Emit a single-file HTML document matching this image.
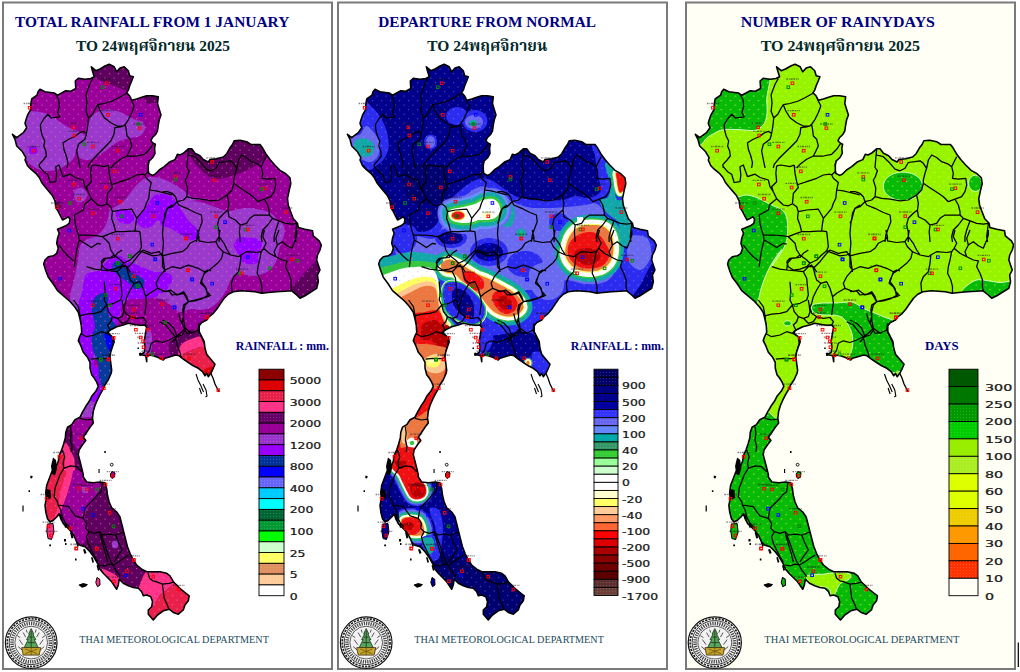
<!DOCTYPE html>
<html lang="th"><head><meta charset="utf-8"><title>Thai Meteorological Department - Rainfall maps</title>
<style>
html,body{margin:0;padding:0;background:#fff;}
svg{display:block;}
.t1{font-family:"Liberation Serif","Times New Roman",serif;font-weight:bold;font-size:15.4px;fill:#000080;}
.t2{font-family:"Liberation Serif","Noto Serif Thai","FreeSerif","Trirong","Taviraj","Noto Sans Thai",serif;font-weight:bold;font-size:15.4px;fill:#002828;}
.ft{font-family:"Liberation Serif","Times New Roman",serif;font-size:10.3px;fill:#1c4a5c;}
.lt{font-family:"Liberation Serif","Times New Roman",serif;font-weight:bold;font-size:11.9px;fill:#000080;}
.lb{font-family:"DejaVu Sans","Liberation Sans",sans-serif;font-size:8.1px;fill:#111;stroke:#222;stroke-width:0.22px;}
</style></head><body>
<svg width="1020" height="672" viewBox="0 0 1020 672">
<rect x="0" y="0" width="1020" height="672" fill="#fff"/>
<rect x="3" y="2.5" width="329" height="666.5" fill="#ffffff" stroke="#7a7a7a" stroke-width="2"/>
<rect x="338" y="2.5" width="329" height="666.5" fill="#ffffff" stroke="#7a7a7a" stroke-width="2"/>
<rect x="686" y="2.5" width="329" height="666.5" fill="#fffff6" stroke="#7a7a7a" stroke-width="2"/>
<defs>
<pattern id="dots" width="3" height="3" patternUnits="userSpaceOnUse"><rect x="0" y="0" width="1" height="1" fill="#fff"/></pattern><clipPath id="thai"><polygon points="91.3,66.8 95.8,70.7 100.0,69.0 105.0,66.0 109.2,64.3 114.2,66.8 116.7,71.8 120.0,68.0 124.2,66.8 128.3,70.7 129.7,75.7 133.3,76.8 131.7,81.0 129.7,85.7 128.3,90.2 126.7,92.7 129.7,96.0 131.7,100.2 136.7,99.0 141.7,97.3 146.7,95.7 152.5,95.7 158.3,96.8 157.5,103.5 159.2,109.3 161.0,115.0 159.2,120.0 158.3,125.0 157.5,130.8 155.8,134.2 152.5,137.5 150.8,140.8 153.3,143.3 155.4,144.2 154.6,148.3 155.0,153.3 152.9,157.5 149.2,160.8 148.3,165.0 148.3,170.0 148.8,173.3 152.5,175.4 155.0,174.2 159.2,170.0 164.2,166.7 170.0,161.7 175.0,159.6 177.5,154.2 180.0,155.0 183.3,153.3 188.3,148.8 191.7,148.8 195.0,153.3 200.0,155.8 203.3,159.5 208.3,162.0 210.0,159.5 216.7,158.7 223.3,157.0 226.7,153.7 230.0,147.8 232.5,144.5 234.2,140.7 240.0,140.3 246.7,141.7 250.8,144.5 260.0,144.5 262.5,147.8 265.8,153.7 270.0,159.5 275.0,165.3 280.0,170.3 285.8,173.7 290.0,177.8 290.8,183.7 289.2,190.3 287.5,198.7 288.3,205.3 290.8,212.0 293.3,218.7 297.5,223.3 298.3,227.5 305.0,229.2 312.5,230.8 313.3,235.8 319.2,240.8 321.3,245.0 320.0,250.0 317.5,255.0 316.7,260.0 318.3,265.0 320.0,270.0 317.5,275.0 318.3,281.7 316.7,288.3 310.0,292.5 305.0,295.8 300.0,298.3 296.7,295.0 291.7,290.8 285.0,291.3 276.7,291.7 268.3,292.5 261.7,293.3 255.0,291.7 248.3,291.3 241.7,290.8 233.3,291.7 228.3,294.2 224.2,298.3 220.0,304.2 216.7,309.2 213.3,313.3 208.3,317.5 206.7,320.0 201.7,322.5 199.2,325.8 199.2,331.7 201.7,336.7 204.2,341.7 205.0,348.3 206.7,354.2 210.8,359.2 215.0,364.2 213.3,368.3 210.8,373.3 208.3,376.7 206.7,373.3 205.0,375.8 202.5,371.7 198.3,368.3 193.3,365.8 188.3,362.5 183.3,359.2 179.2,355.8 175.8,355.0 170.0,356.7 165.0,358.3 163.3,360.0 158.3,357.5 153.3,355.8 148.3,355.0 146.7,356.7 146.7,361.7 145.8,355.8 142.5,355.0 140.0,354.7 144.2,352.5 145.0,346.7 144.2,341.7 145.0,336.7 145.8,331.7 146.7,327.5 145.0,325.0 140.0,325.3 133.3,324.2 128.3,323.3 123.3,325.0 116.7,326.7 111.7,329.2 108.3,331.7 109.2,334.2 113.3,337.5 114.2,341.7 112.5,346.7 110.8,351.7 110.0,356.7 110.8,363.3 111.7,370.0 111.3,373.0 108.3,379.7 105.0,384.7 103.3,388.8 100.0,394.7 97.5,399.7 95.0,405.5 93.3,411.3 92.5,418.0 93.3,423.0 90.0,427.2 86.7,432.2 83.3,437.2 85.8,440.5 82.5,444.7 79.2,449.7 78.3,454.7 80.0,461.3 81.7,468.0 83.3,474.7 83.3,477.0 86.7,482.0 93.3,482.8 100.0,482.0 105.0,482.8 106.7,488.7 107.5,495.3 109.2,502.0 111.7,507.8 116.7,512.0 120.0,517.0 121.7,523.7 123.3,530.3 125.0,537.0 126.7,543.7 127.5,546.7 130.0,553.3 133.3,560.0 136.7,565.0 141.7,569.2 146.7,571.7 153.3,571.7 160.0,571.7 166.7,573.3 170.0,575.8 173.3,581.7 176.7,585.0 180.8,589.2 185.0,592.5 189.2,595.8 188.3,600.8 185.0,605.0 183.3,610.0 178.3,614.2 173.3,612.5 169.2,609.2 163.3,610.8 157.5,615.0 153.3,620.0 148.3,614.2 148.3,610.0 151.7,606.7 152.5,601.7 150.8,596.7 146.7,595.0 143.3,595.8 141.7,591.7 138.3,588.3 133.3,587.5 128.3,585.8 123.3,583.3 119.2,579.2 118.3,585.0 116.7,589.2 115.0,586.7 111.7,581.7 107.5,577.5 103.3,573.3 100.0,569.2 97.5,563.3 94.2,557.5 90.0,551.7 85.0,546.7 80.0,545.3 76.7,542.0 74.2,536.2 70.8,531.2 67.5,527.8 63.3,523.7 60.8,518.7 59.2,513.7 56.7,517.0 53.3,520.3 50.0,522.0 47.5,518.7 45.8,512.0 45.0,505.3 46.3,498.7 45.8,492.0 46.7,485.3 49.2,478.7 51.7,472.0 55.8,467.2 58.3,461.3 59.2,455.5 61.7,449.7 63.7,443.8 65.3,438.0 65.8,432.2 67.5,427.2 71.7,424.7 75.0,419.7 80.0,417.2 82.5,412.2 85.8,406.3 89.2,401.3 91.7,396.3 95.8,391.3 98.3,386.3 96.7,382.2 94.2,378.0 91.7,374.7 90.0,368.0 90.0,362.3 87.5,357.3 83.3,352.3 80.8,345.7 78.3,340.7 79.7,336.5 81.7,332.3 81.3,325.7 80.0,319.0 78.3,312.3 75.0,307.3 70.0,301.5 63.3,295.7 57.5,290.7 53.3,284.0 48.3,277.3 45.8,270.7 43.7,264.0 45.0,260.0 48.3,256.7 53.3,255.8 56.7,253.3 58.3,248.3 56.7,243.3 57.5,238.3 59.2,233.3 57.5,229.2 61.7,227.5 65.8,225.8 69.2,223.3 70.0,219.2 68.3,216.7 65.8,218.3 62.5,220.0 60.8,216.7 58.3,211.7 55.8,207.5 55.0,200.8 52.5,195.8 49.2,191.7 45.0,186.7 41.7,182.5 39.2,177.5 35.8,173.3 30.8,169.2 27.5,165.8 25.0,160.0 25.8,157.7 22.5,151.8 16.7,146.0 15.0,139.3 12.5,134.3 16.7,137.7 23.3,132.7 26.7,127.7 25.0,123.5 25.8,120.2 27.5,115.2 30.8,109.3 30.8,104.3 31.7,99.0 37.0,95.2 38.0,91.8 40.0,89.3 45.0,91.8 54.2,93.0 57.5,95.2 65.8,90.7 70.8,91.3 75.8,88.5 75.3,81.0 78.3,78.2 85.0,79.3 90.8,78.5 94.2,76.8 92.7,71.8"/></clipPath><pattern id="tx0" width="9" height="9" patternUnits="userSpaceOnUse"><rect x="1" y="1" width="1.2" height="1.2" fill="#ff70c8"/><rect x="5.5" y="5.5" width="1.2" height="1.2" fill="#ff70c8"/></pattern><pattern id="tx1" width="9" height="9" patternUnits="userSpaceOnUse"><rect x="1" y="1" width="1.2" height="1.2" fill="#9ab0ff"/><rect x="5.5" y="5.5" width="1.2" height="1.2" fill="#9ab0ff"/></pattern><pattern id="tx2" width="9" height="9" patternUnits="userSpaceOnUse"><rect x="1" y="1" width="1.2" height="1.2" fill="#f0ff30"/><rect x="5.5" y="5.5" width="1.2" height="1.2" fill="#f0ff30"/></pattern><clipPath id="frame0"><rect x="4" y="4" width="327" height="664"/></clipPath><clipPath id="frame1"><rect x="339" y="4" width="327" height="664"/></clipPath><clipPath id="frame2"><rect x="687" y="4" width="327" height="664"/></clipPath>
</defs>
<g clip-path="url(#frame0)"><g transform="translate(0,0) scale(1,1)"><polygon points="91.3,66.8 95.8,70.7 100.0,69.0 105.0,66.0 109.2,64.3 114.2,66.8 116.7,71.8 120.0,68.0 124.2,66.8 128.3,70.7 129.7,75.7 133.3,76.8 131.7,81.0 129.7,85.7 128.3,90.2 126.7,92.7 129.7,96.0 131.7,100.2 136.7,99.0 141.7,97.3 146.7,95.7 152.5,95.7 158.3,96.8 157.5,103.5 159.2,109.3 161.0,115.0 159.2,120.0 158.3,125.0 157.5,130.8 155.8,134.2 152.5,137.5 150.8,140.8 153.3,143.3 155.4,144.2 154.6,148.3 155.0,153.3 152.9,157.5 149.2,160.8 148.3,165.0 148.3,170.0 148.8,173.3 152.5,175.4 155.0,174.2 159.2,170.0 164.2,166.7 170.0,161.7 175.0,159.6 177.5,154.2 180.0,155.0 183.3,153.3 188.3,148.8 191.7,148.8 195.0,153.3 200.0,155.8 203.3,159.5 208.3,162.0 210.0,159.5 216.7,158.7 223.3,157.0 226.7,153.7 230.0,147.8 232.5,144.5 234.2,140.7 240.0,140.3 246.7,141.7 250.8,144.5 260.0,144.5 262.5,147.8 265.8,153.7 270.0,159.5 275.0,165.3 280.0,170.3 285.8,173.7 290.0,177.8 290.8,183.7 289.2,190.3 287.5,198.7 288.3,205.3 290.8,212.0 293.3,218.7 297.5,223.3 298.3,227.5 305.0,229.2 312.5,230.8 313.3,235.8 319.2,240.8 321.3,245.0 320.0,250.0 317.5,255.0 316.7,260.0 318.3,265.0 320.0,270.0 317.5,275.0 318.3,281.7 316.7,288.3 310.0,292.5 305.0,295.8 300.0,298.3 296.7,295.0 291.7,290.8 285.0,291.3 276.7,291.7 268.3,292.5 261.7,293.3 255.0,291.7 248.3,291.3 241.7,290.8 233.3,291.7 228.3,294.2 224.2,298.3 220.0,304.2 216.7,309.2 213.3,313.3 208.3,317.5 206.7,320.0 201.7,322.5 199.2,325.8 199.2,331.7 201.7,336.7 204.2,341.7 205.0,348.3 206.7,354.2 210.8,359.2 215.0,364.2 213.3,368.3 210.8,373.3 208.3,376.7 206.7,373.3 205.0,375.8 202.5,371.7 198.3,368.3 193.3,365.8 188.3,362.5 183.3,359.2 179.2,355.8 175.8,355.0 170.0,356.7 165.0,358.3 163.3,360.0 158.3,357.5 153.3,355.8 148.3,355.0 146.7,356.7 146.7,361.7 145.8,355.8 142.5,355.0 140.0,354.7 144.2,352.5 145.0,346.7 144.2,341.7 145.0,336.7 145.8,331.7 146.7,327.5 145.0,325.0 140.0,325.3 133.3,324.2 128.3,323.3 123.3,325.0 116.7,326.7 111.7,329.2 108.3,331.7 109.2,334.2 113.3,337.5 114.2,341.7 112.5,346.7 110.8,351.7 110.0,356.7 110.8,363.3 111.7,370.0 111.3,373.0 108.3,379.7 105.0,384.7 103.3,388.8 100.0,394.7 97.5,399.7 95.0,405.5 93.3,411.3 92.5,418.0 93.3,423.0 90.0,427.2 86.7,432.2 83.3,437.2 85.8,440.5 82.5,444.7 79.2,449.7 78.3,454.7 80.0,461.3 81.7,468.0 83.3,474.7 83.3,477.0 86.7,482.0 93.3,482.8 100.0,482.0 105.0,482.8 106.7,488.7 107.5,495.3 109.2,502.0 111.7,507.8 116.7,512.0 120.0,517.0 121.7,523.7 123.3,530.3 125.0,537.0 126.7,543.7 127.5,546.7 130.0,553.3 133.3,560.0 136.7,565.0 141.7,569.2 146.7,571.7 153.3,571.7 160.0,571.7 166.7,573.3 170.0,575.8 173.3,581.7 176.7,585.0 180.8,589.2 185.0,592.5 189.2,595.8 188.3,600.8 185.0,605.0 183.3,610.0 178.3,614.2 173.3,612.5 169.2,609.2 163.3,610.8 157.5,615.0 153.3,620.0 148.3,614.2 148.3,610.0 151.7,606.7 152.5,601.7 150.8,596.7 146.7,595.0 143.3,595.8 141.7,591.7 138.3,588.3 133.3,587.5 128.3,585.8 123.3,583.3 119.2,579.2 118.3,585.0 116.7,589.2 115.0,586.7 111.7,581.7 107.5,577.5 103.3,573.3 100.0,569.2 97.5,563.3 94.2,557.5 90.0,551.7 85.0,546.7 80.0,545.3 76.7,542.0 74.2,536.2 70.8,531.2 67.5,527.8 63.3,523.7 60.8,518.7 59.2,513.7 56.7,517.0 53.3,520.3 50.0,522.0 47.5,518.7 45.8,512.0 45.0,505.3 46.3,498.7 45.8,492.0 46.7,485.3 49.2,478.7 51.7,472.0 55.8,467.2 58.3,461.3 59.2,455.5 61.7,449.7 63.7,443.8 65.3,438.0 65.8,432.2 67.5,427.2 71.7,424.7 75.0,419.7 80.0,417.2 82.5,412.2 85.8,406.3 89.2,401.3 91.7,396.3 95.8,391.3 98.3,386.3 96.7,382.2 94.2,378.0 91.7,374.7 90.0,368.0 90.0,362.3 87.5,357.3 83.3,352.3 80.8,345.7 78.3,340.7 79.7,336.5 81.7,332.3 81.3,325.7 80.0,319.0 78.3,312.3 75.0,307.3 70.0,301.5 63.3,295.7 57.5,290.7 53.3,284.0 48.3,277.3 45.8,270.7 43.7,264.0 45.0,260.0 48.3,256.7 53.3,255.8 56.7,253.3 58.3,248.3 56.7,243.3 57.5,238.3 59.2,233.3 57.5,229.2 61.7,227.5 65.8,225.8 69.2,223.3 70.0,219.2 68.3,216.7 65.8,218.3 62.5,220.0 60.8,216.7 58.3,211.7 55.8,207.5 55.0,200.8 52.5,195.8 49.2,191.7 45.0,186.7 41.7,182.5 39.2,177.5 35.8,173.3 30.8,169.2 27.5,165.8 25.0,160.0 25.8,157.7 22.5,151.8 16.7,146.0 15.0,139.3 12.5,134.3 16.7,137.7 23.3,132.7 26.7,127.7 25.0,123.5 25.8,120.2 27.5,115.2 30.8,109.3 30.8,104.3 31.7,99.0 37.0,95.2 38.0,91.8 40.0,89.3 45.0,91.8 54.2,93.0 57.5,95.2 65.8,90.7 70.8,91.3 75.8,88.5 75.3,81.0 78.3,78.2 85.0,79.3 90.8,78.5 94.2,76.8 92.7,71.8" fill="#990099"/><g clip-path="url(#thai)"><path d="M20.0,109.0C21.3,107.2 26.7,110.5 30.0,111.0C33.3,111.5 36.7,111.3 40.0,112.0C43.3,112.7 46.7,113.3 50.0,115.0C53.3,116.7 56.7,119.8 60.0,122.0C63.3,124.2 66.7,126.3 70.0,128.0C73.3,129.7 77.7,130.7 80.0,132.0C82.3,133.3 84.0,134.3 84.0,136.0C84.0,137.7 81.3,139.7 80.0,142.0C78.7,144.3 77.0,147.3 76.0,150.0C75.0,152.7 75.7,155.5 74.0,158.0C72.3,160.5 69.0,163.0 66.0,165.0C63.0,167.0 59.3,169.0 56.0,170.0C52.7,171.0 49.0,171.2 46.0,171.0C43.0,170.8 40.7,170.2 38.0,169.0C35.3,167.8 32.3,166.2 30.0,164.0C27.7,161.8 26.0,158.7 24.0,156.0C22.0,153.3 20.7,150.7 18.0,148.0C15.3,145.3 9.7,142.5 8.0,140.0C6.3,137.5 6.0,133.8 8.0,133.0C10.0,132.2 17.7,136.8 20.0,135.0C22.3,133.2 22.0,126.3 22.0,122.0C22.0,117.7 18.7,110.8 20.0,109.0Z" fill="#9a3acd"/><path d="M80.0,142.0C81.2,139.3 82.7,139.0 84.0,136.0C85.3,133.0 86.3,127.7 88.0,124.0C89.7,120.3 91.3,116.3 94.0,114.0C96.7,111.7 101.0,110.7 104.0,110.0C107.0,109.3 109.3,109.7 112.0,110.0C114.7,110.3 117.3,111.0 120.0,112.0C122.7,113.0 125.3,114.7 128.0,116.0C130.7,117.3 133.5,119.0 136.0,120.0C138.5,121.0 141.5,120.5 143.0,122.0C144.5,123.5 145.5,126.7 145.0,129.0C144.5,131.3 142.3,134.5 140.0,136.0C137.7,137.5 134.3,137.2 131.0,138.0C127.7,138.8 123.2,139.7 120.0,141.0C116.8,142.3 114.7,144.2 112.0,146.0C109.3,147.8 106.7,150.2 104.0,152.0C101.3,153.8 98.7,155.7 96.0,157.0C93.3,158.3 90.7,159.8 88.0,160.0C85.3,160.2 81.8,159.3 80.0,158.0C78.2,156.7 77.0,154.7 77.0,152.0C77.0,149.3 78.8,144.7 80.0,142.0Z" fill="#9a3acd"/><path d="M29.6,147.0C30.6,145.9 34.8,146.0 36.0,147.0C37.2,148.0 38.0,151.9 37.0,153.0C36.0,154.1 31.2,154.6 30.0,153.6C28.8,152.6 28.6,148.1 29.6,147.0Z" fill="#9500ff"/><path d="M75.0,190.0C76.3,188.7 80.0,187.3 82.0,188.0C84.0,188.7 86.7,191.8 87.0,194.0C87.3,196.2 85.7,199.7 84.0,201.0C82.3,202.3 78.7,202.8 77.0,202.0C75.3,201.2 74.3,198.0 74.0,196.0C73.7,194.0 73.7,191.3 75.0,190.0Z" fill="#9a3acd"/><path d="M70.0,298.0C70.0,291.3 72.7,286.3 74.0,280.0C75.3,273.7 77.0,265.7 78.0,260.0C79.0,254.3 78.7,249.3 80.0,246.0C81.3,242.7 83.3,241.7 86.0,240.0C88.7,238.3 93.0,238.0 96.0,236.0C99.0,234.0 102.0,231.0 104.0,228.0C106.0,225.0 107.0,221.0 108.0,218.0C109.0,215.0 108.0,212.3 110.0,210.0C112.0,207.7 117.0,206.3 120.0,204.0C123.0,201.7 125.7,198.7 128.0,196.0C130.3,193.3 131.7,190.7 134.0,188.0C136.3,185.3 139.3,181.8 142.0,180.0C144.7,178.2 147.0,177.3 150.0,177.0C153.0,176.7 156.7,177.2 160.0,178.0C163.3,178.8 166.7,180.3 170.0,182.0C173.3,183.7 177.0,186.0 180.0,188.0C183.0,190.0 186.0,192.5 188.0,194.0C190.0,195.5 190.0,196.3 192.0,197.0C194.0,197.7 197.0,197.7 200.0,198.0C203.0,198.3 206.7,199.0 210.0,199.0C213.3,199.0 225.0,197.5 220.0,198.0C215.0,198.5 185.0,201.5 180.0,202.0C175.0,202.5 186.7,201.0 190.0,201.0C193.3,201.0 196.7,201.3 200.0,202.0C203.3,202.7 206.7,203.8 210.0,205.0C213.3,206.2 216.7,208.0 220.0,209.0C223.3,210.0 227.0,211.0 230.0,211.0C233.0,211.0 234.7,209.5 238.0,209.0C241.3,208.5 246.0,207.8 250.0,208.0C254.0,208.2 258.3,209.0 262.0,210.0C265.7,211.0 269.3,212.3 272.0,214.0C274.7,215.7 276.0,218.0 278.0,220.0C280.0,222.0 283.0,223.3 284.0,226.0C285.0,228.7 284.7,232.7 284.0,236.0C283.3,239.3 281.0,243.0 280.0,246.0C279.0,249.0 278.7,251.3 278.0,254.0C277.3,256.7 277.3,259.3 276.0,262.0C274.7,264.7 272.3,268.0 270.0,270.0C267.7,272.0 264.7,273.0 262.0,274.0C259.3,275.0 256.7,275.8 254.0,276.0C251.3,276.2 248.7,275.3 246.0,275.0C243.3,274.7 240.3,273.5 238.0,274.0C235.7,274.5 233.7,276.0 232.0,278.0C230.3,280.0 229.3,283.3 228.0,286.0C226.7,288.7 225.7,291.3 224.0,294.0C222.3,296.7 220.3,299.7 218.0,302.0C215.7,304.3 213.0,306.7 210.0,308.0C207.0,309.3 203.3,309.7 200.0,310.0C196.7,310.3 192.7,309.7 190.0,310.0C187.3,310.3 186.0,310.7 184.0,312.0C182.0,313.3 180.3,316.7 178.0,318.0C175.7,319.3 172.0,320.0 170.0,320.0C168.0,320.0 167.7,319.3 166.0,318.0C164.3,316.7 162.7,313.7 160.0,312.0C157.3,310.3 153.3,309.2 150.0,308.0C146.7,306.8 143.7,305.3 140.0,305.0C136.3,304.7 131.0,304.8 128.0,306.0C125.0,307.2 123.7,309.3 122.0,312.0C120.3,314.7 119.7,319.0 118.0,322.0C116.3,325.0 115.0,326.2 112.0,330.0C109.0,333.8 103.3,338.0 100.0,345.0C96.7,352.0 92.7,364.2 92.0,372.0C91.3,379.8 96.3,384.0 96.0,392.0C95.7,400.0 92.7,414.5 90.0,420.0C87.3,425.5 80.7,428.3 80.0,425.0C79.3,421.7 84.3,407.5 86.0,400.0C87.7,392.5 90.3,386.7 90.0,380.0C89.7,373.3 86.3,366.7 84.0,360.0C81.7,353.3 77.7,346.7 76.0,340.0C74.3,333.3 75.0,327.0 74.0,320.0C73.0,313.0 70.0,304.7 70.0,298.0Z" fill="#9a3acd"/><path d="M124.0,303.0C126.3,300.7 130.7,298.0 135.0,297.0C139.3,296.0 145.3,296.5 150.0,297.0C154.7,297.5 159.3,298.5 163.0,300.0C166.7,301.5 169.2,304.0 172.0,306.0C174.8,308.0 176.7,311.5 180.0,312.0C183.3,312.5 188.2,309.0 192.0,309.0C195.8,309.0 200.0,310.5 203.0,312.0C206.0,313.5 210.0,315.7 210.0,318.0C210.0,320.3 205.0,323.0 203.0,326.0C201.0,329.0 200.8,333.7 198.0,336.0C195.2,338.3 189.7,338.3 186.0,340.0C182.3,341.7 179.3,343.0 176.0,346.0C172.7,349.0 170.0,356.2 166.0,358.0C162.0,359.8 154.7,360.0 152.0,357.0C149.3,354.0 150.8,345.0 150.0,340.0C149.2,335.0 149.3,329.8 147.0,327.0C144.7,324.2 139.5,324.2 136.0,323.0C132.5,321.8 128.5,322.0 126.0,320.0C123.5,318.0 121.3,313.8 121.0,311.0C120.7,308.2 121.7,305.3 124.0,303.0Z" fill="#990099"/><path d="M145.0,330.0C146.2,328.0 149.8,329.5 151.0,332.0C152.2,334.5 152.3,341.0 152.0,345.0C151.7,349.0 150.5,354.2 149.0,356.0C147.5,357.8 143.8,358.0 143.0,356.0C142.2,354.0 143.7,348.3 144.0,344.0C144.3,339.7 143.8,332.0 145.0,330.0Z" fill="#9a3acd"/><path d="M116.0,212.0C117.2,210.5 121.3,209.0 124.0,209.0C126.7,209.0 130.3,210.2 132.0,212.0C133.7,213.8 134.7,218.0 134.0,220.0C133.3,222.0 130.3,223.7 128.0,224.0C125.7,224.3 121.8,223.0 120.0,222.0C118.2,221.0 117.7,219.7 117.0,218.0C116.3,216.3 114.8,213.5 116.0,212.0Z" fill="#9500ff"/><path d="M137.0,222.0C136.3,219.7 138.2,217.0 140.0,214.0C141.8,211.0 145.7,207.0 148.0,204.0C150.3,201.0 151.7,197.7 154.0,196.0C156.3,194.3 159.0,193.8 162.0,194.0C165.0,194.2 169.0,194.7 172.0,197.0C175.0,199.3 177.3,204.2 180.0,208.0C182.7,211.8 185.0,216.3 188.0,220.0C191.0,223.7 196.0,227.3 198.0,230.0C200.0,232.7 201.0,234.3 200.0,236.0C199.0,237.7 195.3,240.3 192.0,240.0C188.7,239.7 183.7,236.0 180.0,234.0C176.3,232.0 173.0,229.3 170.0,228.0C167.0,226.7 164.0,227.3 162.0,226.0C160.0,224.7 159.7,220.0 158.0,220.0C156.3,220.0 154.3,224.7 152.0,226.0C149.7,227.3 146.5,228.7 144.0,228.0C141.5,227.3 137.7,224.3 137.0,222.0Z" fill="#9500ff"/><path d="M86.0,298.0C76.0,295.7 89.7,288.7 92.0,284.0C94.3,279.3 97.0,274.3 100.0,270.0C103.0,265.7 106.7,260.3 110.0,258.0C113.3,255.7 117.3,255.7 120.0,256.0C122.7,256.3 123.7,258.7 126.0,260.0C128.3,261.3 131.0,262.7 134.0,264.0C137.0,265.3 140.7,266.7 144.0,268.0C147.3,269.3 150.7,271.3 154.0,272.0C157.3,272.7 161.0,271.3 164.0,272.0C167.0,272.7 171.3,274.0 172.0,276.0C172.7,278.0 170.3,282.0 168.0,284.0C165.7,286.0 160.7,285.7 158.0,288.0C155.3,290.3 164.0,296.3 152.0,298.0C140.0,299.7 96.0,300.3 86.0,298.0Z" fill="#9500ff"/><path d="M234.0,244.0C235.0,242.2 238.7,240.0 242.0,239.0C245.3,238.0 250.7,237.3 254.0,238.0C257.3,238.7 261.0,241.0 262.0,243.0C263.0,245.0 260.7,247.7 260.0,250.0C259.3,252.3 258.0,255.2 258.0,257.0C258.0,258.8 260.7,259.8 260.0,261.0C259.3,262.2 256.3,263.6 254.0,264.0C251.7,264.4 248.3,264.3 246.0,263.6C243.7,262.9 240.8,261.6 240.0,260.0C239.2,258.4 241.7,255.7 241.0,254.0C240.3,252.3 237.2,251.7 236.0,250.0C234.8,248.3 233.0,245.8 234.0,244.0Z" fill="#9500ff"/><path d="M130.0,267.0C132.0,262.7 138.0,269.2 142.0,270.0C146.0,270.8 150.3,271.3 154.0,272.0C157.7,272.7 161.0,273.0 164.0,274.0C167.0,275.0 171.0,276.3 172.0,278.0C173.0,279.7 172.0,282.7 170.0,284.0C168.0,285.3 163.3,285.0 160.0,286.0C156.7,287.0 153.3,288.7 150.0,290.0C146.7,291.3 143.3,293.0 140.0,294.0C136.7,295.0 131.7,300.5 130.0,296.0C128.3,291.5 128.0,271.3 130.0,267.0Z" fill="#9500ff"/><path d="M236.0,240.0C237.3,237.3 244.0,236.0 246.0,238.0C248.0,240.0 249.3,249.3 248.0,252.0C246.7,254.7 240.0,256.0 238.0,254.0C236.0,252.0 234.7,242.7 236.0,240.0Z" fill="#9500ff"/><path d="M86.7,274.0C89.4,271.8 95.0,271.8 100.0,270.7C105.0,269.6 111.1,268.4 116.7,267.3C122.2,266.2 127.8,263.4 133.3,264.0C138.9,264.6 144.4,269.0 150.0,270.7C155.6,272.3 163.3,271.8 166.7,274.0C170.0,276.2 170.6,280.9 170.0,284.0C169.4,287.1 166.7,290.4 163.3,292.3C160.0,294.3 155.0,294.8 150.0,295.7C145.0,296.5 137.8,296.2 133.3,297.3C128.9,298.4 125.6,299.6 123.3,302.3C121.1,305.1 121.1,310.4 120.0,314.0C118.9,317.6 118.3,321.2 116.7,324.0C115.0,326.8 111.7,329.0 110.0,330.7C108.3,332.3 108.3,332.6 106.7,334.0C105.0,335.4 102.2,335.1 100.0,339.0C97.8,342.9 93.9,351.2 93.3,357.3C92.8,363.5 97.2,372.9 96.7,376.0C96.1,379.1 91.7,378.0 90.0,376.0C88.3,374.0 88.3,368.2 86.7,364.0C85.0,359.8 81.4,355.1 80.0,350.7C78.6,346.2 78.2,341.2 78.3,337.3C78.5,333.4 80.6,331.2 80.8,327.3C81.1,323.4 80.4,317.9 80.0,314.0C79.6,310.1 78.1,307.3 78.3,304.0C78.6,300.7 80.8,297.3 81.7,294.0C82.5,290.7 82.5,287.3 83.3,284.0C84.2,280.7 83.9,276.2 86.7,274.0Z" fill="#9500ff"/><path d="M91.0,372.0C91.8,368.7 98.0,365.3 100.0,368.0C102.0,370.7 103.2,383.2 103.0,388.0C102.8,392.8 100.5,394.7 99.0,397.0C97.5,399.3 95.5,401.8 94.0,402.0C92.5,402.2 89.8,400.3 90.0,398.0C90.2,395.7 94.8,392.3 95.0,388.0C95.2,383.7 90.2,375.3 91.0,372.0Z" fill="#9500ff"/><path d="M113.0,264.0C113.8,262.5 116.5,261.0 118.0,261.0C119.5,261.0 121.0,262.7 122.0,264.0C123.0,265.3 122.7,267.7 124.0,269.0C125.3,270.3 128.0,270.8 130.0,272.0C132.0,273.2 133.8,274.8 136.0,276.0C138.2,277.2 141.7,277.7 143.0,279.0C144.3,280.3 144.5,282.5 144.0,284.0C143.5,285.5 141.7,287.5 140.0,288.0C138.3,288.5 135.7,288.0 134.0,287.0C132.3,286.0 131.7,283.5 130.0,282.0C128.3,280.5 126.0,279.3 124.0,278.0C122.0,276.7 119.8,275.3 118.0,274.0C116.2,272.7 113.8,271.7 113.0,270.0C112.2,268.3 112.2,265.5 113.0,264.0Z" fill="#043a9c"/><path d="M115.0,264.0C116.7,263.4 120.8,264.3 123.3,265.7C125.8,267.1 127.5,270.7 130.0,272.3C132.5,274.0 136.1,274.3 138.3,275.7C140.6,277.1 142.8,278.7 143.3,280.7C143.9,282.6 143.1,285.9 141.7,287.3C140.3,288.7 136.9,289.6 135.0,289.0C133.1,288.4 131.9,285.7 130.0,284.0C128.1,282.3 125.6,280.7 123.3,279.0C121.1,277.3 118.3,275.7 116.7,274.0C115.0,272.3 113.6,270.7 113.3,269.0C113.1,267.3 113.3,264.6 115.0,264.0Z" fill="#043a9c"/><path d="M98.3,294.8C100.1,293.9 103.3,292.5 105.0,293.2C106.7,293.9 108.1,296.6 108.3,299.0C108.6,301.4 106.7,304.8 106.7,307.3C106.7,309.8 106.9,311.2 108.3,314.0C109.7,316.8 113.6,321.8 115.0,324.0C116.4,326.2 117.5,326.2 116.7,327.3C115.8,328.4 111.7,329.6 110.0,330.7C108.3,331.8 106.4,333.2 106.7,334.0C106.9,334.8 110.4,334.6 111.7,335.7C112.9,336.8 114.0,338.7 114.2,340.7C114.3,342.6 113.2,345.1 112.5,347.3C111.8,349.6 110.4,351.8 110.0,354.0C109.6,356.2 109.9,358.4 110.0,360.7C110.1,362.9 110.7,364.8 110.8,367.3C111.0,369.9 112.6,374.6 110.8,376.0C109.0,377.4 102.1,378.0 100.0,376.0C97.9,374.0 99.4,368.2 98.3,364.0C97.2,359.8 94.4,355.1 93.3,350.7C92.2,346.2 91.4,341.2 91.7,337.3C91.9,333.4 94.7,330.7 95.0,327.3C95.3,324.0 93.9,320.7 93.3,317.3C92.8,314.0 91.5,310.4 91.7,307.3C91.8,304.3 93.1,301.1 94.2,299.0C95.3,296.9 96.5,295.8 98.3,294.8Z" fill="#043a9c"/><polygon points="100.0,368.0 112.0,368.0 111.5,373.0 108.5,380.0 105.0,385.0 103.5,389.0 100.5,382.0 98.5,376.0" fill="#043a9c"/><path d="M105.0,334.0C106.1,333.2 110.1,334.8 111.7,336.0C113.2,337.2 114.2,339.1 114.3,341.0C114.5,342.9 113.3,345.6 112.7,347.3C112.0,349.1 111.2,351.5 110.3,351.5C109.5,351.5 108.3,349.1 107.5,347.3C106.7,345.5 105.8,342.9 105.3,340.7C104.9,338.4 103.9,334.8 105.0,334.0Z" fill="#0000ff"/><polygon points="88.0,60.0 136.0,60.0 136.0,80.0 128.0,91.5 93.0,77.5" fill="#5e005e"/><polygon points="142.0,94.0 160.0,94.0 158.0,102.0 147.0,104.0" fill="#5e005e"/><path d="M185.0,140.0C171.6,141.8 185.3,146.5 187.5,151.0C189.7,155.5 193.4,162.4 198.0,167.0C202.6,171.6 208.3,177.6 215.0,178.7C221.7,179.8 231.7,175.6 238.0,173.7C244.3,171.8 248.2,169.8 253.0,167.0C257.8,164.2 264.2,161.5 266.7,157.0C269.2,152.5 281.6,142.8 268.0,140.0C254.4,137.2 198.4,138.2 185.0,140.0Z" fill="#5e005e"/><polygon points="322.0,254.0 286.0,293.0 300.0,302.0 325.0,295.0" fill="#5e005e"/><polygon points="54.0,203.0 60.0,201.0 62.0,207.0 57.0,210.0" fill="#5e005e"/><path d="M175.0,338.3C177.2,336.9 180.2,334.8 183.3,333.3C186.4,331.8 190.8,329.5 193.3,329.2C195.8,328.9 197.2,330.4 198.3,331.7C199.4,332.9 200.8,335.6 200.0,336.7C199.2,337.8 195.8,337.5 193.3,338.3C190.8,339.1 187.2,340.3 185.0,341.7C182.8,343.1 181.1,344.8 180.0,346.7C178.9,348.6 179.7,351.8 178.3,353.3C176.9,354.9 173.4,356.8 171.7,356.0C170.0,355.2 168.6,350.7 168.3,348.3C168.0,345.9 168.9,343.4 170.0,341.7C171.1,340.0 172.8,339.7 175.0,338.3Z" fill="#5e005e"/><polygon points="60.0,445.0 66.0,428.0 72.0,425.0 95.0,425.0 100.0,445.0 135.0,480.0 200.0,570.0 200.0,630.0 40.0,630.0 40.0,480.0" fill="#5e005e"/><path d="M72.0,425.5C73.2,422.7 75.9,419.2 80.0,418.0C84.1,416.8 94.0,417.0 96.7,418.0C99.3,419.0 97.2,421.5 95.8,423.8C94.4,426.2 90.1,429.9 88.3,432.2C86.5,434.4 85.3,435.8 85.0,437.2C84.7,438.6 86.9,439.2 86.7,440.5C86.4,441.8 84.4,443.1 83.3,444.7C82.2,446.2 81.2,449.4 80.0,450.0C78.8,450.6 76.9,449.4 75.8,448.0C74.7,446.6 73.8,443.6 73.3,441.3C72.9,439.1 73.2,437.3 73.0,434.7C72.8,432.0 70.8,428.3 72.0,425.5Z" fill="#990099"/><polygon points="63.7,443.8 66.7,443.0 70.0,449.7 74.2,458.0 75.0,468.0 75.8,481.3 50.0,481.3 53.3,468.0 60.0,451.3" fill="#ff3388"/><polygon points="59.2,455.5 63.3,454.7 65.0,461.3 64.2,468.0 62.5,481.3 50.0,481.3 54.2,473.0 55.8,467.2 57.5,461.3" fill="#e8204a"/><polygon points="65.0,470.3 73.3,470.3 70.8,482.0 67.5,493.7 63.3,505.3 60.0,513.7 58.3,520.3 53.3,521.2 51.7,522.8 43.3,522.0 43.3,470.3" fill="#ff3388"/><path d="M43.3,470.3C46.9,463.4 61.7,468.4 65.0,470.3C68.3,472.3 64.2,478.1 63.3,482.0C62.5,485.9 60.8,489.8 60.0,493.7C59.2,497.6 59.2,501.7 58.3,505.3C57.5,508.9 56.1,512.6 55.0,515.3C53.9,518.1 52.9,521.3 51.7,522.0C50.4,522.7 48.9,521.2 47.5,519.5C46.1,517.8 44.0,520.2 43.3,512.0C42.6,503.8 39.7,477.3 43.3,470.3Z" fill="#e8204a"/><polygon points="73.3,470.3 81.7,470.3 83.3,477.0 86.7,482.0 93.3,482.3 100.3,481.7 100.8,488.7 96.7,495.3 91.7,503.7 86.7,510.3 85.0,515.3 86.7,525.3 88.3,535.3 85.0,542.0 80.0,546.2 76.7,542.8 74.2,536.2 70.8,531.2 67.5,527.8 63.3,523.7 60.8,518.7 60.0,513.7 63.3,505.3 67.5,493.7 70.8,482.0" fill="#990099"/><path d="M82.0,488.0C82.7,487.0 86.0,486.3 87.0,487.0C88.0,487.7 88.7,491.0 88.0,492.0C87.3,493.0 84.0,493.7 83.0,493.0C82.0,492.3 81.3,489.0 82.0,488.0Z" fill="#9a3acd"/><path d="M112.0,542.0C112.7,540.8 116.0,540.2 117.0,541.0C118.0,541.8 118.7,545.8 118.0,547.0C117.3,548.2 114.0,548.8 113.0,548.0C112.0,547.2 111.3,543.2 112.0,542.0Z" fill="#9a3acd"/><polygon points="101.7,568.3 110.0,571.7 116.7,575.8 119.2,579.2 118.3,585.0 116.7,590.0 111.7,582.5 107.5,578.3 102.5,574.2" fill="#ff3388"/><polygon points="143.3,575.8 146.7,570.8 160.0,570.0 170.0,574.2 175.0,583.3 160.0,595.0 153.3,606.7 151.7,610.0 147.5,612.5 151.7,606.7 153.3,601.7 150.8,596.7 146.7,594.2 143.3,596.7 141.7,591.7 138.3,588.7" fill="#ff3388"/><polygon points="175.0,583.3 180.8,588.3 190.0,595.8 189.2,600.8 185.8,605.0 184.2,610.0 178.3,615.0 173.3,613.3 169.2,610.0 163.3,611.7 157.5,615.8 153.3,620.8 147.5,615.0 147.5,611.7 153.3,606.7 160.0,595.0" fill="#e8204a"/><path d="M180.0,346.7C181.1,344.6 182.8,343.1 185.0,341.7C187.2,340.3 190.8,339.1 193.3,338.3C195.8,337.5 198.2,336.1 200.0,336.7C201.8,337.3 203.2,340.0 204.0,341.7C204.8,343.4 205.9,346.0 205.0,347.0C204.1,348.0 200.5,347.0 198.3,347.5C196.1,348.0 193.9,349.0 191.7,350.0C189.5,351.0 186.7,352.2 185.0,353.3C183.3,354.4 182.8,356.6 181.7,356.7C180.6,356.8 178.6,355.9 178.3,354.2C178.0,352.5 178.9,348.8 180.0,346.7Z" fill="#ff3388"/><polygon points="178.3,354.2 181.7,356.7 185.0,353.3 191.7,350.0 198.3,347.5 205.0,346.3 206.0,348.3 207.5,354.2 211.3,359.2 215.8,364.2 214.2,368.3 211.3,373.7 208.3,377.5 206.7,373.8 205.0,376.3 202.0,372.0 198.3,368.7 193.3,366.2 188.3,362.8 183.3,359.7 179.2,356.2" fill="#e8204a"/><polygon points="204.7,369.2 210.0,367.0 215.5,364.5 213.8,368.7 211.2,373.7 208.3,377.3 206.7,373.8 205.0,376.2 203.0,372.0" fill="#dd0000"/><rect x="0" y="50" width="340" height="600" fill="url(#tx0)" opacity="0.6"/><path d="M55.8,94.3 L58.7,99.7 L59.4,106.0 L57.7,112.7 L59.8,116.8 L51.3,118.0 L47.7,114.3 L43.7,119.0 L40.4,124.7 L40.8,129.7 L42.4,136.0 L44.8,141.0 L43.8,146.0 L45.8,151.3 L46.4,156.0 L42.4,161.0 L39.1,164.7 L39.6,168.0M93.0,78.5 L89.8,84.3 L86.0,94.7 L86.9,103.0 L86.0,111.3 L88.5,118.0 L92.5,114.3 L95.7,108.0 L97.8,104.7M97.8,104.7 L104.3,103.5 L112.4,101.0 L118.9,97.7 L125.3,94.0 L128.9,93.0M97.8,104.7 L100.3,111.0 L104.3,117.7 L110.8,122.7 L117.3,126.0 L123.7,126.0M128.9,93.0 L131.8,101.0 L134.2,106.0 L131.8,112.7 L128.6,119.3 L125.3,124.3 L123.7,126.0M123.7,126.0 L120.5,126.8 L114.8,127.7 L114.0,134.3 L110.8,141.0 L104.3,147.7 L97.8,154.3 L93.0,159.3 L89.0,164.3 L88.1,168.0M125.3,124.3 L126.2,129.3 L127.0,136.0 L130.2,139.3 L131.8,146.0 L128.6,152.7 L127.0,156.0 L136.7,156.0 L144.8,154.3 L149.6,149.3 L152.8,144.3 L155.3,142.7M88.5,118.0 L87.7,126.0 L86.5,133.5 L83.3,131.3 L79.2,133.0 L74.4,136.8 L68.7,139.3 L63.1,142.7 L63.9,149.3 L66.3,156.0 L67.9,162.7 L67.1,168.0M86.5,133.5 L84.9,139.3 L78.4,144.3 L76.8,151.0 L78.4,159.3 L80.1,168.0M127.0,156.0 L120.5,159.3 L114.0,164.3 L110.8,168.0M63.1,176.7 L70.4,174.2 L75.2,177.5 L83.3,180.0 L84.9,186.7 L88.1,191.7 L91.4,198.7 L97.8,205.0 L102.7,205.8 L106.7,203.7M91.4,198.7 L84.9,204.2 L83.3,210.0 L76.8,213.7 L74.4,215.0 L75.2,223.3 L76.8,230.0 L78.4,235.0 L88.1,235.0 L97.8,235.8 L102.7,236.7M78.4,235.0 L79.2,240.0 L76.8,250.0 L75.2,260.0 L74.4,266.7M79.2,240.0 L84.9,243.3 L91.4,247.5 L97.8,243.3 L101.1,244.2M59.0,245.0 L63.9,251.7 L68.7,256.7 L73.6,260.8M39.6,166.7 L43.7,171.7 L47.7,174.2 L50.1,182.5 L55.8,181.7 L56.6,175.0 L55.8,166.7 L59.0,165.0 L60.7,170.0 L63.1,176.7M91.4,165.8 L95.4,165.0 L104.3,166.7 L108.4,165.0M91.4,165.8 L90.6,173.3 L91.4,181.7 L86.5,186.7 L88.1,191.7M108.4,165.0 L109.2,173.3 L110.8,181.7 L112.4,187.5 L107.6,193.3 L106.7,203.7M110.8,185.0 L120.5,181.7 L130.2,178.3 L136.7,175.0 L143.1,174.2 L144.8,175.0 L149.6,170.0 L148.0,165.0 L149.6,160.0M144.8,175.0 L146.4,178.3 L151.2,182.5 L149.6,190.0 L148.8,198.3 L146.4,203.3 L144.8,208.3 L136.7,218.3 L135.9,223.3 L135.0,230.8M106.7,203.7 L110.8,206.7 L112.4,211.7 L120.5,210.0 L131.8,209.2 L135.0,215.0 L136.7,218.3M112.4,211.7 L111.6,218.3 L114.0,225.0 L115.6,231.7 L110.8,233.3 L102.7,236.7M115.6,231.7 L123.7,231.7 L135.0,230.8 L139.9,231.7 L140.7,238.3 L141.5,246.7 L139.9,250.8 L135.0,255.0 L130.2,260.0 L123.7,263.3 L120.5,266.7M149.6,190.0 L156.1,190.8 L162.5,192.5 L169.0,194.2 L172.2,195.0M139.9,250.8 L146.4,253.3 L152.8,255.8 L159.3,255.0 L162.5,253.3 L163.4,243.3 L162.5,233.3 L163.4,223.3 L165.0,213.3 L167.4,208.3 L172.2,205.0M102.7,236.7 L109.2,243.3 L110.8,250.0 L114.0,255.0 L120.5,260.0 L123.7,263.3M101.1,261.7 L104.3,258.3 L110.8,257.5 L114.0,255.0M101.1,261.7 L102.7,266.7 L107.6,270.0 L114.0,269.2 L120.5,266.7 L127.0,266.7 L130.2,272.0M162.5,253.3 L163.4,260.0 L164.2,266.7 L165.0,272.0M188.4,149.2 L187.6,158.3 L186.8,167.5 L189.2,170.8 L186.8,177.5 L185.2,180.0 L187.6,188.3 L186.8,196.7 L183.6,200.0 L177.1,201.7 L175.5,196.7 L172.2,193.3 L167.4,191.7 L162.5,191.7M188.4,155.0 L194.9,156.7 L201.4,163.3 L206.2,169.2 L211.1,170.8 L215.9,168.3 L219.1,162.5 L225.6,161.7 L230.5,160.8 L233.7,163.3 L236.9,168.3 L235.3,173.3 L233.7,180.0 L233.7,183.3M236.9,168.3 L238.6,160.0 L241.8,155.0 L246.6,157.5 L251.5,161.7 L258.0,164.2 L261.2,166.7 L264.4,160.0 L266.1,156.7M261.2,166.7 L262.8,173.3 L262.0,178.3 L267.7,179.2 L274.9,178.3 L275.8,185.0 L274.1,191.7 L270.9,196.7 L264.4,199.2 L258.0,201.7 L253.1,196.7 L248.3,193.3 L243.4,190.0 L238.6,186.7 L233.7,183.3M233.7,183.3 L232.1,190.0 L227.2,195.0 L228.9,203.3 L228.0,210.0 L228.9,216.7 L235.3,220.0 L240.2,225.0 L246.6,223.3 L249.9,218.3 L254.7,215.0 L262.8,215.0 L269.3,215.0 L272.5,218.3M264.4,199.2 L267.7,205.0 L269.3,211.7 L269.3,215.0M272.5,218.3 L279.0,220.8 L285.5,223.3 L291.9,224.2 L296.8,223.3M227.2,195.0 L219.1,200.0 L211.1,200.8 L201.4,199.2 L193.3,198.3 L186.8,196.7M177.1,201.7 L178.7,205.0 L186.8,208.3 L194.9,212.5 L201.4,215.0 L202.2,221.7 L199.7,228.3 L197.3,235.0 L196.5,242.0M228.0,210.0 L224.0,213.3 L219.1,218.3 L217.5,225.0 L219.1,231.7 L219.1,242.0M240.2,225.0 L239.4,231.7 L240.2,242.0M272.5,218.3 L267.7,225.0 L262.8,230.0 L261.2,236.7 L262.0,242.0M279.0,220.8 L275.8,230.0 L274.1,236.7 L274.1,242.0M296.8,223.3 L296.0,230.0 L295.2,236.7 L296.0,242.0M177.1,201.7 L172.2,206.7 L167.4,208.3 L165.8,213.3 L164.2,220.0 L162.5,223.3M162.5,255.8 L172.2,253.3 L182.0,251.7 L186.8,248.3 L190.0,243.3 L196.5,240.0 L198.9,236.7 L197.3,230.0M198.9,236.7 L198.9,240.8 L207.8,242.5 L215.9,241.7 L219.1,236.7 L220.0,230.0M215.9,241.7 L218.3,246.7 L223.2,251.7 L221.6,258.3 L217.5,263.3 L209.4,270.0 L204.6,273.3 L201.4,280.0 L200.5,283.3 L204.6,286.7 L207.0,291.7 L209.4,294.2 L203.0,298.3 L194.9,300.8 L188.4,301.7M223.2,251.7 L230.5,255.0 L238.6,256.7 L241.0,255.0M219.1,236.7 L224.0,243.3 L227.2,250.0 L230.5,255.0M241.0,255.0 L240.2,263.3 L238.6,271.7 L233.7,276.7 L231.3,283.3 L232.1,291.7 L231.3,294.2M241.0,255.0 L246.6,251.7 L256.3,252.5 L261.2,251.7 L263.6,248.3 L266.1,243.3 L262.8,236.7 L264.4,230.0M261.2,251.7 L259.6,260.0 L258.0,266.7 L257.2,273.3 L260.4,280.0 L262.0,286.7 L262.0,293.3M263.6,248.3 L269.3,253.3 L275.8,256.7 L282.2,260.0 L287.1,260.8 L285.5,266.7 L288.7,273.3 L291.1,280.0 L291.1,286.7 L291.9,291.7M275.8,256.7 L274.1,251.7 L277.4,245.0 L282.2,241.7 L287.1,245.8 L291.9,248.3 L295.2,240.0 L296.8,235.0 L296.8,230.0M277.4,245.0 L275.8,238.3 L279.0,230.0M188.4,301.7 L183.6,305.0 L182.8,310.0 L183.6,316.7 L182.0,323.3 L185.2,330.0 L186.8,333.3 L193.3,332.5 L198.1,330.0 L198.9,323.3M162.5,291.7 L169.0,290.8 L172.2,295.0 L178.7,294.2 L183.6,291.7 L186.8,296.7 L188.4,301.7M178.7,313.3 L180.3,320.0 L182.0,323.3M185.2,330.0 L182.0,335.0 L177.1,336.7 L172.2,342.0M162.5,320.0 L169.0,323.3 L173.9,328.3 L177.1,336.7M86.5,266.7 L94.6,269.2 L101.1,270.0 L110.8,270.8 L117.3,271.7 L122.1,266.7 L125.3,265.0 L127.0,268.3 L128.6,275.0 L130.2,280.0 L134.2,283.3M101.1,270.0 L101.9,263.3 L105.9,258.3 L114.0,257.5 L117.3,253.3 L122.1,250.0M104.3,281.7 L105.1,291.7 L104.3,300.0 L106.7,305.0 L114.0,303.3 L120.5,300.0 L122.1,295.0 L121.3,286.7 L120.5,278.3 L117.3,271.7M73.6,300.0 L78.4,306.7 L80.1,315.8 L86.5,314.2 L94.6,313.3 L101.1,311.7 L106.7,305.0M106.7,305.0 L108.4,311.7 L112.4,316.7 L117.3,318.3 L122.1,316.7 L123.7,311.7 L122.9,305.0 L122.1,300.0M80.1,315.8 L80.9,325.0 L80.1,333.3 L86.5,336.7 L94.6,335.0 L101.1,331.7 L106.7,333.3 L110.0,330.0 L107.6,325.0 L110.8,321.7 L112.4,316.7M80.1,333.3 L78.4,340.0 L80.9,348.3 L84.9,355.0 L88.1,360.0 L89.8,362.0M106.7,333.3 L112.4,336.7 L113.2,343.3 L110.8,351.7 L109.2,358.3M134.2,283.3 L139.9,281.7 L143.1,288.3 L145.6,296.7 L146.4,303.0M134.2,283.3 L130.2,290.0 L127.0,296.7 L125.3,303.3M127.0,268.3 L133.4,261.7 L139.9,253.3 L143.1,250.0M143.1,250.0 L151.2,253.3 L159.3,251.7 L162.5,256.7 L162.5,266.7 L165.0,270.0 L159.3,276.7 L156.1,283.3 L157.7,288.3 L149.6,293.3 L145.6,296.7M157.7,288.3 L165.8,291.7 L170.6,290.0 L177.1,295.0 L183.6,293.3 L188.4,301.7 L185.2,305.0 L183.6,311.7M165.0,270.0 L172.2,266.7 L180.3,268.3 L188.4,265.0 L198.1,268.3 L204.6,271.7 L207.8,270.0 L211.1,270.8M188.4,301.7 L194.9,300.0 L201.4,298.3 L207.8,296.7 L211.1,295.0M204.6,271.7 L201.4,281.7 L206.2,288.3 L207.8,296.7M183.6,311.7 L183.6,320.0 L185.2,328.3 L180.3,333.3 L175.5,336.7 L172.2,333.3 L165.8,325.0 L159.3,321.7M185.2,328.3 L191.7,333.3 L198.1,330.0 L201.4,336.7 L206.2,348.3 L207.8,356.7M175.5,336.7 L177.1,345.0 L180.3,353.3 L182.0,362.0M175.5,336.7 L169.0,340.0 L162.5,342.5 L156.1,340.8 L151.2,343.3 L149.6,350.0 L146.4,355.0M146.4,303.0 L145.6,308.3 L144.8,315.0M125.3,303.3 L123.7,307.5 L125.3,313.3 L130.2,316.7 L136.7,318.3 L143.1,317.5 L146.4,321.7 L144.8,325.0M117.3,318.3 L122.1,323.3 L127.0,321.7 L130.2,316.7M90.6,359.2 L97.8,358.3 L104.3,358.7 L109.2,358.3M80.1,418.3 L86.5,420.0 L92.2,419.2M70.4,426.7 L71.2,433.3 L70.4,440.0 L72.0,446.7 L71.2,452.0M62.3,450.0 L64.7,456.7 L63.1,463.3 L63.9,468.3 L59.8,475.0 L57.4,481.7 L55.0,488.3 L54.2,496.7 L57.4,501.7 L58.2,505.0M63.9,468.3 L70.4,465.8 L76.8,466.7 L81.7,471.7M58.2,505.0 L63.9,505.8 L68.7,506.7 L72.0,511.7 L75.2,515.8 L83.3,518.3 L84.1,513.3 L84.9,508.3M84.9,508.3 L89.8,503.3 L94.6,498.3 L97.0,495.0 L101.1,491.7 L101.9,485.0 L102.7,481.7M83.3,518.3 L86.5,523.3 L85.7,528.3 L89.0,531.7 L94.6,533.3 L99.5,531.7 L102.7,535.0 L109.2,534.2 L115.6,535.0 L120.5,533.3 L123.7,531.7M89.0,531.7 L86.5,536.7 L88.1,543.3 L91.4,550.0 L94.6,556.7 L97.8,562.0M99.5,531.7 L101.1,538.3 L103.5,546.7 L105.9,555.0 L107.6,562.0M115.6,535.0 L118.9,543.3 L122.1,550.0 L117.3,556.7 L114.0,562.0M58.2,505.0 L60.7,510.0 L62.3,516.7 L65.5,523.3 L70.4,528.3M101.1,535.0 L104.3,543.3 L107.6,553.3 L110.8,561.7 L113.2,565.0 L118.9,561.7 L123.7,558.3 L128.6,555.0M113.2,565.0 L115.6,570.0 L118.9,574.2 L120.5,576.7M148.0,573.3 L149.6,578.3 L152.8,580.8 L156.1,581.7 L162.5,584.2 L169.0,583.3 L175.5,581.7M162.5,584.2 L163.4,591.7 L164.2,598.3 L167.4,605.0 L169.0,610.0M99.5,565.0 L104.3,565.8 L109.2,564.2 L113.2,565.0" fill="none" stroke="#000" stroke-width="1.25" stroke-linejoin="round"/></g><polygon points="91.3,66.8 95.8,70.7 100.0,69.0 105.0,66.0 109.2,64.3 114.2,66.8 116.7,71.8 120.0,68.0 124.2,66.8 128.3,70.7 129.7,75.7 133.3,76.8 131.7,81.0 129.7,85.7 128.3,90.2 126.7,92.7 129.7,96.0 131.7,100.2 136.7,99.0 141.7,97.3 146.7,95.7 152.5,95.7 158.3,96.8 157.5,103.5 159.2,109.3 161.0,115.0 159.2,120.0 158.3,125.0 157.5,130.8 155.8,134.2 152.5,137.5 150.8,140.8 153.3,143.3 155.4,144.2 154.6,148.3 155.0,153.3 152.9,157.5 149.2,160.8 148.3,165.0 148.3,170.0 148.8,173.3 152.5,175.4 155.0,174.2 159.2,170.0 164.2,166.7 170.0,161.7 175.0,159.6 177.5,154.2 180.0,155.0 183.3,153.3 188.3,148.8 191.7,148.8 195.0,153.3 200.0,155.8 203.3,159.5 208.3,162.0 210.0,159.5 216.7,158.7 223.3,157.0 226.7,153.7 230.0,147.8 232.5,144.5 234.2,140.7 240.0,140.3 246.7,141.7 250.8,144.5 260.0,144.5 262.5,147.8 265.8,153.7 270.0,159.5 275.0,165.3 280.0,170.3 285.8,173.7 290.0,177.8 290.8,183.7 289.2,190.3 287.5,198.7 288.3,205.3 290.8,212.0 293.3,218.7 297.5,223.3 298.3,227.5 305.0,229.2 312.5,230.8 313.3,235.8 319.2,240.8 321.3,245.0 320.0,250.0 317.5,255.0 316.7,260.0 318.3,265.0 320.0,270.0 317.5,275.0 318.3,281.7 316.7,288.3 310.0,292.5 305.0,295.8 300.0,298.3 296.7,295.0 291.7,290.8 285.0,291.3 276.7,291.7 268.3,292.5 261.7,293.3 255.0,291.7 248.3,291.3 241.7,290.8 233.3,291.7 228.3,294.2 224.2,298.3 220.0,304.2 216.7,309.2 213.3,313.3 208.3,317.5 206.7,320.0 201.7,322.5 199.2,325.8 199.2,331.7 201.7,336.7 204.2,341.7 205.0,348.3 206.7,354.2 210.8,359.2 215.0,364.2 213.3,368.3 210.8,373.3 208.3,376.7 206.7,373.3 205.0,375.8 202.5,371.7 198.3,368.3 193.3,365.8 188.3,362.5 183.3,359.2 179.2,355.8 175.8,355.0 170.0,356.7 165.0,358.3 163.3,360.0 158.3,357.5 153.3,355.8 148.3,355.0 146.7,356.7 146.7,361.7 145.8,355.8 142.5,355.0 140.0,354.7 144.2,352.5 145.0,346.7 144.2,341.7 145.0,336.7 145.8,331.7 146.7,327.5 145.0,325.0 140.0,325.3 133.3,324.2 128.3,323.3 123.3,325.0 116.7,326.7 111.7,329.2 108.3,331.7 109.2,334.2 113.3,337.5 114.2,341.7 112.5,346.7 110.8,351.7 110.0,356.7 110.8,363.3 111.7,370.0 111.3,373.0 108.3,379.7 105.0,384.7 103.3,388.8 100.0,394.7 97.5,399.7 95.0,405.5 93.3,411.3 92.5,418.0 93.3,423.0 90.0,427.2 86.7,432.2 83.3,437.2 85.8,440.5 82.5,444.7 79.2,449.7 78.3,454.7 80.0,461.3 81.7,468.0 83.3,474.7 83.3,477.0 86.7,482.0 93.3,482.8 100.0,482.0 105.0,482.8 106.7,488.7 107.5,495.3 109.2,502.0 111.7,507.8 116.7,512.0 120.0,517.0 121.7,523.7 123.3,530.3 125.0,537.0 126.7,543.7 127.5,546.7 130.0,553.3 133.3,560.0 136.7,565.0 141.7,569.2 146.7,571.7 153.3,571.7 160.0,571.7 166.7,573.3 170.0,575.8 173.3,581.7 176.7,585.0 180.8,589.2 185.0,592.5 189.2,595.8 188.3,600.8 185.0,605.0 183.3,610.0 178.3,614.2 173.3,612.5 169.2,609.2 163.3,610.8 157.5,615.0 153.3,620.0 148.3,614.2 148.3,610.0 151.7,606.7 152.5,601.7 150.8,596.7 146.7,595.0 143.3,595.8 141.7,591.7 138.3,588.3 133.3,587.5 128.3,585.8 123.3,583.3 119.2,579.2 118.3,585.0 116.7,589.2 115.0,586.7 111.7,581.7 107.5,577.5 103.3,573.3 100.0,569.2 97.5,563.3 94.2,557.5 90.0,551.7 85.0,546.7 80.0,545.3 76.7,542.0 74.2,536.2 70.8,531.2 67.5,527.8 63.3,523.7 60.8,518.7 59.2,513.7 56.7,517.0 53.3,520.3 50.0,522.0 47.5,518.7 45.8,512.0 45.0,505.3 46.3,498.7 45.8,492.0 46.7,485.3 49.2,478.7 51.7,472.0 55.8,467.2 58.3,461.3 59.2,455.5 61.7,449.7 63.7,443.8 65.3,438.0 65.8,432.2 67.5,427.2 71.7,424.7 75.0,419.7 80.0,417.2 82.5,412.2 85.8,406.3 89.2,401.3 91.7,396.3 95.8,391.3 98.3,386.3 96.7,382.2 94.2,378.0 91.7,374.7 90.0,368.0 90.0,362.3 87.5,357.3 83.3,352.3 80.8,345.7 78.3,340.7 79.7,336.5 81.7,332.3 81.3,325.7 80.0,319.0 78.3,312.3 75.0,307.3 70.0,301.5 63.3,295.7 57.5,290.7 53.3,284.0 48.3,277.3 45.8,270.7 43.7,264.0 45.0,260.0 48.3,256.7 53.3,255.8 56.7,253.3 58.3,248.3 56.7,243.3 57.5,238.3 59.2,233.3 57.5,229.2 61.7,227.5 65.8,225.8 69.2,223.3 70.0,219.2 68.3,216.7 65.8,218.3 62.5,220.0 60.8,216.7 58.3,211.7 55.8,207.5 55.0,200.8 52.5,195.8 49.2,191.7 45.0,186.7 41.7,182.5 39.2,177.5 35.8,173.3 30.8,169.2 27.5,165.8 25.0,160.0 25.8,157.7 22.5,151.8 16.7,146.0 15.0,139.3 12.5,134.3 16.7,137.7 23.3,132.7 26.7,127.7 25.0,123.5 25.8,120.2 27.5,115.2 30.8,109.3 30.8,104.3 31.7,99.0 37.0,95.2 38.0,91.8 40.0,89.3 45.0,91.8 54.2,93.0 57.5,95.2 65.8,90.7 70.8,91.3 75.8,88.5 75.3,81.0 78.3,78.2 85.0,79.3 90.8,78.5 94.2,76.8 92.7,71.8" fill="none" stroke="#000" stroke-width="1.55" stroke-linejoin="round"/><polygon points="47.5,524 53,523.5 54,532 51.5,539.5 48,538.5 46.8,531" fill="#ff3388" stroke="#000" stroke-width="1" stroke-linejoin="round"/><polygon points="110.5,473.5 112.5,471.5 115,473 114.5,477 112,478.5 110.5,476.5" fill="#990099" stroke="#000" stroke-width="1" stroke-linejoin="round"/><polygon points="97,577.5 99.7,579.2 100,585 97.5,586.7 95.8,582.5" fill="#ff3388" stroke="#000" stroke-width="1" stroke-linejoin="round"/><polygon points="53,457.5 56,460 57.2,468 55,475.5 52,474 51,466" fill="#000"/><polygon points="46.5,489 50.5,490 51,498 48,499.5 46,495" fill="#000"/><polygon points="78.5,585 83,583 88,584.2 86,586.5 82,587.8" fill="#000"/><polygon points="30.5,475.5 32.8,476.2 32,478.5 30.2,478" fill="#000"/><polygon points="28.5,490.3 30,490.3 30,492 28.5,492" fill="#000"/><polygon points="22.4,505.5 23.6,505.5 23.6,511.5 22.4,511.5" fill="#000"/><polygon points="49.2,544.5 51,544.5 51,546.2 49.2,546.2" fill="#000"/><polygon points="64,539 66,539 66,541.5 64,541.5" fill="#000"/><polygon points="75,558.5 76.6,558.5 76.6,560.5 75,560.5" fill="#000"/><polygon points="104.3,451 105.8,451 105.8,453 104.3,453" fill="#000"/><polygon points="98.5,469 99.6,469 99.6,473 98.5,473" fill="#000"/><polygon points="59.5,515 61,514 62.5,519 61,521" fill="#000"/><polygon points="64,523.5 66,523 67,527 65,528" fill="#000"/><polygon points="70,532.5 72,532 73.5,538 71.5,538.5" fill="#000"/><polygon points="76,542.5 77.5,542 79,546 77.5,547" fill="#000"/><polygon points="83,549.5 85,549 86.5,553 84.5,554" fill="#000"/><polygon points="91,557.5 92.5,557 94,562 92.5,563" fill="#000"/><polygon points="96.5,565.5 98,565 99.5,570 98,571" fill="#000"/><polygon points="65,543 66.5,543 66.5,545 65,545" fill="#000"/><polygon points="79.5,584 81,584 81,585.5 79.5,585.5" fill="#000"/><polygon points="139,353 141,352.5 141.5,355.5 139.5,356" fill="#000"/><polygon points="137.5,347.5 139,347.5 139,349 137.5,349" fill="#000"/><circle cx="111.7" cy="464.7" r="1.4" fill="none" stroke="#000" stroke-width="0.9"/><path d="M196,374 L198,380 L201,386 L203.5,392 M203,384 L206,390 L207,396 L205.5,397 M199.5,388 L201.5,394" fill="none" stroke="#000" stroke-width="1.1"/><path d="M210.8,373.3 L213,378 L215,384 L217,388 L219,392" fill="none" stroke="#000" stroke-width="1.3"/><rect x="217" y="388.8" width="2.6" height="2.6" fill="none" stroke="#f00" stroke-width="0.9"/><path d="M100.7,79.0h12M23.6,103.5h12M67.3,123.1h12M68.4,131.3h12M101.9,110.6h12M133.6,124.0h12M87.0,142.3h12M111.6,146.5h12M27.6,146.5h12M68.1,180.3h12M73.2,194.5h12M51.1,203.0h12M87.0,209.1h12M108.8,167.1h12M99.9,183.3h12M114.5,197.5h12M111.7,234.5h12M147.3,212.1h12M206.2,157.8h12M208.8,176.1h12M169.5,172.8h12M258.8,184.1h12M280.3,208.0h12M210.2,212.0h12M241.9,225.3h12M180.3,234.5h12M180.3,234.1h12M182.1,266.1h12M236.1,269.1h12M286.3,255.3h12M201.3,313.0h12M127.9,272.1h12M109.6,284.6h12M87.0,301.1h12M127.9,305.3h12M126.6,313.0h12M156.5,300.0h12M182.1,266.1h12M201.0,313.3h12M129.9,325.5h12M141.5,325.5h12M107.7,333.6h12M134.7,333.3h12M137.1,337.1h12M137.6,343.0h12M141.5,351.1h12M155.4,354.1h12M183.2,354.1h12M102.4,355.3h12M102.7,355.0h12M97.8,384.1h12M75.2,434.1h12M53.4,452.5h12M40.6,494.5h12M73.2,484.5h12M81.0,485.3h12M99.6,480.3h12M106.7,471.6h12M103.7,508.6h12M64.4,524.1h12M42.5,522.1h12M45.3,531.3h12M70.3,544.5h12M90.7,544.5h12M127.8,555.8h12M70.3,544.1h12M91.0,544.5h12M127.8,555.8h12M121.0,567.0h12M147.3,572.5h12M108.0,577.1h12M172.4,585.3h12" stroke="#201020" stroke-width="1.3" stroke-dasharray="1.6 0.9 0.8 0.7 2.2 0.8" fill="none" opacity="0.55"/><rect x="105.4" y="81.9" width="2.6" height="2.6" fill="none" stroke="#ff0000" stroke-width="0.95"/><rect x="101.4" y="85.9" width="2.6" height="2.6" fill="none" stroke="#008800" stroke-width="0.95"/><rect x="28.3" y="106.4" width="2.6" height="2.6" fill="none" stroke="#ff0000" stroke-width="0.95"/><rect x="72.0" y="126.0" width="2.6" height="2.6" fill="none" stroke="#ff0000" stroke-width="0.95"/><rect x="73.1" y="134.2" width="2.6" height="2.6" fill="none" stroke="#ff0000" stroke-width="0.95"/><rect x="106.6" y="113.5" width="2.6" height="2.6" fill="none" stroke="#ff0000" stroke-width="0.95"/><rect x="139.4" y="113.5" width="2.6" height="2.6" fill="none" stroke="#0000ff" stroke-width="0.95"/><rect x="137.3" y="122.7" width="2.6" height="2.6" fill="none" stroke="#008800" stroke-width="0.95"/><rect x="138.3" y="126.9" width="2.6" height="2.6" fill="none" stroke="#ff0000" stroke-width="0.95"/><rect x="83.0" y="143.0" width="2.6" height="2.6" fill="none" stroke="#008800" stroke-width="0.95"/><rect x="91.7" y="145.2" width="2.6" height="2.6" fill="none" stroke="#ff0000" stroke-width="0.95"/><rect x="116.3" y="149.4" width="2.6" height="2.6" fill="none" stroke="#ff0000" stroke-width="0.95"/><rect x="32.3" y="149.4" width="2.6" height="2.6" fill="none" stroke="#ff0000" stroke-width="0.95"/><rect x="72.8" y="183.2" width="2.6" height="2.6" fill="none" stroke="#ff0000" stroke-width="0.95"/><rect x="77.9" y="197.4" width="2.6" height="2.6" fill="none" stroke="#ff0000" stroke-width="0.95"/><rect x="68.7" y="201.7" width="2.6" height="2.6" fill="none" stroke="#008800" stroke-width="0.95"/><rect x="55.8" y="205.9" width="2.6" height="2.6" fill="none" stroke="#ff0000" stroke-width="0.95"/><rect x="91.7" y="212.0" width="2.6" height="2.6" fill="none" stroke="#ff0000" stroke-width="0.95"/><rect x="67.8" y="229.2" width="2.6" height="2.6" fill="none" stroke="#0000ff" stroke-width="0.95"/><rect x="113.5" y="170.0" width="2.6" height="2.6" fill="none" stroke="#ff0000" stroke-width="0.95"/><rect x="104.6" y="186.2" width="2.6" height="2.6" fill="none" stroke="#ff0000" stroke-width="0.95"/><rect x="119.2" y="200.4" width="2.6" height="2.6" fill="none" stroke="#ff0000" stroke-width="0.95"/><rect x="120.3" y="215.0" width="2.6" height="2.6" fill="none" stroke="#008800" stroke-width="0.95"/><rect x="116.4" y="237.4" width="2.6" height="2.6" fill="none" stroke="#ff0000" stroke-width="0.95"/><rect x="152.0" y="215.0" width="2.6" height="2.6" fill="none" stroke="#ff0000" stroke-width="0.95"/><rect x="156.1" y="201.7" width="2.6" height="2.6" fill="none" stroke="#0000ff" stroke-width="0.95"/><rect x="151.1" y="243.4" width="2.6" height="2.6" fill="none" stroke="#0000ff" stroke-width="0.95"/><rect x="154.0" y="258.2" width="2.6" height="2.6" fill="none" stroke="#0000ff" stroke-width="0.95"/><rect x="128.4" y="254.9" width="2.6" height="2.6" fill="none" stroke="#008800" stroke-width="0.95"/><rect x="116.4" y="262.0" width="2.6" height="2.6" fill="none" stroke="#008800" stroke-width="0.95"/><rect x="210.9" y="160.7" width="2.6" height="2.6" fill="none" stroke="#ff0000" stroke-width="0.95"/><rect x="213.5" y="179.0" width="2.6" height="2.6" fill="none" stroke="#ff0000" stroke-width="0.95"/><rect x="174.2" y="175.7" width="2.6" height="2.6" fill="none" stroke="#ff0000" stroke-width="0.95"/><rect x="174.2" y="178.2" width="2.6" height="2.6" fill="none" stroke="#008800" stroke-width="0.95"/><rect x="263.5" y="187.0" width="2.6" height="2.6" fill="none" stroke="#ff0000" stroke-width="0.95"/><rect x="260.2" y="187.9" width="2.6" height="2.6" fill="none" stroke="#008800" stroke-width="0.95"/><rect x="285.0" y="210.9" width="2.6" height="2.6" fill="none" stroke="#ff0000" stroke-width="0.95"/><rect x="214.9" y="214.9" width="2.6" height="2.6" fill="none" stroke="#ff0000" stroke-width="0.95"/><rect x="223.8" y="220.9" width="2.6" height="2.6" fill="none" stroke="#0000ff" stroke-width="0.95"/><rect x="214.9" y="225.9" width="2.6" height="2.6" fill="none" stroke="#008800" stroke-width="0.95"/><rect x="244.2" y="228.2" width="2.6" height="2.6" fill="none" stroke="#008800" stroke-width="0.95"/><rect x="246.6" y="228.2" width="2.6" height="2.6" fill="none" stroke="#ff0000" stroke-width="0.95"/><rect x="185.0" y="237.4" width="2.6" height="2.6" fill="none" stroke="#ff0000" stroke-width="0.95"/><rect x="185.0" y="237.0" width="2.6" height="2.6" fill="none" stroke="#ff0000" stroke-width="0.95"/><rect x="186.8" y="269.0" width="2.6" height="2.6" fill="none" stroke="#ff0000" stroke-width="0.95"/><rect x="190.7" y="278.2" width="2.6" height="2.6" fill="none" stroke="#0000ff" stroke-width="0.95"/><rect x="210.9" y="282.4" width="2.6" height="2.6" fill="none" stroke="#0000ff" stroke-width="0.95"/><rect x="246.5" y="255.9" width="2.6" height="2.6" fill="none" stroke="#0000ff" stroke-width="0.95"/><rect x="238.6" y="272.0" width="2.6" height="2.6" fill="none" stroke="#008800" stroke-width="0.95"/><rect x="240.8" y="272.0" width="2.6" height="2.6" fill="none" stroke="#ff0000" stroke-width="0.95"/><rect x="268.3" y="267.0" width="2.6" height="2.6" fill="none" stroke="#008800" stroke-width="0.95"/><rect x="291.0" y="258.2" width="2.6" height="2.6" fill="none" stroke="#ff0000" stroke-width="0.95"/><rect x="296.0" y="259.5" width="2.6" height="2.6" fill="none" stroke="#008800" stroke-width="0.95"/><rect x="173.0" y="305.9" width="2.6" height="2.6" fill="none" stroke="#0000ff" stroke-width="0.95"/><rect x="206.0" y="315.9" width="2.6" height="2.6" fill="none" stroke="#ff0000" stroke-width="0.95"/><rect x="58.9" y="277.4" width="2.6" height="2.6" fill="none" stroke="#0000ff" stroke-width="0.95"/><rect x="128.6" y="255.0" width="2.6" height="2.6" fill="none" stroke="#008800" stroke-width="0.95"/><rect x="154.0" y="257.9" width="2.6" height="2.6" fill="none" stroke="#0000ff" stroke-width="0.95"/><rect x="116.4" y="261.7" width="2.6" height="2.6" fill="none" stroke="#008800" stroke-width="0.95"/><rect x="132.6" y="275.0" width="2.6" height="2.6" fill="none" stroke="#ff0000" stroke-width="0.95"/><rect x="136.5" y="285.0" width="2.6" height="2.6" fill="none" stroke="#008800" stroke-width="0.95"/><rect x="114.3" y="287.5" width="2.6" height="2.6" fill="none" stroke="#ff0000" stroke-width="0.95"/><rect x="104.6" y="293.7" width="2.6" height="2.6" fill="none" stroke="#008800" stroke-width="0.95"/><rect x="91.7" y="304.0" width="2.6" height="2.6" fill="none" stroke="#ff0000" stroke-width="0.95"/><rect x="108.7" y="304.0" width="2.6" height="2.6" fill="none" stroke="#008800" stroke-width="0.95"/><rect x="132.6" y="308.2" width="2.6" height="2.6" fill="none" stroke="#ff0000" stroke-width="0.95"/><rect x="131.3" y="315.9" width="2.6" height="2.6" fill="none" stroke="#ff0000" stroke-width="0.95"/><rect x="161.2" y="302.9" width="2.6" height="2.6" fill="none" stroke="#ff0000" stroke-width="0.95"/><rect x="173.4" y="306.2" width="2.6" height="2.6" fill="none" stroke="#0000ff" stroke-width="0.95"/><rect x="186.8" y="269.0" width="2.6" height="2.6" fill="none" stroke="#ff0000" stroke-width="0.95"/><rect x="190.8" y="278.2" width="2.6" height="2.6" fill="none" stroke="#0000ff" stroke-width="0.95"/><rect x="205.7" y="316.2" width="2.6" height="2.6" fill="none" stroke="#ff0000" stroke-width="0.95"/><rect x="164.0" y="321.2" width="2.6" height="2.6" fill="none" stroke="#008800" stroke-width="0.95"/><rect x="134.6" y="328.4" width="2.6" height="2.6" fill="none" stroke="#ff0000" stroke-width="0.95"/><rect x="146.2" y="328.4" width="2.6" height="2.6" fill="none" stroke="#ff0000" stroke-width="0.95"/><rect x="112.4" y="336.5" width="2.6" height="2.6" fill="none" stroke="#ff0000" stroke-width="0.95"/><rect x="139.4" y="336.2" width="2.6" height="2.6" fill="none" stroke="#ff0000" stroke-width="0.95"/><rect x="141.8" y="340.0" width="2.6" height="2.6" fill="none" stroke="#ff0000" stroke-width="0.95"/><rect x="142.3" y="345.9" width="2.6" height="2.6" fill="none" stroke="#ff0000" stroke-width="0.95"/><rect x="146.2" y="354.0" width="2.6" height="2.6" fill="none" stroke="#ff0000" stroke-width="0.95"/><rect x="151.1" y="352.9" width="2.6" height="2.6" fill="none" stroke="#008800" stroke-width="0.95"/><rect x="160.1" y="357.0" width="2.6" height="2.6" fill="none" stroke="#ff0000" stroke-width="0.95"/><rect x="187.9" y="357.0" width="2.6" height="2.6" fill="none" stroke="#ff0000" stroke-width="0.95"/><rect x="107.1" y="358.2" width="2.6" height="2.6" fill="none" stroke="#ff0000" stroke-width="0.95"/><rect x="99.8" y="358.2" width="2.6" height="2.6" fill="none" stroke="#008800" stroke-width="0.95"/><rect x="107.4" y="357.9" width="2.6" height="2.6" fill="none" stroke="#ff0000" stroke-width="0.95"/><rect x="99.5" y="358.4" width="2.6" height="2.6" fill="none" stroke="#008800" stroke-width="0.95"/><rect x="102.5" y="387.0" width="2.6" height="2.6" fill="none" stroke="#ff0000" stroke-width="0.95"/><rect x="79.9" y="437.0" width="2.6" height="2.6" fill="none" stroke="#ff0000" stroke-width="0.95"/><rect x="58.1" y="455.4" width="2.6" height="2.6" fill="none" stroke="#ff0000" stroke-width="0.95"/><rect x="45.3" y="497.4" width="2.6" height="2.6" fill="none" stroke="#ff0000" stroke-width="0.95"/><rect x="77.9" y="487.4" width="2.6" height="2.6" fill="none" stroke="#ff0000" stroke-width="0.95"/><rect x="85.7" y="488.2" width="2.6" height="2.6" fill="none" stroke="#ff0000" stroke-width="0.95"/><rect x="95.7" y="488.2" width="2.6" height="2.6" fill="none" stroke="#008800" stroke-width="0.95"/><rect x="104.3" y="483.2" width="2.6" height="2.6" fill="none" stroke="#ff0000" stroke-width="0.95"/><rect x="111.4" y="474.5" width="2.6" height="2.6" fill="none" stroke="#ff0000" stroke-width="0.95"/><rect x="81.7" y="507.4" width="2.6" height="2.6" fill="none" stroke="#0000ff" stroke-width="0.95"/><rect x="91.7" y="513.7" width="2.6" height="2.6" fill="none" stroke="#0000ff" stroke-width="0.95"/><rect x="108.4" y="511.5" width="2.6" height="2.6" fill="none" stroke="#ff0000" stroke-width="0.95"/><rect x="112.2" y="525.0" width="2.6" height="2.6" fill="none" stroke="#008800" stroke-width="0.95"/><rect x="69.1" y="527.0" width="2.6" height="2.6" fill="none" stroke="#ff0000" stroke-width="0.95"/><rect x="47.2" y="525.0" width="2.6" height="2.6" fill="none" stroke="#ff0000" stroke-width="0.95"/><rect x="50.0" y="534.2" width="2.6" height="2.6" fill="none" stroke="#ff0000" stroke-width="0.95"/><rect x="75.0" y="547.4" width="2.6" height="2.6" fill="none" stroke="#ff0000" stroke-width="0.95"/><rect x="95.4" y="547.4" width="2.6" height="2.6" fill="none" stroke="#ff0000" stroke-width="0.95"/><rect x="132.5" y="558.7" width="2.6" height="2.6" fill="none" stroke="#ff0000" stroke-width="0.95"/><rect x="75.0" y="547.0" width="2.6" height="2.6" fill="none" stroke="#ff0000" stroke-width="0.95"/><rect x="95.7" y="547.4" width="2.6" height="2.6" fill="none" stroke="#ff0000" stroke-width="0.95"/><rect x="132.5" y="558.7" width="2.6" height="2.6" fill="none" stroke="#ff0000" stroke-width="0.95"/><rect x="125.7" y="569.9" width="2.6" height="2.6" fill="none" stroke="#ff0000" stroke-width="0.95"/><rect x="124.5" y="574.0" width="2.6" height="2.6" fill="none" stroke="#0000ff" stroke-width="0.95"/><rect x="152.0" y="575.4" width="2.6" height="2.6" fill="none" stroke="#ff0000" stroke-width="0.95"/><rect x="112.7" y="580.0" width="2.6" height="2.6" fill="none" stroke="#ff0000" stroke-width="0.95"/><rect x="177.1" y="588.2" width="2.6" height="2.6" fill="none" stroke="#ff0000" stroke-width="0.95"/></g></g>
<g clip-path="url(#frame1)"><g transform="translate(335,0) scale(1,1)"><polygon points="91.3,66.8 95.8,70.7 100.0,69.0 105.0,66.0 109.2,64.3 114.2,66.8 116.7,71.8 120.0,68.0 124.2,66.8 128.3,70.7 129.7,75.7 133.3,76.8 131.7,81.0 129.7,85.7 128.3,90.2 126.7,92.7 129.7,96.0 131.7,100.2 136.7,99.0 141.7,97.3 146.7,95.7 152.5,95.7 158.3,96.8 157.5,103.5 159.2,109.3 161.0,115.0 159.2,120.0 158.3,125.0 157.5,130.8 155.8,134.2 152.5,137.5 150.8,140.8 153.3,143.3 155.4,144.2 154.6,148.3 155.0,153.3 152.9,157.5 149.2,160.8 148.3,165.0 148.3,170.0 148.8,173.3 152.5,175.4 155.0,174.2 159.2,170.0 164.2,166.7 170.0,161.7 175.0,159.6 177.5,154.2 180.0,155.0 183.3,153.3 188.3,148.8 191.7,148.8 195.0,153.3 200.0,155.8 203.3,159.5 208.3,162.0 210.0,159.5 216.7,158.7 223.3,157.0 226.7,153.7 230.0,147.8 232.5,144.5 234.2,140.7 240.0,140.3 246.7,141.7 250.8,144.5 260.0,144.5 262.5,147.8 265.8,153.7 270.0,159.5 275.0,165.3 280.0,170.3 285.8,173.7 290.0,177.8 290.8,183.7 289.2,190.3 287.5,198.7 288.3,205.3 290.8,212.0 293.3,218.7 297.5,223.3 298.3,227.5 305.0,229.2 312.5,230.8 313.3,235.8 319.2,240.8 321.3,245.0 320.0,250.0 317.5,255.0 316.7,260.0 318.3,265.0 320.0,270.0 317.5,275.0 318.3,281.7 316.7,288.3 310.0,292.5 305.0,295.8 300.0,298.3 296.7,295.0 291.7,290.8 285.0,291.3 276.7,291.7 268.3,292.5 261.7,293.3 255.0,291.7 248.3,291.3 241.7,290.8 233.3,291.7 228.3,294.2 224.2,298.3 220.0,304.2 216.7,309.2 213.3,313.3 208.3,317.5 206.7,320.0 201.7,322.5 199.2,325.8 199.2,331.7 201.7,336.7 204.2,341.7 205.0,348.3 206.7,354.2 210.8,359.2 215.0,364.2 213.3,368.3 210.8,373.3 208.3,376.7 206.7,373.3 205.0,375.8 202.5,371.7 198.3,368.3 193.3,365.8 188.3,362.5 183.3,359.2 179.2,355.8 175.8,355.0 170.0,356.7 165.0,358.3 163.3,360.0 158.3,357.5 153.3,355.8 148.3,355.0 146.7,356.7 146.7,361.7 145.8,355.8 142.5,355.0 140.0,354.7 144.2,352.5 145.0,346.7 144.2,341.7 145.0,336.7 145.8,331.7 146.7,327.5 145.0,325.0 140.0,325.3 133.3,324.2 128.3,323.3 123.3,325.0 116.7,326.7 111.7,329.2 108.3,331.7 109.2,334.2 113.3,337.5 114.2,341.7 112.5,346.7 110.8,351.7 110.0,356.7 110.8,363.3 111.7,370.0 111.3,373.0 108.3,379.7 105.0,384.7 103.3,388.8 100.0,394.7 97.5,399.7 95.0,405.5 93.3,411.3 92.5,418.0 93.3,423.0 90.0,427.2 86.7,432.2 83.3,437.2 85.8,440.5 82.5,444.7 79.2,449.7 78.3,454.7 80.0,461.3 81.7,468.0 83.3,474.7 83.3,477.0 86.7,482.0 93.3,482.8 100.0,482.0 105.0,482.8 106.7,488.7 107.5,495.3 109.2,502.0 111.7,507.8 116.7,512.0 120.0,517.0 121.7,523.7 123.3,530.3 125.0,537.0 126.7,543.7 127.5,546.7 130.0,553.3 133.3,560.0 136.7,565.0 141.7,569.2 146.7,571.7 153.3,571.7 160.0,571.7 166.7,573.3 170.0,575.8 173.3,581.7 176.7,585.0 180.8,589.2 185.0,592.5 189.2,595.8 188.3,600.8 185.0,605.0 183.3,610.0 178.3,614.2 173.3,612.5 169.2,609.2 163.3,610.8 157.5,615.0 153.3,620.0 148.3,614.2 148.3,610.0 151.7,606.7 152.5,601.7 150.8,596.7 146.7,595.0 143.3,595.8 141.7,591.7 138.3,588.3 133.3,587.5 128.3,585.8 123.3,583.3 119.2,579.2 118.3,585.0 116.7,589.2 115.0,586.7 111.7,581.7 107.5,577.5 103.3,573.3 100.0,569.2 97.5,563.3 94.2,557.5 90.0,551.7 85.0,546.7 80.0,545.3 76.7,542.0 74.2,536.2 70.8,531.2 67.5,527.8 63.3,523.7 60.8,518.7 59.2,513.7 56.7,517.0 53.3,520.3 50.0,522.0 47.5,518.7 45.8,512.0 45.0,505.3 46.3,498.7 45.8,492.0 46.7,485.3 49.2,478.7 51.7,472.0 55.8,467.2 58.3,461.3 59.2,455.5 61.7,449.7 63.7,443.8 65.3,438.0 65.8,432.2 67.5,427.2 71.7,424.7 75.0,419.7 80.0,417.2 82.5,412.2 85.8,406.3 89.2,401.3 91.7,396.3 95.8,391.3 98.3,386.3 96.7,382.2 94.2,378.0 91.7,374.7 90.0,368.0 90.0,362.3 87.5,357.3 83.3,352.3 80.8,345.7 78.3,340.7 79.7,336.5 81.7,332.3 81.3,325.7 80.0,319.0 78.3,312.3 75.0,307.3 70.0,301.5 63.3,295.7 57.5,290.7 53.3,284.0 48.3,277.3 45.8,270.7 43.7,264.0 45.0,260.0 48.3,256.7 53.3,255.8 56.7,253.3 58.3,248.3 56.7,243.3 57.5,238.3 59.2,233.3 57.5,229.2 61.7,227.5 65.8,225.8 69.2,223.3 70.0,219.2 68.3,216.7 65.8,218.3 62.5,220.0 60.8,216.7 58.3,211.7 55.8,207.5 55.0,200.8 52.5,195.8 49.2,191.7 45.0,186.7 41.7,182.5 39.2,177.5 35.8,173.3 30.8,169.2 27.5,165.8 25.0,160.0 25.8,157.7 22.5,151.8 16.7,146.0 15.0,139.3 12.5,134.3 16.7,137.7 23.3,132.7 26.7,127.7 25.0,123.5 25.8,120.2 27.5,115.2 30.8,109.3 30.8,104.3 31.7,99.0 37.0,95.2 38.0,91.8 40.0,89.3 45.0,91.8 54.2,93.0 57.5,95.2 65.8,90.7 70.8,91.3 75.8,88.5 75.3,81.0 78.3,78.2 85.0,79.3 90.8,78.5 94.2,76.8 92.7,71.8" fill="#00008c"/><g clip-path="url(#thai)"><path d="M56.0,225.0C61.0,212.3 65.2,222.8 70.0,224.0C74.8,225.2 80.0,231.7 85.0,232.0C90.0,232.3 95.8,230.3 100.0,226.0C104.2,221.7 105.5,212.2 110.0,206.0C114.5,199.8 121.2,193.5 126.7,189.0C132.2,184.5 138.4,180.5 143.3,179.0C148.2,177.5 151.9,178.5 156.0,180.0C160.1,181.5 164.0,185.3 168.0,188.0C172.0,190.7 175.3,194.0 180.0,196.0C184.7,198.0 190.7,199.3 196.0,200.0C201.3,200.7 206.7,200.0 212.0,200.0C217.3,200.0 223.3,200.7 228.0,200.0C232.7,199.3 236.0,196.3 240.0,196.0C244.0,195.7 248.7,198.0 252.0,198.0C255.3,198.0 257.7,197.3 260.0,196.0C262.3,194.7 265.3,192.7 266.0,190.0C266.7,187.3 264.7,183.7 264.0,180.0C263.3,176.3 262.7,172.0 262.0,168.0C261.3,164.0 260.5,161.0 260.0,156.0C259.5,151.0 252.3,141.0 259.0,138.0C265.7,135.0 288.2,127.7 300.0,138.0C311.8,148.3 325.0,173.0 330.0,200.0C335.0,227.0 346.7,283.3 330.0,300.0C313.3,316.7 247.5,296.7 230.0,300.0C212.5,303.3 227.5,314.2 225.0,320.0C222.5,325.8 216.7,325.0 215.0,335.0C213.3,345.0 230.8,372.5 215.0,380.0C199.2,387.5 149.2,393.3 120.0,380.0C90.8,366.7 50.7,325.8 40.0,300.0C29.3,274.2 51.0,237.7 56.0,225.0Z" fill="#2c2cf0"/><path d="M60.0,242.0C62.0,236.7 73.3,236.7 80.0,236.0C86.7,235.3 94.5,241.3 100.0,238.0C105.5,234.7 108.3,222.7 113.0,216.0C117.7,209.3 122.8,202.8 128.0,198.0C133.2,193.2 139.0,188.3 144.0,187.0C149.0,185.7 153.3,188.0 158.0,190.0C162.7,192.0 166.3,196.2 172.0,199.0C177.7,201.8 185.3,205.5 192.0,207.0C198.7,208.5 205.3,208.0 212.0,208.0C218.7,208.0 225.7,207.5 232.0,207.0C238.3,206.5 245.0,205.5 250.0,205.0C255.0,204.5 258.7,202.3 262.0,204.0C265.3,205.7 269.0,210.3 270.0,215.0C271.0,219.7 267.0,226.2 268.0,232.0C269.0,237.8 274.0,243.7 276.0,250.0C278.0,256.3 281.0,264.7 280.0,270.0C279.0,275.3 275.0,279.7 270.0,282.0C265.0,284.3 256.3,284.3 250.0,284.0C243.7,283.7 236.3,279.7 232.0,280.0C227.7,280.3 226.8,282.7 224.0,286.0C221.2,289.3 219.0,296.7 215.0,300.0C211.0,303.3 205.8,306.0 200.0,306.0C194.2,306.0 186.7,302.3 180.0,300.0C173.3,297.7 165.0,296.2 160.0,292.0C155.0,287.8 155.0,280.0 150.0,275.0C145.0,270.0 136.7,264.2 130.0,262.0C123.3,259.8 116.7,261.0 110.0,262.0C103.3,263.0 97.0,267.0 90.0,268.0C83.0,269.0 73.0,272.3 68.0,268.0C63.0,263.7 58.0,247.3 60.0,242.0Z" fill="#6a6af0"/><path d="M284.0,226.0C286.0,221.7 293.0,222.7 300.0,224.0C307.0,225.3 321.7,221.3 326.0,234.0C330.3,246.7 332.7,289.5 326.0,300.0C319.3,310.5 293.7,301.7 286.0,297.0C278.3,292.3 279.7,279.8 280.0,272.0C280.3,264.2 287.3,257.7 288.0,250.0C288.7,242.3 282.0,230.3 284.0,226.0Z" fill="#2c2cf0"/><path d="M296.0,236.0C299.3,234.7 308.7,234.7 312.0,238.0C315.3,241.3 317.0,250.7 316.0,256.0C315.0,261.3 309.7,269.0 306.0,270.0C302.3,271.0 296.3,266.0 294.0,262.0C291.7,258.0 291.7,250.3 292.0,246.0C292.3,241.7 292.7,237.3 296.0,236.0Z" fill="#6a6af0"/><path d="M306.0,284.0C309.3,277.7 314.7,265.7 318.0,262.0C321.3,258.3 324.7,255.7 326.0,262.0C327.3,268.3 330.7,293.7 326.0,300.0C321.3,306.3 301.3,302.7 298.0,300.0C294.7,297.3 302.7,290.3 306.0,284.0Z" fill="#00008c"/><path d="M234.0,222.0C234.0,223.3 233.6,224.7 233.0,225.9C232.4,227.1 231.4,228.2 230.2,229.0C229.1,229.8 227.6,230.5 226.2,230.8C224.8,231.1 223.2,231.1 221.8,230.8C220.4,230.5 218.9,229.8 217.8,229.0C216.6,228.2 215.6,227.1 215.0,225.9C214.4,224.7 214.0,223.3 214.0,222.0C214.0,220.7 214.4,219.3 215.0,218.1C215.6,216.9 216.6,215.8 217.8,215.0C218.9,214.2 220.4,213.5 221.8,213.2C223.2,212.9 224.8,212.9 226.2,213.2C227.6,213.5 229.1,214.2 230.2,215.0C231.4,215.8 232.4,216.9 233.0,218.1C233.6,219.3 234.0,220.7 234.0,222.0Z" fill="#2c2cf0"/><path d="M208.0,264.0C208.0,265.9 207.3,267.9 206.2,269.6C205.1,271.3 203.3,273.0 201.2,274.2C199.2,275.3 196.5,276.3 194.0,276.7C191.5,277.1 188.5,277.1 186.0,276.7C183.5,276.3 180.8,275.3 178.8,274.2C176.7,273.0 174.9,271.3 173.8,269.6C172.7,267.9 172.0,265.9 172.0,264.0C172.0,262.1 172.7,260.1 173.8,258.4C174.9,256.7 176.7,255.0 178.8,253.8C180.8,252.7 183.5,251.7 186.0,251.3C188.5,250.9 191.5,250.9 194.0,251.3C196.5,251.7 199.2,252.7 201.2,253.8C203.3,255.0 205.1,256.7 206.2,258.4C207.3,260.1 208.0,262.1 208.0,264.0Z" fill="#2c2cf0"/><path d="M173.0,252.0C173.0,254.0 172.3,256.3 171.1,258.1C169.9,259.9 168.0,261.7 165.8,262.9C163.7,264.2 160.9,265.2 158.2,265.6C155.5,266.1 152.5,266.1 149.8,265.6C147.1,265.2 144.3,264.2 142.2,262.9C140.0,261.7 138.1,259.9 136.9,258.1C135.7,256.3 135.0,254.0 135.0,252.0C135.0,250.0 135.7,247.7 136.9,245.9C138.1,244.1 140.0,242.3 142.2,241.1C144.3,239.8 147.1,238.8 149.8,238.4C152.5,237.9 155.5,237.9 158.2,238.4C160.9,238.8 163.7,239.8 165.8,241.1C168.0,242.3 169.9,244.1 171.1,245.9C172.3,247.7 173.0,250.0 173.0,252.0Z" fill="#2c2cf0"/><path d="M168.0,252.0C168.0,253.3 167.5,254.7 166.6,255.9C165.7,257.1 164.3,258.2 162.7,259.0C161.1,259.8 159.1,260.5 157.1,260.8C155.1,261.1 152.9,261.1 150.9,260.8C148.9,260.5 146.9,259.8 145.3,259.0C143.7,258.2 142.3,257.1 141.4,255.9C140.5,254.7 140.0,253.3 140.0,252.0C140.0,250.7 140.5,249.3 141.4,248.1C142.3,246.9 143.7,245.8 145.3,245.0C146.9,244.2 148.9,243.5 150.9,243.2C152.9,242.9 155.1,242.9 157.1,243.2C159.1,243.5 161.1,244.2 162.7,245.0C164.3,245.8 165.7,246.9 166.6,248.1C167.5,249.3 168.0,250.7 168.0,252.0Z" fill="#00008c"/><path d="M132.0,238.0C132.0,239.4 131.4,241.0 130.4,242.3C129.4,243.6 127.8,244.9 126.0,245.8C124.2,246.7 121.8,247.4 119.6,247.7C117.3,248.1 114.7,248.1 112.4,247.7C110.2,247.4 107.8,246.7 106.0,245.8C104.2,244.9 102.6,243.6 101.6,242.3C100.6,241.0 100.0,239.4 100.0,238.0C100.0,236.6 100.6,235.0 101.6,233.7C102.6,232.4 104.2,231.1 106.0,230.2C107.8,229.3 110.2,228.6 112.4,228.3C114.7,227.9 117.3,227.9 119.6,228.3C121.8,228.6 124.2,229.3 126.0,230.2C127.8,231.1 129.4,232.4 130.4,233.7C131.4,235.0 132.0,236.6 132.0,238.0Z" fill="#2c2cf0"/><path d="M128.0,238.0C128.0,238.9 127.6,240.0 126.8,240.8C126.1,241.7 124.8,242.5 123.5,243.1C122.1,243.7 120.4,244.1 118.7,244.3C117.0,244.5 115.0,244.5 113.3,244.3C111.6,244.1 109.9,243.7 108.5,243.1C107.2,242.5 105.9,241.7 105.2,240.8C104.4,240.0 104.0,238.9 104.0,238.0C104.0,237.1 104.4,236.0 105.2,235.2C105.9,234.3 107.2,233.5 108.5,232.9C109.9,232.3 111.6,231.9 113.3,231.7C115.0,231.5 117.0,231.5 118.7,231.7C120.4,231.9 122.1,232.3 123.5,232.9C124.8,233.5 126.1,234.3 126.8,235.2C127.6,236.0 128.0,237.1 128.0,238.0Z" fill="#00008c"/><path d="M58.0,228.0C61.0,224.0 74.0,224.0 78.0,226.0C82.0,228.0 82.7,235.7 82.0,240.0C81.3,244.3 77.7,250.3 74.0,252.0C70.3,253.7 62.7,254.0 60.0,250.0C57.3,246.0 55.0,232.0 58.0,228.0Z" fill="#2c2cf0"/><polygon points="150.0,290.0 240.0,290.0 240.0,330.0 210.0,340.0 150.0,340.0" fill="#2c2cf0"/><path d="M196.0,268.0C200.7,263.0 220.7,258.3 226.0,262.0C231.3,265.7 230.0,283.7 228.0,290.0C226.0,296.3 219.0,299.7 214.0,300.0C209.0,300.3 201.0,297.3 198.0,292.0C195.0,286.7 191.3,273.0 196.0,268.0Z" fill="#6a6af0"/><path d="M152.0,338.0C155.3,335.3 163.7,335.0 170.0,334.0C176.3,333.0 184.3,331.3 190.0,332.0C195.7,332.7 201.3,334.7 204.0,338.0C206.7,341.3 206.7,347.7 206.0,352.0C205.3,356.3 209.3,362.0 200.0,364.0C190.7,366.0 158.3,366.3 150.0,364.0C141.7,361.7 149.7,354.3 150.0,350.0C150.3,345.7 148.7,340.7 152.0,338.0Z" fill="#00008c"/><path d="M146.0,326.0C148.3,321.0 154.0,323.7 156.0,326.0C158.0,328.3 158.7,335.7 158.0,340.0C157.3,344.3 154.7,349.3 152.0,352.0C149.3,354.7 143.0,360.3 142.0,356.0C141.0,351.7 143.7,331.0 146.0,326.0Z" fill="#2c2cf0"/><path d="M198.0,352.0C200.7,350.3 210.7,352.7 214.0,356.0C217.3,359.3 219.3,368.0 218.0,372.0C216.7,376.0 209.3,381.0 206.0,380.0C202.7,379.0 199.3,370.7 198.0,366.0C196.7,361.3 195.3,353.7 198.0,352.0Z" fill="#2c2cf0"/><path d="M194.6,363.0C194.6,363.3 194.5,363.7 194.4,364.0C194.3,364.2 194.2,364.5 194.0,364.7C193.8,364.9 193.6,365.1 193.4,365.1C193.1,365.2 192.9,365.2 192.6,365.1C192.4,365.1 192.2,364.9 192.0,364.7C191.8,364.5 191.7,364.2 191.6,364.0C191.5,363.7 191.4,363.3 191.4,363.0C191.4,362.7 191.5,362.3 191.6,362.0C191.7,361.8 191.8,361.5 192.0,361.3C192.2,361.1 192.4,360.9 192.6,360.9C192.9,360.8 193.1,360.8 193.4,360.9C193.6,360.9 193.8,361.1 194.0,361.3C194.2,361.5 194.3,361.8 194.4,362.0C194.5,362.3 194.6,362.7 194.6,363.0Z" fill="#6a6af0" stroke="#6a6af0" stroke-width="6.4" stroke-linejoin="round"/><path d="M194.6,363.0C194.6,363.3 194.5,363.7 194.4,364.0C194.3,364.2 194.2,364.5 194.0,364.7C193.8,364.9 193.6,365.1 193.4,365.1C193.1,365.2 192.9,365.2 192.6,365.1C192.4,365.1 192.2,364.9 192.0,364.7C191.8,364.5 191.7,364.2 191.6,364.0C191.5,363.7 191.4,363.3 191.4,363.0C191.4,362.7 191.5,362.3 191.6,362.0C191.7,361.8 191.8,361.5 192.0,361.3C192.2,361.1 192.4,360.9 192.6,360.9C192.9,360.8 193.1,360.8 193.4,360.9C193.6,360.9 193.8,361.1 194.0,361.3C194.2,361.5 194.3,361.8 194.4,362.0C194.5,362.3 194.6,362.7 194.6,363.0Z" fill="#34c83c" stroke="#34c83c" stroke-width="4.8" stroke-linejoin="round"/><path d="M194.6,363.0C194.6,363.3 194.5,363.7 194.4,364.0C194.3,364.2 194.2,364.5 194.0,364.7C193.8,364.9 193.6,365.1 193.4,365.1C193.1,365.2 192.9,365.2 192.6,365.1C192.4,365.1 192.2,364.9 192.0,364.7C191.8,364.5 191.7,364.2 191.6,364.0C191.5,363.7 191.4,363.3 191.4,363.0C191.4,362.7 191.5,362.3 191.6,362.0C191.7,361.8 191.8,361.5 192.0,361.3C192.2,361.1 192.4,360.9 192.6,360.9C192.9,360.8 193.1,360.8 193.4,360.9C193.6,360.9 193.8,361.1 194.0,361.3C194.2,361.5 194.3,361.8 194.4,362.0C194.5,362.3 194.6,362.7 194.6,363.0Z" fill="#ffffff" stroke="#ffffff" stroke-width="3.6" stroke-linejoin="round"/><path d="M194.6,363.0C194.6,363.3 194.5,363.7 194.4,364.0C194.3,364.2 194.2,364.5 194.0,364.7C193.8,364.9 193.6,365.1 193.4,365.1C193.1,365.2 192.9,365.2 192.6,365.1C192.4,365.1 192.2,364.9 192.0,364.7C191.8,364.5 191.7,364.2 191.6,364.0C191.5,363.7 191.4,363.3 191.4,363.0C191.4,362.7 191.5,362.3 191.6,362.0C191.7,361.8 191.8,361.5 192.0,361.3C192.2,361.1 192.4,360.9 192.6,360.9C192.9,360.8 193.1,360.8 193.4,360.9C193.6,360.9 193.8,361.1 194.0,361.3C194.2,361.5 194.3,361.8 194.4,362.0C194.5,362.3 194.6,362.7 194.6,363.0Z" fill="#ffff60" stroke="#ffff60" stroke-width="1.6" stroke-linejoin="round"/><path d="M194.6,363.0C194.6,363.3 194.5,363.7 194.4,364.0C194.3,364.2 194.2,364.5 194.0,364.7C193.8,364.9 193.6,365.1 193.4,365.1C193.1,365.2 192.9,365.2 192.6,365.1C192.4,365.1 192.2,364.9 192.0,364.7C191.8,364.5 191.7,364.2 191.6,364.0C191.5,363.7 191.4,363.3 191.4,363.0C191.4,362.7 191.5,362.3 191.6,362.0C191.7,361.8 191.8,361.5 192.0,361.3C192.2,361.1 192.4,360.9 192.6,360.9C192.9,360.8 193.1,360.8 193.4,360.9C193.6,360.9 193.8,361.1 194.0,361.3C194.2,361.5 194.3,361.8 194.4,362.0C194.5,362.3 194.6,362.7 194.6,363.0Z" fill="#ec7840"/><path d="M28.0,101.0C30.7,99.3 34.8,104.8 38.0,108.0C41.2,111.2 44.6,115.7 47.0,120.0C49.4,124.3 51.3,129.3 52.4,134.0C53.5,138.7 54.2,143.8 53.6,148.0C53.0,152.2 51.1,156.0 49.0,159.0C46.9,162.0 43.5,164.2 41.0,166.0C38.5,167.8 36.5,170.7 34.0,170.0C31.5,169.3 30.3,165.7 26.0,162.0C21.7,158.3 11.0,153.3 8.0,148.0C5.0,142.7 5.7,135.0 8.0,130.0C10.3,125.0 18.7,122.8 22.0,118.0C25.3,113.2 25.3,102.7 28.0,101.0Z" fill="#2c2cf0"/><path d="M32.0,126.0C34.0,126.7 37.8,131.0 40.0,134.0C42.2,137.0 44.5,140.3 45.0,144.0C45.5,147.7 44.5,153.0 43.0,156.0C41.5,159.0 38.5,161.3 36.0,162.0C33.5,162.7 30.3,161.0 28.0,160.0C25.7,159.0 24.7,158.0 22.0,156.0C19.3,154.0 13.8,151.2 12.0,148.0C10.2,144.8 9.0,139.2 11.0,137.0C13.0,134.8 21.2,136.2 24.0,135.0C26.8,133.8 26.7,131.5 28.0,130.0C29.3,128.5 30.0,125.3 32.0,126.0Z" fill="#6a6af0"/><path d="M21.0,140.0C23.2,138.5 29.0,138.2 32.0,139.0C35.0,139.8 38.0,142.5 39.0,145.0C40.0,147.5 39.5,152.0 38.0,154.0C36.5,156.0 32.3,157.0 30.0,157.0C27.7,157.0 25.8,155.5 24.0,154.0C22.2,152.5 19.5,150.3 19.0,148.0C18.5,145.7 18.8,141.5 21.0,140.0Z" fill="#12a8a8"/><path d="M35.0,150.0C35.0,150.3 34.9,150.6 34.8,150.9C34.7,151.1 34.5,151.4 34.2,151.6C34.0,151.7 33.7,151.9 33.4,151.9C33.2,152.0 32.8,152.0 32.6,151.9C32.3,151.9 32.0,151.7 31.8,151.6C31.5,151.4 31.3,151.1 31.2,150.9C31.1,150.6 31.0,150.3 31.0,150.0C31.0,149.7 31.1,149.4 31.2,149.1C31.3,148.9 31.5,148.6 31.8,148.4C32.0,148.3 32.3,148.1 32.6,148.1C32.8,148.0 33.2,148.0 33.4,148.1C33.7,148.1 34.0,148.3 34.2,148.4C34.5,148.6 34.7,148.9 34.8,149.1C34.9,149.4 35.0,149.7 35.0,150.0Z" fill="#34c83c"/><path d="M133.0,116.0C133.0,117.3 132.6,118.7 131.9,119.9C131.2,121.1 130.1,122.2 128.9,123.0C127.6,123.8 126.0,124.5 124.4,124.8C122.9,125.1 121.1,125.1 119.6,124.8C118.0,124.5 116.4,123.8 115.1,123.0C113.9,122.2 112.8,121.1 112.1,119.9C111.4,118.7 111.0,117.3 111.0,116.0C111.0,114.7 111.4,113.3 112.1,112.1C112.8,110.9 113.9,109.8 115.1,109.0C116.4,108.2 118.0,107.5 119.6,107.2C121.1,106.9 122.9,106.9 124.4,107.2C126.0,107.5 127.6,108.2 128.9,109.0C130.1,109.8 131.2,110.9 131.9,112.1C132.6,113.3 133.0,114.7 133.0,116.0Z" fill="#2c2cf0"/><path d="M152.5,121.0C152.5,122.6 152.0,124.3 151.3,125.8C150.5,127.2 149.2,128.6 147.8,129.6C146.4,130.6 144.5,131.4 142.8,131.7C141.0,132.1 139.0,132.1 137.2,131.7C135.5,131.4 133.6,130.6 132.2,129.6C130.8,128.6 129.5,127.2 128.7,125.8C128.0,124.3 127.5,122.6 127.5,121.0C127.5,119.4 128.0,117.7 128.7,116.2C129.5,114.8 130.8,113.4 132.2,112.4C133.6,111.4 135.5,110.6 137.2,110.3C139.0,109.9 141.0,109.9 142.8,110.3C144.5,110.6 146.4,111.4 147.8,112.4C149.2,113.4 150.5,114.8 151.3,116.2C152.0,117.7 152.5,119.4 152.5,121.0Z" fill="#2c2cf0"/><path d="M148.0,122.0C148.0,123.0 147.7,124.1 147.1,125.0C146.5,125.9 145.6,126.8 144.6,127.5C143.6,128.1 142.3,128.6 141.0,128.8C139.7,129.0 138.3,129.0 137.0,128.8C135.7,128.6 134.4,128.1 133.4,127.5C132.4,126.8 131.5,125.9 130.9,125.0C130.3,124.1 130.0,123.0 130.0,122.0C130.0,121.0 130.3,119.9 130.9,119.0C131.5,118.1 132.4,117.2 133.4,116.5C134.4,115.9 135.7,115.4 137.0,115.2C138.3,115.0 139.7,115.0 141.0,115.2C142.3,115.4 143.6,115.9 144.6,116.5C145.6,117.2 146.5,118.1 147.1,119.0C147.7,119.9 148.0,121.0 148.0,122.0Z" fill="#6a6af0"/><path d="M142.0,123.0C142.0,123.4 141.9,123.9 141.6,124.3C141.4,124.7 140.9,125.1 140.5,125.3C140.0,125.6 139.5,125.8 138.9,125.9C138.3,126.0 137.7,126.0 137.1,125.9C136.5,125.8 136.0,125.6 135.5,125.3C135.1,125.1 134.6,124.7 134.4,124.3C134.1,123.9 134.0,123.4 134.0,123.0C134.0,122.6 134.1,122.1 134.4,121.7C134.6,121.3 135.1,120.9 135.5,120.7C136.0,120.4 136.5,120.2 137.1,120.1C137.7,120.0 138.3,120.0 138.9,120.1C139.5,120.2 140.0,120.4 140.5,120.7C140.9,120.9 141.4,121.3 141.6,121.7C141.9,122.1 142.0,122.6 142.0,123.0Z" fill="#12a8a8"/><path d="M102.1,142.0C102.1,143.1 101.9,144.3 101.5,145.3C101.0,146.2 100.4,147.2 99.7,147.9C98.9,148.5 98.0,149.1 97.0,149.3C96.1,149.6 95.1,149.6 94.2,149.3C93.2,149.1 92.3,148.5 91.5,147.9C90.8,147.2 90.2,146.2 89.7,145.3C89.3,144.3 89.1,143.1 89.1,142.0C89.1,140.9 89.3,139.7 89.7,138.7C90.2,137.8 90.8,136.8 91.5,136.1C92.3,135.5 93.2,134.9 94.2,134.7C95.1,134.4 96.1,134.4 97.0,134.7C98.0,134.9 98.9,135.5 99.7,136.1C100.4,136.8 101.0,137.8 101.5,138.7C101.9,139.7 102.1,140.9 102.1,142.0Z" fill="#2c2cf0"/><path d="M100.1,142.0C100.1,142.9 99.9,143.8 99.7,144.6C99.4,145.4 98.9,146.1 98.4,146.7C97.9,147.2 97.2,147.7 96.6,147.8C96.0,148.0 95.2,148.0 94.6,147.8C94.0,147.7 93.3,147.2 92.8,146.7C92.3,146.1 91.8,145.4 91.5,144.6C91.3,143.8 91.1,142.9 91.1,142.0C91.1,141.1 91.3,140.2 91.5,139.4C91.8,138.6 92.3,137.9 92.8,137.3C93.3,136.8 94.0,136.3 94.6,136.2C95.2,136.0 96.0,136.0 96.6,136.2C97.2,136.3 97.9,136.8 98.4,137.3C98.9,137.9 99.4,138.6 99.7,139.4C99.9,140.2 100.1,141.1 100.1,142.0Z" fill="#6a6af0"/><path d="M68.0,168.0C70.7,162.0 82.7,163.7 90.0,164.0C97.3,164.3 108.3,164.7 112.0,170.0C115.7,175.3 114.7,190.3 112.0,196.0C109.3,201.7 102.3,203.3 96.0,204.0C89.7,204.7 78.7,206.0 74.0,200.0C69.3,194.0 65.3,174.0 68.0,168.0Z" fill="#000070"/><path d="M270.0,164.0C270.5,161.3 276.2,162.3 278.0,168.0C279.8,173.7 279.2,192.7 281.0,198.0C282.8,203.3 287.3,197.7 289.0,200.0C290.7,202.3 289.8,208.7 291.0,212.0C292.2,215.3 295.0,216.3 296.0,220.0C297.0,223.7 297.3,229.8 297.0,234.0C296.7,238.2 295.7,243.3 294.0,245.0C292.3,246.7 288.5,246.5 287.0,244.0C285.5,241.5 285.8,233.8 285.0,230.0C284.2,226.2 283.8,223.5 282.0,221.0C280.2,218.5 276.5,217.3 274.0,215.0C271.5,212.7 268.5,209.5 267.0,207.0C265.5,204.5 264.0,201.7 265.0,200.0C266.0,198.3 271.3,199.7 273.0,197.0C274.7,194.3 275.5,189.5 275.0,184.0C274.5,178.5 269.5,166.7 270.0,164.0Z" fill="#12a8a8"/><path d="M281.4,173.0C282.4,172.5 286.4,174.3 288.0,176.0C289.6,177.7 291.0,180.8 291.2,183.0C291.4,185.2 290.2,187.4 289.2,189.0C288.2,190.6 286.0,192.8 285.0,192.4C284.0,192.0 283.5,188.6 283.0,186.4C282.5,184.2 282.3,181.2 282.0,179.0C281.7,176.8 280.4,173.5 281.4,173.0Z" fill="#34c83c" stroke="#34c83c" stroke-width="9.2" stroke-linejoin="round"/><path d="M281.4,173.0C282.4,172.5 286.4,174.3 288.0,176.0C289.6,177.7 291.0,180.8 291.2,183.0C291.4,185.2 290.2,187.4 289.2,189.0C288.2,190.6 286.0,192.8 285.0,192.4C284.0,192.0 283.5,188.6 283.0,186.4C282.5,184.2 282.3,181.2 282.0,179.0C281.7,176.8 280.4,173.5 281.4,173.0Z" fill="#ffffff" stroke="#ffffff" stroke-width="7.2" stroke-linejoin="round"/><path d="M281.4,173.0C282.4,172.5 286.4,174.3 288.0,176.0C289.6,177.7 291.0,180.8 291.2,183.0C291.4,185.2 290.2,187.4 289.2,189.0C288.2,190.6 286.0,192.8 285.0,192.4C284.0,192.0 283.5,188.6 283.0,186.4C282.5,184.2 282.3,181.2 282.0,179.0C281.7,176.8 280.4,173.5 281.4,173.0Z" fill="#ffff60" stroke="#ffff60" stroke-width="3.2" stroke-linejoin="round"/><path d="M281.4,173.0C282.4,172.5 286.4,174.3 288.0,176.0C289.6,177.7 291.0,180.8 291.2,183.0C291.4,185.2 290.2,187.4 289.2,189.0C288.2,190.6 286.0,192.8 285.0,192.4C284.0,192.0 283.5,188.6 283.0,186.4C282.5,184.2 282.3,181.2 282.0,179.0C281.7,176.8 280.4,173.5 281.4,173.0Z" fill="#ec7840" stroke="#ec7840" stroke-width="1.2" stroke-linejoin="round"/><path d="M281.4,173.0C282.4,172.5 286.4,174.3 288.0,176.0C289.6,177.7 291.0,180.8 291.2,183.0C291.4,185.2 290.2,187.4 289.2,189.0C288.2,190.6 286.0,192.8 285.0,192.4C284.0,192.0 283.5,188.6 283.0,186.4C282.5,184.2 282.3,181.2 282.0,179.0C281.7,176.8 280.4,173.5 281.4,173.0Z" fill="#f01010"/><path d="M164.0,204.0C165.7,200.7 173.3,202.3 176.0,204.0C178.7,205.7 180.0,210.3 180.0,214.0C180.0,217.7 178.3,224.3 176.0,226.0C173.7,227.7 168.0,227.7 166.0,224.0C164.0,220.3 162.3,207.3 164.0,204.0Z" fill="#12a8a8"/><path d="M191.0,233.0C191.0,233.7 190.8,234.4 190.5,235.0C190.2,235.5 189.7,236.1 189.1,236.5C188.6,236.9 187.8,237.2 187.1,237.4C186.4,237.5 185.6,237.5 184.9,237.4C184.2,237.2 183.4,236.9 182.9,236.5C182.3,236.1 181.8,235.5 181.5,235.0C181.2,234.4 181.0,233.7 181.0,233.0C181.0,232.3 181.2,231.6 181.5,231.0C181.8,230.5 182.3,229.9 182.9,229.5C183.4,229.1 184.2,228.8 184.9,228.6C185.6,228.5 186.4,228.5 187.1,228.6C187.8,228.8 188.6,229.1 189.1,229.5C189.7,229.9 190.2,230.5 190.5,231.0C190.8,231.6 191.0,232.3 191.0,233.0Z" fill="#12a8a8"/><path d="M187.5,234.0C187.5,234.2 187.4,234.5 187.4,234.7C187.3,234.8 187.1,235.0 186.9,235.2C186.8,235.3 186.5,235.4 186.3,235.5C186.1,235.5 185.9,235.5 185.7,235.5C185.5,235.4 185.2,235.3 185.1,235.2C184.9,235.0 184.7,234.8 184.6,234.7C184.6,234.5 184.5,234.2 184.5,234.0C184.5,233.8 184.6,233.5 184.6,233.3C184.7,233.2 184.9,233.0 185.1,232.8C185.2,232.7 185.5,232.6 185.7,232.5C185.9,232.5 186.1,232.5 186.3,232.5C186.5,232.6 186.8,232.7 186.9,232.8C187.1,233.0 187.3,233.2 187.4,233.3C187.4,233.5 187.5,233.8 187.5,234.0Z" fill="#34c83c"/><path d="M115.0,210.0C117.3,208.5 123.8,208.0 128.0,207.0C132.2,206.0 136.7,205.2 140.0,204.0C143.3,202.8 145.0,200.8 148.0,200.0C151.0,199.2 155.3,198.3 158.0,199.0C160.7,199.7 162.8,201.8 164.0,204.0C165.2,206.2 165.7,209.7 165.0,212.0C164.3,214.3 162.2,216.7 160.0,218.0C157.8,219.3 154.7,219.7 152.0,220.0C149.3,220.3 146.3,219.7 144.0,220.0C141.7,220.3 140.7,221.5 138.0,222.0C135.3,222.5 131.3,223.2 128.0,223.0C124.7,222.8 120.3,222.2 118.0,221.0C115.7,219.8 114.5,217.8 114.0,216.0C113.5,214.2 112.7,211.5 115.0,210.0Z" fill="#6a6af0" stroke="#6a6af0" stroke-width="22.0" stroke-linejoin="round"/><path d="M115.0,210.0C117.3,208.5 123.8,208.0 128.0,207.0C132.2,206.0 136.7,205.2 140.0,204.0C143.3,202.8 145.0,200.8 148.0,200.0C151.0,199.2 155.3,198.3 158.0,199.0C160.7,199.7 162.8,201.8 164.0,204.0C165.2,206.2 165.7,209.7 165.0,212.0C164.3,214.3 162.2,216.7 160.0,218.0C157.8,219.3 154.7,219.7 152.0,220.0C149.3,220.3 146.3,219.7 144.0,220.0C141.7,220.3 140.7,221.5 138.0,222.0C135.3,222.5 131.3,223.2 128.0,223.0C124.7,222.8 120.3,222.2 118.0,221.0C115.7,219.8 114.5,217.8 114.0,216.0C113.5,214.2 112.7,211.5 115.0,210.0Z" fill="#6a8cff" stroke="#6a8cff" stroke-width="18.0" stroke-linejoin="round"/><path d="M115.0,210.0C117.3,208.5 123.8,208.0 128.0,207.0C132.2,206.0 136.7,205.2 140.0,204.0C143.3,202.8 145.0,200.8 148.0,200.0C151.0,199.2 155.3,198.3 158.0,199.0C160.7,199.7 162.8,201.8 164.0,204.0C165.2,206.2 165.7,209.7 165.0,212.0C164.3,214.3 162.2,216.7 160.0,218.0C157.8,219.3 154.7,219.7 152.0,220.0C149.3,220.3 146.3,219.7 144.0,220.0C141.7,220.3 140.7,221.5 138.0,222.0C135.3,222.5 131.3,223.2 128.0,223.0C124.7,222.8 120.3,222.2 118.0,221.0C115.7,219.8 114.5,217.8 114.0,216.0C113.5,214.2 112.7,211.5 115.0,210.0Z" fill="#12a8a8" stroke="#12a8a8" stroke-width="13.0" stroke-linejoin="round"/><path d="M115.0,210.0C117.3,208.5 123.8,208.0 128.0,207.0C132.2,206.0 136.7,205.2 140.0,204.0C143.3,202.8 145.0,200.8 148.0,200.0C151.0,199.2 155.3,198.3 158.0,199.0C160.7,199.7 162.8,201.8 164.0,204.0C165.2,206.2 165.7,209.7 165.0,212.0C164.3,214.3 162.2,216.7 160.0,218.0C157.8,219.3 154.7,219.7 152.0,220.0C149.3,220.3 146.3,219.7 144.0,220.0C141.7,220.3 140.7,221.5 138.0,222.0C135.3,222.5 131.3,223.2 128.0,223.0C124.7,222.8 120.3,222.2 118.0,221.0C115.7,219.8 114.5,217.8 114.0,216.0C113.5,214.2 112.7,211.5 115.0,210.0Z" fill="#34c83c" stroke="#34c83c" stroke-width="5.0" stroke-linejoin="round"/><path d="M115.0,210.0C117.3,208.5 123.8,208.0 128.0,207.0C132.2,206.0 136.7,205.2 140.0,204.0C143.3,202.8 145.0,200.8 148.0,200.0C151.0,199.2 155.3,198.3 158.0,199.0C160.7,199.7 162.8,201.8 164.0,204.0C165.2,206.2 165.7,209.7 165.0,212.0C164.3,214.3 162.2,216.7 160.0,218.0C157.8,219.3 154.7,219.7 152.0,220.0C149.3,220.3 146.3,219.7 144.0,220.0C141.7,220.3 140.7,221.5 138.0,222.0C135.3,222.5 131.3,223.2 128.0,223.0C124.7,222.8 120.3,222.2 118.0,221.0C115.7,219.8 114.5,217.8 114.0,216.0C113.5,214.2 112.7,211.5 115.0,210.0Z" fill="#ffffff"/><path d="M157.0,215.0C157.0,215.5 156.8,216.1 156.5,216.5C156.2,217.0 155.7,217.4 155.1,217.7C154.6,218.1 153.8,218.3 153.1,218.4C152.4,218.5 151.6,218.5 150.9,218.4C150.2,218.3 149.4,218.1 148.9,217.7C148.3,217.4 147.8,217.0 147.5,216.5C147.2,216.1 147.0,215.5 147.0,215.0C147.0,214.5 147.2,213.9 147.5,213.5C147.8,213.0 148.3,212.6 148.9,212.3C149.4,211.9 150.2,211.7 150.9,211.6C151.6,211.5 152.4,211.5 153.1,211.6C153.8,211.7 154.6,211.9 155.1,212.3C155.7,212.6 156.2,213.0 156.5,213.5C156.8,213.9 157.0,214.5 157.0,215.0Z" fill="#ffffc0"/><path d="M129.0,215.5C129.0,216.0 128.8,216.6 128.4,217.1C128.0,217.5 127.4,218.0 126.7,218.3C126.1,218.6 125.2,218.9 124.3,219.0C123.5,219.1 122.5,219.1 121.7,219.0C120.8,218.9 119.9,218.6 119.3,218.3C118.6,218.0 118.0,217.5 117.6,217.1C117.2,216.6 117.0,216.0 117.0,215.5C117.0,215.0 117.2,214.4 117.6,213.9C118.0,213.5 118.6,213.0 119.3,212.7C119.9,212.4 120.8,212.1 121.7,212.0C122.5,211.9 123.5,211.9 124.3,212.0C125.2,212.1 126.1,212.4 126.7,212.7C127.4,213.0 128.0,213.5 128.4,213.9C128.8,214.4 129.0,215.0 129.0,215.5Z" fill="#ffff60" stroke="#ffff60" stroke-width="3.2" stroke-linejoin="round"/><path d="M129.0,215.5C129.0,216.0 128.8,216.6 128.4,217.1C128.0,217.5 127.4,218.0 126.7,218.3C126.1,218.6 125.2,218.9 124.3,219.0C123.5,219.1 122.5,219.1 121.7,219.0C120.8,218.9 119.9,218.6 119.3,218.3C118.6,218.0 118.0,217.5 117.6,217.1C117.2,216.6 117.0,216.0 117.0,215.5C117.0,215.0 117.2,214.4 117.6,213.9C118.0,213.5 118.6,213.0 119.3,212.7C119.9,212.4 120.8,212.1 121.7,212.0C122.5,211.9 123.5,211.9 124.3,212.0C125.2,212.1 126.1,212.4 126.7,212.7C127.4,213.0 128.0,213.5 128.4,213.9C128.8,214.4 129.0,215.0 129.0,215.5Z" fill="#ec7840" stroke="#ec7840" stroke-width="1.6" stroke-linejoin="round"/><path d="M129.0,215.5C129.0,216.0 128.8,216.6 128.4,217.1C128.0,217.5 127.4,218.0 126.7,218.3C126.1,218.6 125.2,218.9 124.3,219.0C123.5,219.1 122.5,219.1 121.7,219.0C120.8,218.9 119.9,218.6 119.3,218.3C118.6,218.0 118.0,217.5 117.6,217.1C117.2,216.6 117.0,216.0 117.0,215.5C117.0,215.0 117.2,214.4 117.6,213.9C118.0,213.5 118.6,213.0 119.3,212.7C119.9,212.4 120.8,212.1 121.7,212.0C122.5,211.9 123.5,211.9 124.3,212.0C125.2,212.1 126.1,212.4 126.7,212.7C127.4,213.0 128.0,213.5 128.4,213.9C128.8,214.4 129.0,215.0 129.0,215.5Z" fill="#f01010"/><path d="M124.5,216.0C124.5,216.3 124.4,216.5 124.3,216.8C124.1,217.0 123.8,217.2 123.6,217.4C123.3,217.6 122.9,217.7 122.6,217.8C122.2,217.8 121.8,217.8 121.4,217.8C121.1,217.7 120.7,217.6 120.4,217.4C120.2,217.2 119.9,217.0 119.7,216.8C119.6,216.5 119.5,216.3 119.5,216.0C119.5,215.7 119.6,215.5 119.7,215.2C119.9,215.0 120.2,214.8 120.4,214.6C120.7,214.4 121.1,214.3 121.4,214.2C121.8,214.2 122.2,214.2 122.6,214.2C122.9,214.3 123.3,214.4 123.6,214.6C123.8,214.8 124.1,215.0 124.3,215.2C124.4,215.5 124.5,215.7 124.5,216.0Z" fill="#b80000"/><path d="M231.6,244.0C232.5,240.5 233.9,236.8 236.0,234.0C238.1,231.2 240.7,228.5 244.0,227.0C247.3,225.5 252.0,225.1 256.0,225.0C260.0,224.9 264.7,224.9 268.0,226.4C271.3,227.9 274.3,230.7 276.0,234.0C277.7,237.3 278.2,242.0 278.4,246.0C278.6,250.0 278.2,254.6 277.0,258.0C275.8,261.4 273.8,264.2 271.0,266.4C268.2,268.6 264.2,270.3 260.0,271.0C255.8,271.7 250.0,271.4 246.0,270.4C242.0,269.4 238.6,267.6 236.0,265.0C233.4,262.4 231.1,258.5 230.4,255.0C229.7,251.5 230.7,247.5 231.6,244.0Z" fill="#12a8a8" stroke="#12a8a8" stroke-width="21.0" stroke-linejoin="round"/><path d="M231.6,244.0C232.5,240.5 233.9,236.8 236.0,234.0C238.1,231.2 240.7,228.5 244.0,227.0C247.3,225.5 252.0,225.1 256.0,225.0C260.0,224.9 264.7,224.9 268.0,226.4C271.3,227.9 274.3,230.7 276.0,234.0C277.7,237.3 278.2,242.0 278.4,246.0C278.6,250.0 278.2,254.6 277.0,258.0C275.8,261.4 273.8,264.2 271.0,266.4C268.2,268.6 264.2,270.3 260.0,271.0C255.8,271.7 250.0,271.4 246.0,270.4C242.0,269.4 238.6,267.6 236.0,265.0C233.4,262.4 231.1,258.5 230.4,255.0C229.7,251.5 230.7,247.5 231.6,244.0Z" fill="#34c83c" stroke="#34c83c" stroke-width="14.0" stroke-linejoin="round"/><path d="M231.6,244.0C232.5,240.5 233.9,236.8 236.0,234.0C238.1,231.2 240.7,228.5 244.0,227.0C247.3,225.5 252.0,225.1 256.0,225.0C260.0,224.9 264.7,224.9 268.0,226.4C271.3,227.9 274.3,230.7 276.0,234.0C277.7,237.3 278.2,242.0 278.4,246.0C278.6,250.0 278.2,254.6 277.0,258.0C275.8,261.4 273.8,264.2 271.0,266.4C268.2,268.6 264.2,270.3 260.0,271.0C255.8,271.7 250.0,271.4 246.0,270.4C242.0,269.4 238.6,267.6 236.0,265.0C233.4,262.4 231.1,258.5 230.4,255.0C229.7,251.5 230.7,247.5 231.6,244.0Z" fill="#ffffff" stroke="#ffffff" stroke-width="11.2" stroke-linejoin="round"/><path d="M231.6,244.0C232.5,240.5 233.9,236.8 236.0,234.0C238.1,231.2 240.7,228.5 244.0,227.0C247.3,225.5 252.0,225.1 256.0,225.0C260.0,224.9 264.7,224.9 268.0,226.4C271.3,227.9 274.3,230.7 276.0,234.0C277.7,237.3 278.2,242.0 278.4,246.0C278.6,250.0 278.2,254.6 277.0,258.0C275.8,261.4 273.8,264.2 271.0,266.4C268.2,268.6 264.2,270.3 260.0,271.0C255.8,271.7 250.0,271.4 246.0,270.4C242.0,269.4 238.6,267.6 236.0,265.0C233.4,262.4 231.1,258.5 230.4,255.0C229.7,251.5 230.7,247.5 231.6,244.0Z" fill="#ffff60" stroke="#ffff60" stroke-width="2.6" stroke-linejoin="round"/><path d="M231.6,244.0C232.5,240.5 233.9,236.8 236.0,234.0C238.1,231.2 240.7,228.5 244.0,227.0C247.3,225.5 252.0,225.1 256.0,225.0C260.0,224.9 264.7,224.9 268.0,226.4C271.3,227.9 274.3,230.7 276.0,234.0C277.7,237.3 278.2,242.0 278.4,246.0C278.6,250.0 278.2,254.6 277.0,258.0C275.8,261.4 273.8,264.2 271.0,266.4C268.2,268.6 264.2,270.3 260.0,271.0C255.8,271.7 250.0,271.4 246.0,270.4C242.0,269.4 238.6,267.6 236.0,265.0C233.4,262.4 231.1,258.5 230.4,255.0C229.7,251.5 230.7,247.5 231.6,244.0Z" fill="#ec7840"/><path d="M234.0,244.0C235.2,241.2 237.7,238.8 240.0,237.0C242.3,235.2 245.3,233.8 248.0,233.0C250.7,232.2 253.3,231.7 256.0,232.0C258.7,232.3 261.6,233.2 264.0,235.0C266.4,236.8 268.7,240.2 270.4,243.0C272.1,245.8 274.1,249.1 274.4,252.0C274.7,254.9 273.8,258.0 272.4,260.4C271.0,262.8 268.7,265.1 266.0,266.4C263.3,267.7 259.3,268.2 256.0,268.4C252.7,268.6 249.0,268.4 246.0,267.4C243.0,266.4 240.2,264.6 238.0,262.4C235.8,260.2 233.7,257.1 233.0,254.0C232.3,250.9 232.8,246.8 234.0,244.0Z" fill="#f01010"/><path d="M240.0,252.0C241.3,249.7 248.0,248.0 252.0,248.0C256.0,248.0 262.0,250.0 264.0,252.0C266.0,254.0 265.7,257.8 264.0,260.0C262.3,262.2 257.3,264.7 254.0,265.0C250.7,265.3 246.3,264.2 244.0,262.0C241.7,259.8 238.7,254.3 240.0,252.0Z" fill="#b80000"/><polygon points="242.0,217.0 248.0,217.0 248.4,222.4 242.4,222.4" fill="#ffffff"/><path d="M106.0,264.4C106.7,262.3 111.0,259.8 114.0,259.6C117.0,259.4 121.0,261.6 124.0,263.0C127.0,264.4 129.0,266.2 132.0,268.0C135.0,269.8 138.7,272.3 142.0,274.0C145.3,275.7 148.3,276.3 152.0,278.0C155.7,279.7 159.7,281.7 164.0,284.0C168.3,286.3 174.3,289.3 178.0,292.0C181.7,294.7 184.3,297.3 186.0,300.0C187.7,302.7 189.0,305.6 188.4,308.0C187.8,310.4 185.1,313.0 182.4,314.4C179.7,315.8 175.7,316.7 172.0,316.4C168.3,316.1 163.7,314.7 160.0,312.4C156.3,310.1 152.7,305.4 150.0,302.4C147.3,299.4 146.3,296.4 144.0,294.4C141.7,292.4 138.7,292.4 136.0,290.4C133.3,288.4 130.7,285.1 128.0,282.4C125.3,279.7 123.0,276.1 120.0,274.4C117.0,272.7 112.3,273.7 110.0,272.0C107.7,270.3 105.3,266.5 106.0,264.4Z" fill="#12a8a8" stroke="#12a8a8" stroke-width="18.0" stroke-linejoin="round"/><path d="M106.0,264.4C106.7,262.3 111.0,259.8 114.0,259.6C117.0,259.4 121.0,261.6 124.0,263.0C127.0,264.4 129.0,266.2 132.0,268.0C135.0,269.8 138.7,272.3 142.0,274.0C145.3,275.7 148.3,276.3 152.0,278.0C155.7,279.7 159.7,281.7 164.0,284.0C168.3,286.3 174.3,289.3 178.0,292.0C181.7,294.7 184.3,297.3 186.0,300.0C187.7,302.7 189.0,305.6 188.4,308.0C187.8,310.4 185.1,313.0 182.4,314.4C179.7,315.8 175.7,316.7 172.0,316.4C168.3,316.1 163.7,314.7 160.0,312.4C156.3,310.1 152.7,305.4 150.0,302.4C147.3,299.4 146.3,296.4 144.0,294.4C141.7,292.4 138.7,292.4 136.0,290.4C133.3,288.4 130.7,285.1 128.0,282.4C125.3,279.7 123.0,276.1 120.0,274.4C117.0,272.7 112.3,273.7 110.0,272.0C107.7,270.3 105.3,266.5 106.0,264.4Z" fill="#34c83c" stroke="#34c83c" stroke-width="10.4" stroke-linejoin="round"/><path d="M106.0,264.4C106.7,262.3 111.0,259.8 114.0,259.6C117.0,259.4 121.0,261.6 124.0,263.0C127.0,264.4 129.0,266.2 132.0,268.0C135.0,269.8 138.7,272.3 142.0,274.0C145.3,275.7 148.3,276.3 152.0,278.0C155.7,279.7 159.7,281.7 164.0,284.0C168.3,286.3 174.3,289.3 178.0,292.0C181.7,294.7 184.3,297.3 186.0,300.0C187.7,302.7 189.0,305.6 188.4,308.0C187.8,310.4 185.1,313.0 182.4,314.4C179.7,315.8 175.7,316.7 172.0,316.4C168.3,316.1 163.7,314.7 160.0,312.4C156.3,310.1 152.7,305.4 150.0,302.4C147.3,299.4 146.3,296.4 144.0,294.4C141.7,292.4 138.7,292.4 136.0,290.4C133.3,288.4 130.7,285.1 128.0,282.4C125.3,279.7 123.0,276.1 120.0,274.4C117.0,272.7 112.3,273.7 110.0,272.0C107.7,270.3 105.3,266.5 106.0,264.4Z" fill="#ffffff" stroke="#ffffff" stroke-width="8.0" stroke-linejoin="round"/><path d="M106.0,264.4C106.7,262.3 111.0,259.8 114.0,259.6C117.0,259.4 121.0,261.6 124.0,263.0C127.0,264.4 129.0,266.2 132.0,268.0C135.0,269.8 138.7,272.3 142.0,274.0C145.3,275.7 148.3,276.3 152.0,278.0C155.7,279.7 159.7,281.7 164.0,284.0C168.3,286.3 174.3,289.3 178.0,292.0C181.7,294.7 184.3,297.3 186.0,300.0C187.7,302.7 189.0,305.6 188.4,308.0C187.8,310.4 185.1,313.0 182.4,314.4C179.7,315.8 175.7,316.7 172.0,316.4C168.3,316.1 163.7,314.7 160.0,312.4C156.3,310.1 152.7,305.4 150.0,302.4C147.3,299.4 146.3,296.4 144.0,294.4C141.7,292.4 138.7,292.4 136.0,290.4C133.3,288.4 130.7,285.1 128.0,282.4C125.3,279.7 123.0,276.1 120.0,274.4C117.0,272.7 112.3,273.7 110.0,272.0C107.7,270.3 105.3,266.5 106.0,264.4Z" fill="#ffff60" stroke="#ffff60" stroke-width="2.2" stroke-linejoin="round"/><path d="M106.0,264.4C106.7,262.3 111.0,259.8 114.0,259.6C117.0,259.4 121.0,261.6 124.0,263.0C127.0,264.4 129.0,266.2 132.0,268.0C135.0,269.8 138.7,272.3 142.0,274.0C145.3,275.7 148.3,276.3 152.0,278.0C155.7,279.7 159.7,281.7 164.0,284.0C168.3,286.3 174.3,289.3 178.0,292.0C181.7,294.7 184.3,297.3 186.0,300.0C187.7,302.7 189.0,305.6 188.4,308.0C187.8,310.4 185.1,313.0 182.4,314.4C179.7,315.8 175.7,316.7 172.0,316.4C168.3,316.1 163.7,314.7 160.0,312.4C156.3,310.1 152.7,305.4 150.0,302.4C147.3,299.4 146.3,296.4 144.0,294.4C141.7,292.4 138.7,292.4 136.0,290.4C133.3,288.4 130.7,285.1 128.0,282.4C125.3,279.7 123.0,276.1 120.0,274.4C117.0,272.7 112.3,273.7 110.0,272.0C107.7,270.3 105.3,266.5 106.0,264.4Z" fill="#ec7840"/><path d="M129.0,272.0C130.7,271.0 134.8,270.7 138.0,272.0C141.2,273.3 146.3,277.3 148.0,280.0C149.7,282.7 149.7,286.3 148.4,288.0C147.1,289.7 142.7,291.0 140.0,290.4C137.3,289.8 134.0,286.5 132.0,284.4C130.0,282.3 128.5,280.1 128.0,278.0C127.5,275.9 127.3,273.0 129.0,272.0Z" fill="#f01010"/><path d="M158.0,294.0C159.3,292.0 163.0,290.0 166.0,290.0C169.0,290.0 173.3,292.0 176.0,294.0C178.7,296.0 181.7,299.3 182.4,302.0C183.1,304.7 182.1,308.0 180.4,310.0C178.7,312.0 174.7,313.9 172.0,314.0C169.3,314.1 166.3,312.4 164.0,310.4C161.7,308.4 159.0,304.7 158.0,302.0C157.0,299.3 156.7,296.0 158.0,294.0Z" fill="#f01010"/><path d="M163.0,298.0C164.1,296.5 167.7,295.3 170.0,296.0C172.3,296.7 176.2,300.0 177.0,302.0C177.8,304.0 176.3,306.7 175.0,308.0C173.7,309.3 170.9,310.1 169.0,309.6C167.1,309.1 164.6,306.9 163.6,305.0C162.6,303.1 161.9,299.5 163.0,298.0Z" fill="#b80000"/><path d="M110.4,284.4C111.9,282.7 114.4,282.1 117.0,282.0C119.6,281.9 122.8,282.2 126.0,283.6C129.2,285.0 133.0,287.9 136.0,290.4C139.0,292.9 141.7,295.5 144.0,298.4C146.3,301.3 148.9,304.7 149.6,308.0C150.3,311.3 149.6,315.4 148.0,318.0C146.4,320.6 143.0,322.9 140.0,323.6C137.0,324.3 133.3,322.9 130.0,322.0C126.7,321.1 122.9,319.7 120.0,318.0C117.1,316.3 114.2,314.7 112.4,312.0C110.6,309.3 109.7,305.3 109.0,302.0C108.3,298.7 107.8,294.9 108.0,292.0C108.2,289.1 108.9,286.1 110.4,284.4Z" fill="#ffffff" stroke="#ffffff" stroke-width="4.4" stroke-linejoin="round"/><path d="M110.4,284.4C111.9,282.7 114.4,282.1 117.0,282.0C119.6,281.9 122.8,282.2 126.0,283.6C129.2,285.0 133.0,287.9 136.0,290.4C139.0,292.9 141.7,295.5 144.0,298.4C146.3,301.3 148.9,304.7 149.6,308.0C150.3,311.3 149.6,315.4 148.0,318.0C146.4,320.6 143.0,322.9 140.0,323.6C137.0,324.3 133.3,322.9 130.0,322.0C126.7,321.1 122.9,319.7 120.0,318.0C117.1,316.3 114.2,314.7 112.4,312.0C110.6,309.3 109.7,305.3 109.0,302.0C108.3,298.7 107.8,294.9 108.0,292.0C108.2,289.1 108.9,286.1 110.4,284.4Z" fill="#34c83c" stroke="#34c83c" stroke-width="2.8" stroke-linejoin="round"/><path d="M110.4,284.4C111.9,282.7 114.4,282.1 117.0,282.0C119.6,281.9 122.8,282.2 126.0,283.6C129.2,285.0 133.0,287.9 136.0,290.4C139.0,292.9 141.7,295.5 144.0,298.4C146.3,301.3 148.9,304.7 149.6,308.0C150.3,311.3 149.6,315.4 148.0,318.0C146.4,320.6 143.0,322.9 140.0,323.6C137.0,324.3 133.3,322.9 130.0,322.0C126.7,321.1 122.9,319.7 120.0,318.0C117.1,316.3 114.2,314.7 112.4,312.0C110.6,309.3 109.7,305.3 109.0,302.0C108.3,298.7 107.8,294.9 108.0,292.0C108.2,289.1 108.9,286.1 110.4,284.4Z" fill="#12a8a8" stroke="#12a8a8" stroke-width="0.4" stroke-linejoin="round"/><path d="M110.4,284.4C111.9,282.7 114.4,282.1 117.0,282.0C119.6,281.9 122.8,282.2 126.0,283.6C129.2,285.0 133.0,287.9 136.0,290.4C139.0,292.9 141.7,295.5 144.0,298.4C146.3,301.3 148.9,304.7 149.6,308.0C150.3,311.3 149.6,315.4 148.0,318.0C146.4,320.6 143.0,322.9 140.0,323.6C137.0,324.3 133.3,322.9 130.0,322.0C126.7,321.1 122.9,319.7 120.0,318.0C117.1,316.3 114.2,314.7 112.4,312.0C110.6,309.3 109.7,305.3 109.0,302.0C108.3,298.7 107.8,294.9 108.0,292.0C108.2,289.1 108.9,286.1 110.4,284.4Z" fill="#2c2cf0"/><path d="M118.0,290.0C119.7,287.7 125.0,288.7 128.0,290.0C131.0,291.3 134.2,295.0 136.0,298.0C137.8,301.0 138.7,304.7 139.0,308.0C139.3,311.3 139.3,316.3 138.0,318.0C136.7,319.7 133.3,319.0 131.0,318.0C128.7,317.0 126.2,314.3 124.0,312.0C121.8,309.7 119.0,307.7 118.0,304.0C117.0,300.3 116.3,292.3 118.0,290.0Z" fill="#00008c"/><path d="M32.0,262.0C36.0,255.7 48.7,257.7 56.0,256.0C63.3,254.3 69.3,252.3 76.0,252.0C82.7,251.7 91.0,253.2 96.0,254.0C101.0,254.8 104.0,255.7 106.0,257.0C108.0,258.3 108.3,260.5 108.0,262.0C107.7,263.5 105.3,264.0 104.0,266.0C102.7,268.0 100.0,271.7 100.0,274.0C100.0,276.3 103.0,277.7 104.0,280.0C105.0,282.3 105.3,285.0 106.0,288.0C106.7,291.0 107.3,294.3 108.0,298.0C108.7,301.7 108.7,306.3 110.0,310.0C111.3,313.7 114.3,317.3 116.0,320.0C117.7,322.7 120.3,323.7 120.0,326.0C119.7,328.3 115.0,329.3 114.0,334.0C113.0,338.7 121.3,350.7 114.0,354.0C106.7,357.3 83.7,364.0 70.0,354.0C56.3,344.0 38.3,309.3 32.0,294.0C25.7,278.7 28.0,268.3 32.0,262.0Z" fill="#12a8a8"/><path d="M32.0,274.0C36.7,268.3 52.3,266.2 60.0,264.0C67.7,261.8 72.0,261.3 78.0,261.0C84.0,260.7 91.7,261.3 96.0,262.0C100.3,262.7 103.3,263.0 104.0,265.0C104.7,267.0 100.0,271.3 100.0,274.0C100.0,276.7 103.2,278.5 104.0,281.0C104.8,283.5 104.5,286.2 105.0,289.0C105.5,291.8 106.3,294.5 107.0,298.0C107.7,301.5 107.8,306.5 109.0,310.0C110.2,313.5 112.5,316.5 114.0,319.0C115.5,321.5 118.2,322.5 118.0,325.0C117.8,327.5 113.8,329.2 113.0,334.0C112.2,338.8 120.2,350.7 113.0,354.0C105.8,357.3 83.5,363.3 70.0,354.0C56.5,344.7 38.3,311.3 32.0,298.0C25.7,284.7 27.3,279.7 32.0,274.0Z" fill="#34c83c"/><path d="M32.0,284.0C37.0,278.7 54.0,272.8 62.0,270.0C70.0,267.2 74.7,267.4 80.0,267.0C85.3,266.6 90.7,266.8 94.0,267.6C97.3,268.4 98.5,269.9 100.0,272.0C101.5,274.1 102.3,277.2 103.0,280.0C103.7,282.8 103.5,286.0 104.0,289.0C104.5,292.0 105.3,294.5 106.0,298.0C106.7,301.5 106.9,306.4 108.0,310.0C109.1,313.6 111.1,317.1 112.4,319.6C113.7,322.1 116.1,322.6 116.0,325.0C115.9,327.4 112.7,329.2 112.0,334.0C111.3,338.8 119.0,350.7 112.0,354.0C105.0,357.3 83.3,362.7 70.0,354.0C56.7,345.3 38.3,313.7 32.0,302.0C25.7,290.3 27.0,289.3 32.0,284.0Z" fill="#ffffff"/><path d="M50.0,294.0C53.3,290.0 64.0,284.8 70.0,282.0C76.0,279.2 81.3,277.7 86.0,277.0C90.7,276.3 95.3,277.0 98.0,278.0C100.7,279.0 101.2,280.8 102.0,283.0C102.8,285.2 102.5,288.2 103.0,291.0C103.5,293.8 104.3,296.7 105.0,300.0C105.7,303.3 106.0,307.7 107.0,311.0C108.0,314.3 109.8,317.7 111.0,320.0C112.2,322.3 114.2,322.7 114.0,325.0C113.8,327.3 110.5,329.2 110.0,334.0C109.5,338.8 117.7,350.7 111.0,354.0C104.3,357.3 80.2,362.0 70.0,354.0C59.8,346.0 53.3,316.0 50.0,306.0C46.7,296.0 46.7,298.0 50.0,294.0Z" fill="#ffff60"/><path d="M58.0,297.0C60.7,293.5 69.0,289.5 74.0,287.0C79.0,284.5 83.8,282.7 88.0,282.0C92.2,281.3 96.7,281.5 99.0,283.0C101.3,284.5 101.2,288.2 102.0,291.0C102.8,293.8 103.3,296.7 104.0,300.0C104.7,303.3 105.0,307.7 106.0,311.0C107.0,314.3 108.9,317.7 110.0,320.0C111.1,322.3 112.6,322.7 112.4,325.0C112.2,327.3 109.4,329.2 109.0,334.0C108.6,338.8 116.2,350.7 110.0,354.0C103.8,357.3 80.7,361.7 72.0,354.0C63.3,346.3 60.3,317.5 58.0,308.0C55.7,298.5 55.3,300.5 58.0,297.0Z" fill="#ffc890"/><path d="M63.0,300.0C65.5,296.8 73.5,293.3 78.0,291.0C82.5,288.7 86.3,286.5 90.0,286.0C93.7,285.5 97.9,286.0 100.0,288.0C102.1,290.0 101.6,294.2 102.4,298.0C103.2,301.8 103.9,307.3 105.0,311.0C106.1,314.7 108.0,317.7 109.0,320.0C110.0,322.3 111.2,322.7 111.0,325.0C110.8,327.3 108.3,329.2 108.0,334.0C107.7,338.8 114.7,350.7 109.0,354.0C103.3,357.3 81.7,361.3 74.0,354.0C66.3,346.7 64.8,319.0 63.0,310.0C61.2,301.0 60.5,303.2 63.0,300.0Z" fill="#ec7840"/><path d="M76.0,318.0C78.3,311.0 85.7,313.3 90.0,312.0C94.3,310.7 99.3,309.7 102.0,310.0C104.7,310.3 105.0,312.3 106.0,314.0C107.0,315.7 107.3,318.2 108.0,320.0C108.7,321.8 110.2,322.7 110.0,325.0C109.8,327.3 107.3,331.2 107.0,334.0C106.7,336.8 107.8,338.7 108.0,342.0C108.2,345.3 113.3,352.0 108.0,354.0C102.7,356.0 81.3,360.0 76.0,354.0C70.7,348.0 73.7,325.0 76.0,318.0Z" fill="#f01010"/><path d="M88.0,324.0C90.3,321.7 97.0,319.7 100.0,320.0C103.0,320.3 105.3,323.7 106.0,326.0C106.7,328.3 103.7,331.3 104.0,334.0C104.3,336.7 107.3,338.7 108.0,342.0C108.7,345.3 111.3,352.0 108.0,354.0C104.7,356.0 91.7,357.3 88.0,354.0C84.3,350.7 86.0,339.0 86.0,334.0C86.0,329.0 85.7,326.3 88.0,324.0Z" fill="#b80000"/><polygon points="30.0,470.0 140.0,470.0 200.0,560.0 200.0,640.0 60.0,640.0 30.0,560.0" fill="#00008c"/><polygon points="95.0,560.0 115.0,555.0 135.0,562.0 200.0,570.0 200.0,640.0 90.0,640.0 92.0,600.0" fill="#000070"/><path d="M46.0,426.0C52.2,420.7 84.1,420.0 90.0,426.0C95.9,432.0 82.5,454.3 81.6,462.0C80.7,469.7 83.6,469.0 84.4,472.0C85.2,475.0 85.4,477.7 86.4,480.0C87.4,482.3 89.6,483.9 90.4,486.0C91.2,488.1 91.7,490.5 91.4,492.4C91.1,494.3 90.0,496.4 88.4,497.6C86.8,498.8 84.1,499.6 82.0,499.6C79.9,499.6 77.7,499.1 76.0,497.6C74.3,496.1 73.0,492.9 71.6,490.4C70.2,487.9 68.9,485.1 67.6,482.4C66.3,479.7 65.2,476.6 63.6,474.4C62.0,472.2 59.8,472.1 58.0,469.4C56.2,466.7 55.0,465.2 53.0,458.0C51.0,450.8 39.8,431.3 46.0,426.0Z" fill="#2c2cf0" stroke="#2c2cf0" stroke-width="13.0" stroke-linejoin="round"/><path d="M46.0,426.0C52.2,420.7 84.1,420.0 90.0,426.0C95.9,432.0 82.5,454.3 81.6,462.0C80.7,469.7 83.6,469.0 84.4,472.0C85.2,475.0 85.4,477.7 86.4,480.0C87.4,482.3 89.6,483.9 90.4,486.0C91.2,488.1 91.7,490.5 91.4,492.4C91.1,494.3 90.0,496.4 88.4,497.6C86.8,498.8 84.1,499.6 82.0,499.6C79.9,499.6 77.7,499.1 76.0,497.6C74.3,496.1 73.0,492.9 71.6,490.4C70.2,487.9 68.9,485.1 67.6,482.4C66.3,479.7 65.2,476.6 63.6,474.4C62.0,472.2 59.8,472.1 58.0,469.4C56.2,466.7 55.0,465.2 53.0,458.0C51.0,450.8 39.8,431.3 46.0,426.0Z" fill="#6a6af0" stroke="#6a6af0" stroke-width="10.4" stroke-linejoin="round"/><path d="M46.0,426.0C52.2,420.7 84.1,420.0 90.0,426.0C95.9,432.0 82.5,454.3 81.6,462.0C80.7,469.7 83.6,469.0 84.4,472.0C85.2,475.0 85.4,477.7 86.4,480.0C87.4,482.3 89.6,483.9 90.4,486.0C91.2,488.1 91.7,490.5 91.4,492.4C91.1,494.3 90.0,496.4 88.4,497.6C86.8,498.8 84.1,499.6 82.0,499.6C79.9,499.6 77.7,499.1 76.0,497.6C74.3,496.1 73.0,492.9 71.6,490.4C70.2,487.9 68.9,485.1 67.6,482.4C66.3,479.7 65.2,476.6 63.6,474.4C62.0,472.2 59.8,472.1 58.0,469.4C56.2,466.7 55.0,465.2 53.0,458.0C51.0,450.8 39.8,431.3 46.0,426.0Z" fill="#12a8a8" stroke="#12a8a8" stroke-width="8.0" stroke-linejoin="round"/><path d="M46.0,426.0C52.2,420.7 84.1,420.0 90.0,426.0C95.9,432.0 82.5,454.3 81.6,462.0C80.7,469.7 83.6,469.0 84.4,472.0C85.2,475.0 85.4,477.7 86.4,480.0C87.4,482.3 89.6,483.9 90.4,486.0C91.2,488.1 91.7,490.5 91.4,492.4C91.1,494.3 90.0,496.4 88.4,497.6C86.8,498.8 84.1,499.6 82.0,499.6C79.9,499.6 77.7,499.1 76.0,497.6C74.3,496.1 73.0,492.9 71.6,490.4C70.2,487.9 68.9,485.1 67.6,482.4C66.3,479.7 65.2,476.6 63.6,474.4C62.0,472.2 59.8,472.1 58.0,469.4C56.2,466.7 55.0,465.2 53.0,458.0C51.0,450.8 39.8,431.3 46.0,426.0Z" fill="#34c83c" stroke="#34c83c" stroke-width="5.6" stroke-linejoin="round"/><path d="M46.0,426.0C52.2,420.7 84.1,420.0 90.0,426.0C95.9,432.0 82.5,454.3 81.6,462.0C80.7,469.7 83.6,469.0 84.4,472.0C85.2,475.0 85.4,477.7 86.4,480.0C87.4,482.3 89.6,483.9 90.4,486.0C91.2,488.1 91.7,490.5 91.4,492.4C91.1,494.3 90.0,496.4 88.4,497.6C86.8,498.8 84.1,499.6 82.0,499.6C79.9,499.6 77.7,499.1 76.0,497.6C74.3,496.1 73.0,492.9 71.6,490.4C70.2,487.9 68.9,485.1 67.6,482.4C66.3,479.7 65.2,476.6 63.6,474.4C62.0,472.2 59.8,472.1 58.0,469.4C56.2,466.7 55.0,465.2 53.0,458.0C51.0,450.8 39.8,431.3 46.0,426.0Z" fill="#ffffff" stroke="#ffffff" stroke-width="4.0" stroke-linejoin="round"/><path d="M46.0,426.0C52.2,420.7 84.1,420.0 90.0,426.0C95.9,432.0 82.5,454.3 81.6,462.0C80.7,469.7 83.6,469.0 84.4,472.0C85.2,475.0 85.4,477.7 86.4,480.0C87.4,482.3 89.6,483.9 90.4,486.0C91.2,488.1 91.7,490.5 91.4,492.4C91.1,494.3 90.0,496.4 88.4,497.6C86.8,498.8 84.1,499.6 82.0,499.6C79.9,499.6 77.7,499.1 76.0,497.6C74.3,496.1 73.0,492.9 71.6,490.4C70.2,487.9 68.9,485.1 67.6,482.4C66.3,479.7 65.2,476.6 63.6,474.4C62.0,472.2 59.8,472.1 58.0,469.4C56.2,466.7 55.0,465.2 53.0,458.0C51.0,450.8 39.8,431.3 46.0,426.0Z" fill="#f01010"/><path d="M76.0,484.0C77.8,482.3 84.6,482.0 87.0,483.0C89.4,484.0 90.3,487.8 90.4,490.0C90.5,492.2 89.2,495.1 87.6,496.4C86.0,497.7 82.9,498.2 81.0,497.6C79.1,497.0 77.2,495.3 76.4,493.0C75.6,490.7 74.2,485.7 76.0,484.0Z" fill="#b80000"/><path d="M60.0,453.0C61.6,451.0 68.2,450.2 70.0,452.0C71.8,453.8 71.7,461.2 71.0,464.0C70.3,466.8 67.8,469.0 66.0,469.0C64.2,469.0 61.4,466.7 60.4,464.0C59.4,461.3 58.4,455.0 60.0,453.0Z" fill="#b80000"/><path d="M67.0,519.0C68.5,517.2 73.1,517.0 76.0,517.0C78.9,517.0 82.3,517.5 84.4,519.0C86.5,520.5 87.6,523.5 88.4,526.0C89.2,528.5 89.7,532.4 89.0,534.0C88.3,535.6 85.8,535.3 84.0,535.6C82.2,535.9 80.2,535.9 78.0,535.6C75.8,535.3 72.8,534.9 71.0,533.6C69.2,532.3 67.7,530.4 67.0,528.0C66.3,525.6 65.5,520.8 67.0,519.0Z" fill="#2c2cf0" stroke="#2c2cf0" stroke-width="18.0" stroke-linejoin="round"/><path d="M67.0,519.0C68.5,517.2 73.1,517.0 76.0,517.0C78.9,517.0 82.3,517.5 84.4,519.0C86.5,520.5 87.6,523.5 88.4,526.0C89.2,528.5 89.7,532.4 89.0,534.0C88.3,535.6 85.8,535.3 84.0,535.6C82.2,535.9 80.2,535.9 78.0,535.6C75.8,535.3 72.8,534.9 71.0,533.6C69.2,532.3 67.7,530.4 67.0,528.0C66.3,525.6 65.5,520.8 67.0,519.0Z" fill="#6a6af0" stroke="#6a6af0" stroke-width="15.0" stroke-linejoin="round"/><path d="M67.0,519.0C68.5,517.2 73.1,517.0 76.0,517.0C78.9,517.0 82.3,517.5 84.4,519.0C86.5,520.5 87.6,523.5 88.4,526.0C89.2,528.5 89.7,532.4 89.0,534.0C88.3,535.6 85.8,535.3 84.0,535.6C82.2,535.9 80.2,535.9 78.0,535.6C75.8,535.3 72.8,534.9 71.0,533.6C69.2,532.3 67.7,530.4 67.0,528.0C66.3,525.6 65.5,520.8 67.0,519.0Z" fill="#12a8a8" stroke="#12a8a8" stroke-width="11.0" stroke-linejoin="round"/><path d="M67.0,519.0C68.5,517.2 73.1,517.0 76.0,517.0C78.9,517.0 82.3,517.5 84.4,519.0C86.5,520.5 87.6,523.5 88.4,526.0C89.2,528.5 89.7,532.4 89.0,534.0C88.3,535.6 85.8,535.3 84.0,535.6C82.2,535.9 80.2,535.9 78.0,535.6C75.8,535.3 72.8,534.9 71.0,533.6C69.2,532.3 67.7,530.4 67.0,528.0C66.3,525.6 65.5,520.8 67.0,519.0Z" fill="#34c83c" stroke="#34c83c" stroke-width="6.4" stroke-linejoin="round"/><path d="M67.0,519.0C68.5,517.2 73.1,517.0 76.0,517.0C78.9,517.0 82.3,517.5 84.4,519.0C86.5,520.5 87.6,523.5 88.4,526.0C89.2,528.5 89.7,532.4 89.0,534.0C88.3,535.6 85.8,535.3 84.0,535.6C82.2,535.9 80.2,535.9 78.0,535.6C75.8,535.3 72.8,534.9 71.0,533.6C69.2,532.3 67.7,530.4 67.0,528.0C66.3,525.6 65.5,520.8 67.0,519.0Z" fill="#ffffff" stroke="#ffffff" stroke-width="4.8" stroke-linejoin="round"/><path d="M67.0,519.0C68.5,517.2 73.1,517.0 76.0,517.0C78.9,517.0 82.3,517.5 84.4,519.0C86.5,520.5 87.6,523.5 88.4,526.0C89.2,528.5 89.7,532.4 89.0,534.0C88.3,535.6 85.8,535.3 84.0,535.6C82.2,535.9 80.2,535.9 78.0,535.6C75.8,535.3 72.8,534.9 71.0,533.6C69.2,532.3 67.7,530.4 67.0,528.0C66.3,525.6 65.5,520.8 67.0,519.0Z" fill="#ffff60" stroke="#ffff60" stroke-width="1.6" stroke-linejoin="round"/><path d="M67.0,519.0C68.5,517.2 73.1,517.0 76.0,517.0C78.9,517.0 82.3,517.5 84.4,519.0C86.5,520.5 87.6,523.5 88.4,526.0C89.2,528.5 89.7,532.4 89.0,534.0C88.3,535.6 85.8,535.3 84.0,535.6C82.2,535.9 80.2,535.9 78.0,535.6C75.8,535.3 72.8,534.9 71.0,533.6C69.2,532.3 67.7,530.4 67.0,528.0C66.3,525.6 65.5,520.8 67.0,519.0Z" fill="#ec7840"/><path d="M67.4,519.4C68.8,517.6 73.3,517.4 76.0,517.4C78.7,517.4 81.9,518.0 83.6,519.4C85.3,520.8 86.4,523.9 86.4,526.0C86.4,528.1 85.0,530.5 83.6,532.0C82.2,533.5 80.1,534.8 78.0,535.0C75.9,535.2 72.8,534.2 71.0,533.0C69.2,531.8 68.0,530.3 67.4,528.0C66.8,525.7 66.0,521.2 67.4,519.4Z" fill="#f01010"/><path d="M79.0,526.0C79.0,526.6 78.8,527.2 78.5,527.7C78.2,528.3 77.7,528.8 77.1,529.1C76.6,529.5 75.8,529.8 75.1,529.9C74.4,530.0 73.6,530.0 72.9,529.9C72.2,529.8 71.4,529.5 70.9,529.1C70.3,528.8 69.8,528.3 69.5,527.7C69.2,527.2 69.0,526.6 69.0,526.0C69.0,525.4 69.2,524.8 69.5,524.3C69.8,523.7 70.3,523.2 70.9,522.9C71.4,522.5 72.2,522.2 72.9,522.1C73.6,522.0 74.4,522.0 75.1,522.1C75.8,522.2 76.6,522.5 77.1,522.9C77.7,523.2 78.2,523.7 78.5,524.3C78.8,524.8 79.0,525.4 79.0,526.0Z" fill="#b80000"/><path d="M87.0,538.0C88.7,535.0 97.2,534.7 100.0,536.0C102.8,537.3 103.6,542.3 104.0,546.0C104.4,549.7 103.7,555.3 102.4,558.0C101.1,560.7 98.1,562.7 96.0,562.0C93.9,561.3 91.5,558.0 90.0,554.0C88.5,550.0 85.3,541.0 87.0,538.0Z" fill="#2c2cf0"/><path d="M87.0,539.0C88.2,537.3 94.9,536.8 97.0,538.0C99.1,539.2 99.4,543.7 99.6,546.0C99.8,548.3 99.1,550.7 98.0,552.0C96.9,553.3 94.4,554.7 93.0,554.0C91.6,553.3 90.6,550.5 89.6,548.0C88.6,545.5 85.8,540.7 87.0,539.0Z" fill="#12a8a8"/><path d="M95.0,508.0C96.3,507.0 101.8,507.0 104.0,510.0C106.2,513.0 107.5,520.7 108.0,526.0C108.5,531.3 107.7,536.7 107.0,542.0C106.3,547.3 105.3,555.3 104.0,558.0C102.7,560.7 99.5,560.7 99.0,558.0C98.5,555.3 100.8,547.3 101.0,542.0C101.2,536.7 100.8,530.3 100.0,526.0C99.2,521.7 96.8,519.0 96.0,516.0C95.2,513.0 93.7,509.0 95.0,508.0Z" fill="#2c2cf0"/><path d="M44.0,478.0C45.8,467.7 52.5,478.0 55.0,480.0C57.5,482.0 57.8,486.0 59.0,490.0C60.2,494.0 61.6,499.7 62.4,504.0C63.2,508.3 64.0,511.7 64.0,516.0C64.0,520.3 63.1,525.7 62.4,530.0C61.7,534.3 63.1,540.0 60.0,542.0C56.9,544.0 46.7,552.7 44.0,542.0C41.3,531.3 42.2,488.3 44.0,478.0Z" fill="#00008c"/><polygon points="70.0,340.0 120.0,340.0 120.0,420.0 40.0,470.0 40.0,520.0 20.0,520.0 20.0,420.0" fill="#f01010"/><path d="M96.0,326.0C99.3,324.3 111.0,324.0 114.0,326.0C117.0,328.0 114.7,334.3 114.0,338.0C113.3,341.7 112.3,347.0 110.0,348.0C107.7,349.0 102.7,346.0 100.0,344.0C97.3,342.0 94.7,339.0 94.0,336.0C93.3,333.0 92.7,327.7 96.0,326.0Z" fill="#b80000"/><path d="M78.0,345.0C79.8,344.0 85.7,343.8 90.0,344.0C94.3,344.2 100.3,345.2 104.0,346.0C107.7,346.8 110.8,347.0 112.0,349.0C113.2,351.0 111.3,354.5 111.0,358.0C110.7,361.5 110.5,366.3 110.0,370.0C109.5,373.7 109.0,377.2 108.0,380.0C107.0,382.8 105.7,385.7 104.0,387.0C102.3,388.3 99.8,389.5 98.0,388.0C96.2,386.5 94.3,381.7 93.0,378.0C91.7,374.3 91.5,369.7 90.0,366.0C88.5,362.3 85.8,358.7 84.0,356.0C82.2,353.3 80.0,351.8 79.0,350.0C78.0,348.2 76.2,346.0 78.0,345.0Z" fill="#ec7840"/><path d="M88.0,360.0C89.8,357.8 96.3,354.2 100.0,354.0C103.7,353.8 108.3,356.7 110.0,359.0C111.7,361.3 111.4,365.7 110.4,368.0C109.4,370.3 106.7,372.3 104.0,373.0C101.3,373.7 96.5,373.0 94.0,372.0C91.5,371.0 90.0,369.0 89.0,367.0C88.0,365.0 86.2,362.2 88.0,360.0Z" fill="#ffc890"/><path d="M105.0,362.0C105.0,362.8 104.7,363.7 104.3,364.4C103.9,365.1 103.2,365.8 102.4,366.3C101.6,366.8 100.5,367.2 99.6,367.4C98.6,367.5 97.4,367.5 96.4,367.4C95.5,367.2 94.4,366.8 93.6,366.3C92.8,365.8 92.1,365.1 91.7,364.4C91.3,363.7 91.0,362.8 91.0,362.0C91.0,361.2 91.3,360.3 91.7,359.6C92.1,358.9 92.8,358.2 93.6,357.7C94.4,357.2 95.5,356.8 96.4,356.6C97.4,356.5 98.6,356.5 99.6,356.6C100.5,356.8 101.6,357.2 102.4,357.7C103.2,358.2 103.9,358.9 104.3,359.6C104.7,360.3 105.0,361.2 105.0,362.0Z" fill="#ffff60"/><path d="M100.5,361.0C100.5,361.4 100.4,361.8 100.2,362.1C99.9,362.4 99.6,362.7 99.2,363.0C98.8,363.2 98.3,363.4 97.8,363.4C97.3,363.5 96.7,363.5 96.2,363.4C95.7,363.4 95.2,363.2 94.8,363.0C94.4,362.7 94.1,362.4 93.8,362.1C93.6,361.8 93.5,361.4 93.5,361.0C93.5,360.6 93.6,360.2 93.8,359.9C94.1,359.6 94.4,359.3 94.8,359.0C95.2,358.8 95.7,358.6 96.2,358.6C96.7,358.5 97.3,358.5 97.8,358.6C98.3,358.6 98.8,358.8 99.2,359.0C99.6,359.3 99.9,359.6 100.2,359.9C100.4,360.2 100.5,360.6 100.5,361.0Z" fill="#ffffc0"/><path d="M86.0,415.0C88.0,413.8 90.6,410.5 92.0,411.0C93.4,411.5 94.2,415.5 94.4,418.0C94.6,420.5 93.7,423.3 93.0,426.0C92.3,428.7 91.2,431.3 90.0,434.0C88.8,436.7 87.7,439.3 86.0,442.0C84.3,444.7 82.0,448.3 80.0,450.0C78.0,451.7 76.2,452.0 74.0,452.0C71.8,452.0 68.5,451.7 67.0,450.0C65.5,448.3 65.0,445.3 65.0,442.0C65.0,438.7 65.5,433.3 67.0,430.0C68.5,426.7 71.8,424.0 74.0,422.0C76.2,420.0 78.0,419.2 80.0,418.0C82.0,416.8 84.0,416.2 86.0,415.0Z" fill="#ec7840"/><path d="M66.4,429.0C67.1,426.5 70.0,425.8 71.0,427.0C72.0,428.2 72.4,433.3 72.4,436.0C72.4,438.7 71.9,442.0 71.0,443.0C70.1,444.0 67.8,444.3 67.0,442.0C66.2,439.7 65.7,431.5 66.4,429.0Z" fill="#ffc890"/><path d="M79.2,443.0C79.2,443.3 79.1,443.7 79.0,444.0C78.8,444.2 78.6,444.5 78.4,444.7C78.1,444.9 77.8,445.1 77.5,445.1C77.2,445.2 76.8,445.2 76.5,445.1C76.2,445.1 75.9,444.9 75.6,444.7C75.4,444.5 75.2,444.2 75.0,444.0C74.9,443.7 74.8,443.3 74.8,443.0C74.8,442.7 74.9,442.3 75.0,442.0C75.2,441.8 75.4,441.5 75.6,441.3C75.9,441.1 76.2,440.9 76.5,440.9C76.8,440.8 77.2,440.8 77.5,440.9C77.8,440.9 78.1,441.1 78.4,441.3C78.6,441.5 78.8,441.8 79.0,442.0C79.1,442.3 79.2,442.7 79.2,443.0Z" fill="#ffffff" stroke="#ffffff" stroke-width="6.4" stroke-linejoin="round"/><path d="M79.2,443.0C79.2,443.3 79.1,443.7 79.0,444.0C78.8,444.2 78.6,444.5 78.4,444.7C78.1,444.9 77.8,445.1 77.5,445.1C77.2,445.2 76.8,445.2 76.5,445.1C76.2,445.1 75.9,444.9 75.6,444.7C75.4,444.5 75.2,444.2 75.0,444.0C74.9,443.7 74.8,443.3 74.8,443.0C74.8,442.7 74.9,442.3 75.0,442.0C75.2,441.8 75.4,441.5 75.6,441.3C75.9,441.1 76.2,440.9 76.5,440.9C76.8,440.8 77.2,440.8 77.5,440.9C77.8,440.9 78.1,441.1 78.4,441.3C78.6,441.5 78.8,441.8 79.0,442.0C79.1,442.3 79.2,442.7 79.2,443.0Z" fill="#34c83c"/><path d="M60.0,452.0C62.0,449.8 66.7,447.7 70.0,447.0C73.3,446.3 77.3,447.5 80.0,448.0C82.7,448.5 85.0,448.0 86.0,450.0C87.0,452.0 90.7,458.3 86.0,460.0C81.3,461.7 62.3,461.3 58.0,460.0C53.7,458.7 58.0,454.2 60.0,452.0Z" fill="#f01010"/><rect x="0" y="50" width="340" height="600" fill="url(#tx1)" opacity="0.4"/><path d="M55.8,94.3 L58.7,99.7 L59.4,106.0 L57.7,112.7 L59.8,116.8 L51.3,118.0 L47.7,114.3 L43.7,119.0 L40.4,124.7 L40.8,129.7 L42.4,136.0 L44.8,141.0 L43.8,146.0 L45.8,151.3 L46.4,156.0 L42.4,161.0 L39.1,164.7 L39.6,168.0M93.0,78.5 L89.8,84.3 L86.0,94.7 L86.9,103.0 L86.0,111.3 L88.5,118.0 L92.5,114.3 L95.7,108.0 L97.8,104.7M97.8,104.7 L104.3,103.5 L112.4,101.0 L118.9,97.7 L125.3,94.0 L128.9,93.0M97.8,104.7 L100.3,111.0 L104.3,117.7 L110.8,122.7 L117.3,126.0 L123.7,126.0M128.9,93.0 L131.8,101.0 L134.2,106.0 L131.8,112.7 L128.6,119.3 L125.3,124.3 L123.7,126.0M123.7,126.0 L120.5,126.8 L114.8,127.7 L114.0,134.3 L110.8,141.0 L104.3,147.7 L97.8,154.3 L93.0,159.3 L89.0,164.3 L88.1,168.0M125.3,124.3 L126.2,129.3 L127.0,136.0 L130.2,139.3 L131.8,146.0 L128.6,152.7 L127.0,156.0 L136.7,156.0 L144.8,154.3 L149.6,149.3 L152.8,144.3 L155.3,142.7M88.5,118.0 L87.7,126.0 L86.5,133.5 L83.3,131.3 L79.2,133.0 L74.4,136.8 L68.7,139.3 L63.1,142.7 L63.9,149.3 L66.3,156.0 L67.9,162.7 L67.1,168.0M86.5,133.5 L84.9,139.3 L78.4,144.3 L76.8,151.0 L78.4,159.3 L80.1,168.0M127.0,156.0 L120.5,159.3 L114.0,164.3 L110.8,168.0M63.1,176.7 L70.4,174.2 L75.2,177.5 L83.3,180.0 L84.9,186.7 L88.1,191.7 L91.4,198.7 L97.8,205.0 L102.7,205.8 L106.7,203.7M91.4,198.7 L84.9,204.2 L83.3,210.0 L76.8,213.7 L74.4,215.0 L75.2,223.3 L76.8,230.0 L78.4,235.0 L88.1,235.0 L97.8,235.8 L102.7,236.7M78.4,235.0 L79.2,240.0 L76.8,250.0 L75.2,260.0 L74.4,266.7M79.2,240.0 L84.9,243.3 L91.4,247.5 L97.8,243.3 L101.1,244.2M59.0,245.0 L63.9,251.7 L68.7,256.7 L73.6,260.8M39.6,166.7 L43.7,171.7 L47.7,174.2 L50.1,182.5 L55.8,181.7 L56.6,175.0 L55.8,166.7 L59.0,165.0 L60.7,170.0 L63.1,176.7M91.4,165.8 L95.4,165.0 L104.3,166.7 L108.4,165.0M91.4,165.8 L90.6,173.3 L91.4,181.7 L86.5,186.7 L88.1,191.7M108.4,165.0 L109.2,173.3 L110.8,181.7 L112.4,187.5 L107.6,193.3 L106.7,203.7M110.8,185.0 L120.5,181.7 L130.2,178.3 L136.7,175.0 L143.1,174.2 L144.8,175.0 L149.6,170.0 L148.0,165.0 L149.6,160.0M144.8,175.0 L146.4,178.3 L151.2,182.5 L149.6,190.0 L148.8,198.3 L146.4,203.3 L144.8,208.3 L136.7,218.3 L135.9,223.3 L135.0,230.8M106.7,203.7 L110.8,206.7 L112.4,211.7 L120.5,210.0 L131.8,209.2 L135.0,215.0 L136.7,218.3M112.4,211.7 L111.6,218.3 L114.0,225.0 L115.6,231.7 L110.8,233.3 L102.7,236.7M115.6,231.7 L123.7,231.7 L135.0,230.8 L139.9,231.7 L140.7,238.3 L141.5,246.7 L139.9,250.8 L135.0,255.0 L130.2,260.0 L123.7,263.3 L120.5,266.7M149.6,190.0 L156.1,190.8 L162.5,192.5 L169.0,194.2 L172.2,195.0M139.9,250.8 L146.4,253.3 L152.8,255.8 L159.3,255.0 L162.5,253.3 L163.4,243.3 L162.5,233.3 L163.4,223.3 L165.0,213.3 L167.4,208.3 L172.2,205.0M102.7,236.7 L109.2,243.3 L110.8,250.0 L114.0,255.0 L120.5,260.0 L123.7,263.3M101.1,261.7 L104.3,258.3 L110.8,257.5 L114.0,255.0M101.1,261.7 L102.7,266.7 L107.6,270.0 L114.0,269.2 L120.5,266.7 L127.0,266.7 L130.2,272.0M162.5,253.3 L163.4,260.0 L164.2,266.7 L165.0,272.0M188.4,149.2 L187.6,158.3 L186.8,167.5 L189.2,170.8 L186.8,177.5 L185.2,180.0 L187.6,188.3 L186.8,196.7 L183.6,200.0 L177.1,201.7 L175.5,196.7 L172.2,193.3 L167.4,191.7 L162.5,191.7M188.4,155.0 L194.9,156.7 L201.4,163.3 L206.2,169.2 L211.1,170.8 L215.9,168.3 L219.1,162.5 L225.6,161.7 L230.5,160.8 L233.7,163.3 L236.9,168.3 L235.3,173.3 L233.7,180.0 L233.7,183.3M236.9,168.3 L238.6,160.0 L241.8,155.0 L246.6,157.5 L251.5,161.7 L258.0,164.2 L261.2,166.7 L264.4,160.0 L266.1,156.7M261.2,166.7 L262.8,173.3 L262.0,178.3 L267.7,179.2 L274.9,178.3 L275.8,185.0 L274.1,191.7 L270.9,196.7 L264.4,199.2 L258.0,201.7 L253.1,196.7 L248.3,193.3 L243.4,190.0 L238.6,186.7 L233.7,183.3M233.7,183.3 L232.1,190.0 L227.2,195.0 L228.9,203.3 L228.0,210.0 L228.9,216.7 L235.3,220.0 L240.2,225.0 L246.6,223.3 L249.9,218.3 L254.7,215.0 L262.8,215.0 L269.3,215.0 L272.5,218.3M264.4,199.2 L267.7,205.0 L269.3,211.7 L269.3,215.0M272.5,218.3 L279.0,220.8 L285.5,223.3 L291.9,224.2 L296.8,223.3M227.2,195.0 L219.1,200.0 L211.1,200.8 L201.4,199.2 L193.3,198.3 L186.8,196.7M177.1,201.7 L178.7,205.0 L186.8,208.3 L194.9,212.5 L201.4,215.0 L202.2,221.7 L199.7,228.3 L197.3,235.0 L196.5,242.0M228.0,210.0 L224.0,213.3 L219.1,218.3 L217.5,225.0 L219.1,231.7 L219.1,242.0M240.2,225.0 L239.4,231.7 L240.2,242.0M272.5,218.3 L267.7,225.0 L262.8,230.0 L261.2,236.7 L262.0,242.0M279.0,220.8 L275.8,230.0 L274.1,236.7 L274.1,242.0M296.8,223.3 L296.0,230.0 L295.2,236.7 L296.0,242.0M177.1,201.7 L172.2,206.7 L167.4,208.3 L165.8,213.3 L164.2,220.0 L162.5,223.3M162.5,255.8 L172.2,253.3 L182.0,251.7 L186.8,248.3 L190.0,243.3 L196.5,240.0 L198.9,236.7 L197.3,230.0M198.9,236.7 L198.9,240.8 L207.8,242.5 L215.9,241.7 L219.1,236.7 L220.0,230.0M215.9,241.7 L218.3,246.7 L223.2,251.7 L221.6,258.3 L217.5,263.3 L209.4,270.0 L204.6,273.3 L201.4,280.0 L200.5,283.3 L204.6,286.7 L207.0,291.7 L209.4,294.2 L203.0,298.3 L194.9,300.8 L188.4,301.7M223.2,251.7 L230.5,255.0 L238.6,256.7 L241.0,255.0M219.1,236.7 L224.0,243.3 L227.2,250.0 L230.5,255.0M241.0,255.0 L240.2,263.3 L238.6,271.7 L233.7,276.7 L231.3,283.3 L232.1,291.7 L231.3,294.2M241.0,255.0 L246.6,251.7 L256.3,252.5 L261.2,251.7 L263.6,248.3 L266.1,243.3 L262.8,236.7 L264.4,230.0M261.2,251.7 L259.6,260.0 L258.0,266.7 L257.2,273.3 L260.4,280.0 L262.0,286.7 L262.0,293.3M263.6,248.3 L269.3,253.3 L275.8,256.7 L282.2,260.0 L287.1,260.8 L285.5,266.7 L288.7,273.3 L291.1,280.0 L291.1,286.7 L291.9,291.7M275.8,256.7 L274.1,251.7 L277.4,245.0 L282.2,241.7 L287.1,245.8 L291.9,248.3 L295.2,240.0 L296.8,235.0 L296.8,230.0M277.4,245.0 L275.8,238.3 L279.0,230.0M188.4,301.7 L183.6,305.0 L182.8,310.0 L183.6,316.7 L182.0,323.3 L185.2,330.0 L186.8,333.3 L193.3,332.5 L198.1,330.0 L198.9,323.3M162.5,291.7 L169.0,290.8 L172.2,295.0 L178.7,294.2 L183.6,291.7 L186.8,296.7 L188.4,301.7M178.7,313.3 L180.3,320.0 L182.0,323.3M185.2,330.0 L182.0,335.0 L177.1,336.7 L172.2,342.0M162.5,320.0 L169.0,323.3 L173.9,328.3 L177.1,336.7M86.5,266.7 L94.6,269.2 L101.1,270.0 L110.8,270.8 L117.3,271.7 L122.1,266.7 L125.3,265.0 L127.0,268.3 L128.6,275.0 L130.2,280.0 L134.2,283.3M101.1,270.0 L101.9,263.3 L105.9,258.3 L114.0,257.5 L117.3,253.3 L122.1,250.0M104.3,281.7 L105.1,291.7 L104.3,300.0 L106.7,305.0 L114.0,303.3 L120.5,300.0 L122.1,295.0 L121.3,286.7 L120.5,278.3 L117.3,271.7M73.6,300.0 L78.4,306.7 L80.1,315.8 L86.5,314.2 L94.6,313.3 L101.1,311.7 L106.7,305.0M106.7,305.0 L108.4,311.7 L112.4,316.7 L117.3,318.3 L122.1,316.7 L123.7,311.7 L122.9,305.0 L122.1,300.0M80.1,315.8 L80.9,325.0 L80.1,333.3 L86.5,336.7 L94.6,335.0 L101.1,331.7 L106.7,333.3 L110.0,330.0 L107.6,325.0 L110.8,321.7 L112.4,316.7M80.1,333.3 L78.4,340.0 L80.9,348.3 L84.9,355.0 L88.1,360.0 L89.8,362.0M106.7,333.3 L112.4,336.7 L113.2,343.3 L110.8,351.7 L109.2,358.3M134.2,283.3 L139.9,281.7 L143.1,288.3 L145.6,296.7 L146.4,303.0M134.2,283.3 L130.2,290.0 L127.0,296.7 L125.3,303.3M127.0,268.3 L133.4,261.7 L139.9,253.3 L143.1,250.0M143.1,250.0 L151.2,253.3 L159.3,251.7 L162.5,256.7 L162.5,266.7 L165.0,270.0 L159.3,276.7 L156.1,283.3 L157.7,288.3 L149.6,293.3 L145.6,296.7M157.7,288.3 L165.8,291.7 L170.6,290.0 L177.1,295.0 L183.6,293.3 L188.4,301.7 L185.2,305.0 L183.6,311.7M165.0,270.0 L172.2,266.7 L180.3,268.3 L188.4,265.0 L198.1,268.3 L204.6,271.7 L207.8,270.0 L211.1,270.8M188.4,301.7 L194.9,300.0 L201.4,298.3 L207.8,296.7 L211.1,295.0M204.6,271.7 L201.4,281.7 L206.2,288.3 L207.8,296.7M183.6,311.7 L183.6,320.0 L185.2,328.3 L180.3,333.3 L175.5,336.7 L172.2,333.3 L165.8,325.0 L159.3,321.7M185.2,328.3 L191.7,333.3 L198.1,330.0 L201.4,336.7 L206.2,348.3 L207.8,356.7M175.5,336.7 L177.1,345.0 L180.3,353.3 L182.0,362.0M175.5,336.7 L169.0,340.0 L162.5,342.5 L156.1,340.8 L151.2,343.3 L149.6,350.0 L146.4,355.0M146.4,303.0 L145.6,308.3 L144.8,315.0M125.3,303.3 L123.7,307.5 L125.3,313.3 L130.2,316.7 L136.7,318.3 L143.1,317.5 L146.4,321.7 L144.8,325.0M117.3,318.3 L122.1,323.3 L127.0,321.7 L130.2,316.7M90.6,359.2 L97.8,358.3 L104.3,358.7 L109.2,358.3M80.1,418.3 L86.5,420.0 L92.2,419.2M70.4,426.7 L71.2,433.3 L70.4,440.0 L72.0,446.7 L71.2,452.0M62.3,450.0 L64.7,456.7 L63.1,463.3 L63.9,468.3 L59.8,475.0 L57.4,481.7 L55.0,488.3 L54.2,496.7 L57.4,501.7 L58.2,505.0M63.9,468.3 L70.4,465.8 L76.8,466.7 L81.7,471.7M58.2,505.0 L63.9,505.8 L68.7,506.7 L72.0,511.7 L75.2,515.8 L83.3,518.3 L84.1,513.3 L84.9,508.3M84.9,508.3 L89.8,503.3 L94.6,498.3 L97.0,495.0 L101.1,491.7 L101.9,485.0 L102.7,481.7M83.3,518.3 L86.5,523.3 L85.7,528.3 L89.0,531.7 L94.6,533.3 L99.5,531.7 L102.7,535.0 L109.2,534.2 L115.6,535.0 L120.5,533.3 L123.7,531.7M89.0,531.7 L86.5,536.7 L88.1,543.3 L91.4,550.0 L94.6,556.7 L97.8,562.0M99.5,531.7 L101.1,538.3 L103.5,546.7 L105.9,555.0 L107.6,562.0M115.6,535.0 L118.9,543.3 L122.1,550.0 L117.3,556.7 L114.0,562.0M58.2,505.0 L60.7,510.0 L62.3,516.7 L65.5,523.3 L70.4,528.3M101.1,535.0 L104.3,543.3 L107.6,553.3 L110.8,561.7 L113.2,565.0 L118.9,561.7 L123.7,558.3 L128.6,555.0M113.2,565.0 L115.6,570.0 L118.9,574.2 L120.5,576.7M148.0,573.3 L149.6,578.3 L152.8,580.8 L156.1,581.7 L162.5,584.2 L169.0,583.3 L175.5,581.7M162.5,584.2 L163.4,591.7 L164.2,598.3 L167.4,605.0 L169.0,610.0M99.5,565.0 L104.3,565.8 L109.2,564.2 L113.2,565.0" fill="none" stroke="#000" stroke-width="1.25" stroke-linejoin="round"/></g><polygon points="91.3,66.8 95.8,70.7 100.0,69.0 105.0,66.0 109.2,64.3 114.2,66.8 116.7,71.8 120.0,68.0 124.2,66.8 128.3,70.7 129.7,75.7 133.3,76.8 131.7,81.0 129.7,85.7 128.3,90.2 126.7,92.7 129.7,96.0 131.7,100.2 136.7,99.0 141.7,97.3 146.7,95.7 152.5,95.7 158.3,96.8 157.5,103.5 159.2,109.3 161.0,115.0 159.2,120.0 158.3,125.0 157.5,130.8 155.8,134.2 152.5,137.5 150.8,140.8 153.3,143.3 155.4,144.2 154.6,148.3 155.0,153.3 152.9,157.5 149.2,160.8 148.3,165.0 148.3,170.0 148.8,173.3 152.5,175.4 155.0,174.2 159.2,170.0 164.2,166.7 170.0,161.7 175.0,159.6 177.5,154.2 180.0,155.0 183.3,153.3 188.3,148.8 191.7,148.8 195.0,153.3 200.0,155.8 203.3,159.5 208.3,162.0 210.0,159.5 216.7,158.7 223.3,157.0 226.7,153.7 230.0,147.8 232.5,144.5 234.2,140.7 240.0,140.3 246.7,141.7 250.8,144.5 260.0,144.5 262.5,147.8 265.8,153.7 270.0,159.5 275.0,165.3 280.0,170.3 285.8,173.7 290.0,177.8 290.8,183.7 289.2,190.3 287.5,198.7 288.3,205.3 290.8,212.0 293.3,218.7 297.5,223.3 298.3,227.5 305.0,229.2 312.5,230.8 313.3,235.8 319.2,240.8 321.3,245.0 320.0,250.0 317.5,255.0 316.7,260.0 318.3,265.0 320.0,270.0 317.5,275.0 318.3,281.7 316.7,288.3 310.0,292.5 305.0,295.8 300.0,298.3 296.7,295.0 291.7,290.8 285.0,291.3 276.7,291.7 268.3,292.5 261.7,293.3 255.0,291.7 248.3,291.3 241.7,290.8 233.3,291.7 228.3,294.2 224.2,298.3 220.0,304.2 216.7,309.2 213.3,313.3 208.3,317.5 206.7,320.0 201.7,322.5 199.2,325.8 199.2,331.7 201.7,336.7 204.2,341.7 205.0,348.3 206.7,354.2 210.8,359.2 215.0,364.2 213.3,368.3 210.8,373.3 208.3,376.7 206.7,373.3 205.0,375.8 202.5,371.7 198.3,368.3 193.3,365.8 188.3,362.5 183.3,359.2 179.2,355.8 175.8,355.0 170.0,356.7 165.0,358.3 163.3,360.0 158.3,357.5 153.3,355.8 148.3,355.0 146.7,356.7 146.7,361.7 145.8,355.8 142.5,355.0 140.0,354.7 144.2,352.5 145.0,346.7 144.2,341.7 145.0,336.7 145.8,331.7 146.7,327.5 145.0,325.0 140.0,325.3 133.3,324.2 128.3,323.3 123.3,325.0 116.7,326.7 111.7,329.2 108.3,331.7 109.2,334.2 113.3,337.5 114.2,341.7 112.5,346.7 110.8,351.7 110.0,356.7 110.8,363.3 111.7,370.0 111.3,373.0 108.3,379.7 105.0,384.7 103.3,388.8 100.0,394.7 97.5,399.7 95.0,405.5 93.3,411.3 92.5,418.0 93.3,423.0 90.0,427.2 86.7,432.2 83.3,437.2 85.8,440.5 82.5,444.7 79.2,449.7 78.3,454.7 80.0,461.3 81.7,468.0 83.3,474.7 83.3,477.0 86.7,482.0 93.3,482.8 100.0,482.0 105.0,482.8 106.7,488.7 107.5,495.3 109.2,502.0 111.7,507.8 116.7,512.0 120.0,517.0 121.7,523.7 123.3,530.3 125.0,537.0 126.7,543.7 127.5,546.7 130.0,553.3 133.3,560.0 136.7,565.0 141.7,569.2 146.7,571.7 153.3,571.7 160.0,571.7 166.7,573.3 170.0,575.8 173.3,581.7 176.7,585.0 180.8,589.2 185.0,592.5 189.2,595.8 188.3,600.8 185.0,605.0 183.3,610.0 178.3,614.2 173.3,612.5 169.2,609.2 163.3,610.8 157.5,615.0 153.3,620.0 148.3,614.2 148.3,610.0 151.7,606.7 152.5,601.7 150.8,596.7 146.7,595.0 143.3,595.8 141.7,591.7 138.3,588.3 133.3,587.5 128.3,585.8 123.3,583.3 119.2,579.2 118.3,585.0 116.7,589.2 115.0,586.7 111.7,581.7 107.5,577.5 103.3,573.3 100.0,569.2 97.5,563.3 94.2,557.5 90.0,551.7 85.0,546.7 80.0,545.3 76.7,542.0 74.2,536.2 70.8,531.2 67.5,527.8 63.3,523.7 60.8,518.7 59.2,513.7 56.7,517.0 53.3,520.3 50.0,522.0 47.5,518.7 45.8,512.0 45.0,505.3 46.3,498.7 45.8,492.0 46.7,485.3 49.2,478.7 51.7,472.0 55.8,467.2 58.3,461.3 59.2,455.5 61.7,449.7 63.7,443.8 65.3,438.0 65.8,432.2 67.5,427.2 71.7,424.7 75.0,419.7 80.0,417.2 82.5,412.2 85.8,406.3 89.2,401.3 91.7,396.3 95.8,391.3 98.3,386.3 96.7,382.2 94.2,378.0 91.7,374.7 90.0,368.0 90.0,362.3 87.5,357.3 83.3,352.3 80.8,345.7 78.3,340.7 79.7,336.5 81.7,332.3 81.3,325.7 80.0,319.0 78.3,312.3 75.0,307.3 70.0,301.5 63.3,295.7 57.5,290.7 53.3,284.0 48.3,277.3 45.8,270.7 43.7,264.0 45.0,260.0 48.3,256.7 53.3,255.8 56.7,253.3 58.3,248.3 56.7,243.3 57.5,238.3 59.2,233.3 57.5,229.2 61.7,227.5 65.8,225.8 69.2,223.3 70.0,219.2 68.3,216.7 65.8,218.3 62.5,220.0 60.8,216.7 58.3,211.7 55.8,207.5 55.0,200.8 52.5,195.8 49.2,191.7 45.0,186.7 41.7,182.5 39.2,177.5 35.8,173.3 30.8,169.2 27.5,165.8 25.0,160.0 25.8,157.7 22.5,151.8 16.7,146.0 15.0,139.3 12.5,134.3 16.7,137.7 23.3,132.7 26.7,127.7 25.0,123.5 25.8,120.2 27.5,115.2 30.8,109.3 30.8,104.3 31.7,99.0 37.0,95.2 38.0,91.8 40.0,89.3 45.0,91.8 54.2,93.0 57.5,95.2 65.8,90.7 70.8,91.3 75.8,88.5 75.3,81.0 78.3,78.2 85.0,79.3 90.8,78.5 94.2,76.8 92.7,71.8" fill="none" stroke="#000" stroke-width="1.55" stroke-linejoin="round"/><polygon points="47.5,524 53,523.5 54,532 51.5,539.5 48,538.5 46.8,531" fill="#00008c" stroke="#000" stroke-width="1" stroke-linejoin="round"/><polygon points="110.5,473.5 112.5,471.5 115,473 114.5,477 112,478.5 110.5,476.5" fill="#f01010" stroke="#000" stroke-width="1" stroke-linejoin="round"/><polygon points="97,577.5 99.7,579.2 100,585 97.5,586.7 95.8,582.5" fill="#00008c" stroke="#000" stroke-width="1" stroke-linejoin="round"/><polygon points="53,457.5 56,460 57.2,468 55,475.5 52,474 51,466" fill="#000"/><polygon points="46.5,489 50.5,490 51,498 48,499.5 46,495" fill="#000"/><polygon points="78.5,585 83,583 88,584.2 86,586.5 82,587.8" fill="#000"/><polygon points="30.5,475.5 32.8,476.2 32,478.5 30.2,478" fill="#000"/><polygon points="28.5,490.3 30,490.3 30,492 28.5,492" fill="#000"/><polygon points="22.4,505.5 23.6,505.5 23.6,511.5 22.4,511.5" fill="#000"/><polygon points="49.2,544.5 51,544.5 51,546.2 49.2,546.2" fill="#000"/><polygon points="64,539 66,539 66,541.5 64,541.5" fill="#000"/><polygon points="75,558.5 76.6,558.5 76.6,560.5 75,560.5" fill="#000"/><polygon points="104.3,451 105.8,451 105.8,453 104.3,453" fill="#000"/><polygon points="98.5,469 99.6,469 99.6,473 98.5,473" fill="#000"/><polygon points="59.5,515 61,514 62.5,519 61,521" fill="#000"/><polygon points="64,523.5 66,523 67,527 65,528" fill="#000"/><polygon points="70,532.5 72,532 73.5,538 71.5,538.5" fill="#000"/><polygon points="76,542.5 77.5,542 79,546 77.5,547" fill="#000"/><polygon points="83,549.5 85,549 86.5,553 84.5,554" fill="#000"/><polygon points="91,557.5 92.5,557 94,562 92.5,563" fill="#000"/><polygon points="96.5,565.5 98,565 99.5,570 98,571" fill="#000"/><polygon points="65,543 66.5,543 66.5,545 65,545" fill="#000"/><polygon points="79.5,584 81,584 81,585.5 79.5,585.5" fill="#000"/><polygon points="139,353 141,352.5 141.5,355.5 139.5,356" fill="#000"/><polygon points="137.5,347.5 139,347.5 139,349 137.5,349" fill="#000"/><circle cx="111.7" cy="464.7" r="1.4" fill="none" stroke="#000" stroke-width="0.9"/><path d="M196,374 L198,380 L201,386 L203.5,392 M203,384 L206,390 L207,396 L205.5,397 M199.5,388 L201.5,394" fill="none" stroke="#000" stroke-width="1.1"/><path d="M210.8,373.3 L213,378 L215,384 L217,388 L219,392" fill="none" stroke="#000" stroke-width="1.3"/><rect x="217" y="388.8" width="2.6" height="2.6" fill="none" stroke="#f00" stroke-width="0.9"/><path d="M100.7,79.0h12M23.6,103.5h12M67.3,123.1h12M68.4,131.3h12M101.9,110.6h12M133.6,124.0h12M87.0,142.3h12M111.6,146.5h12M27.6,146.5h12M68.1,180.3h12M73.2,194.5h12M51.1,203.0h12M87.0,209.1h12M108.8,167.1h12M99.9,183.3h12M114.5,197.5h12M111.7,234.5h12M147.3,212.1h12M206.2,157.8h12M208.8,176.1h12M169.5,172.8h12M258.8,184.1h12M280.3,208.0h12M210.2,212.0h12M241.9,225.3h12M180.3,234.5h12M180.3,234.1h12M182.1,266.1h12M236.1,269.1h12M286.3,255.3h12M201.3,313.0h12M127.9,272.1h12M109.6,284.6h12M87.0,301.1h12M127.9,305.3h12M126.6,313.0h12M156.5,300.0h12M182.1,266.1h12M201.0,313.3h12M129.9,325.5h12M141.5,325.5h12M107.7,333.6h12M134.7,333.3h12M137.1,337.1h12M137.6,343.0h12M141.5,351.1h12M155.4,354.1h12M183.2,354.1h12M102.4,355.3h12M102.7,355.0h12M97.8,384.1h12M75.2,434.1h12M53.4,452.5h12M40.6,494.5h12M73.2,484.5h12M81.0,485.3h12M99.6,480.3h12M106.7,471.6h12M103.7,508.6h12M64.4,524.1h12M42.5,522.1h12M45.3,531.3h12M70.3,544.5h12M90.7,544.5h12M127.8,555.8h12M70.3,544.1h12M91.0,544.5h12M127.8,555.8h12M121.0,567.0h12M147.3,572.5h12M108.0,577.1h12M172.4,585.3h12" stroke="#201020" stroke-width="1.3" stroke-dasharray="1.6 0.9 0.8 0.7 2.2 0.8" fill="none" opacity="0.55"/><rect x="105.4" y="81.9" width="2.6" height="2.6" fill="none" stroke="#ff0000" stroke-width="0.95"/><rect x="101.4" y="85.9" width="2.6" height="2.6" fill="none" stroke="#008800" stroke-width="0.95"/><rect x="28.3" y="106.4" width="2.6" height="2.6" fill="none" stroke="#ff0000" stroke-width="0.95"/><rect x="72.0" y="126.0" width="2.6" height="2.6" fill="none" stroke="#ff0000" stroke-width="0.95"/><rect x="73.1" y="134.2" width="2.6" height="2.6" fill="none" stroke="#ff0000" stroke-width="0.95"/><rect x="106.6" y="113.5" width="2.6" height="2.6" fill="none" stroke="#ff0000" stroke-width="0.95"/><rect x="139.4" y="113.5" width="2.6" height="2.6" fill="none" stroke="#0000ff" stroke-width="0.95"/><rect x="137.3" y="122.7" width="2.6" height="2.6" fill="none" stroke="#008800" stroke-width="0.95"/><rect x="138.3" y="126.9" width="2.6" height="2.6" fill="none" stroke="#ff0000" stroke-width="0.95"/><rect x="83.0" y="143.0" width="2.6" height="2.6" fill="none" stroke="#008800" stroke-width="0.95"/><rect x="91.7" y="145.2" width="2.6" height="2.6" fill="none" stroke="#ff0000" stroke-width="0.95"/><rect x="116.3" y="149.4" width="2.6" height="2.6" fill="none" stroke="#ff0000" stroke-width="0.95"/><rect x="32.3" y="149.4" width="2.6" height="2.6" fill="none" stroke="#ff0000" stroke-width="0.95"/><rect x="72.8" y="183.2" width="2.6" height="2.6" fill="none" stroke="#ff0000" stroke-width="0.95"/><rect x="77.9" y="197.4" width="2.6" height="2.6" fill="none" stroke="#ff0000" stroke-width="0.95"/><rect x="68.7" y="201.7" width="2.6" height="2.6" fill="none" stroke="#008800" stroke-width="0.95"/><rect x="55.8" y="205.9" width="2.6" height="2.6" fill="none" stroke="#ff0000" stroke-width="0.95"/><rect x="91.7" y="212.0" width="2.6" height="2.6" fill="none" stroke="#ff0000" stroke-width="0.95"/><rect x="67.8" y="229.2" width="2.6" height="2.6" fill="none" stroke="#0000ff" stroke-width="0.95"/><rect x="113.5" y="170.0" width="2.6" height="2.6" fill="none" stroke="#ff0000" stroke-width="0.95"/><rect x="104.6" y="186.2" width="2.6" height="2.6" fill="none" stroke="#ff0000" stroke-width="0.95"/><rect x="119.2" y="200.4" width="2.6" height="2.6" fill="none" stroke="#ff0000" stroke-width="0.95"/><rect x="120.3" y="215.0" width="2.6" height="2.6" fill="none" stroke="#008800" stroke-width="0.95"/><rect x="116.4" y="237.4" width="2.6" height="2.6" fill="none" stroke="#ff0000" stroke-width="0.95"/><rect x="152.0" y="215.0" width="2.6" height="2.6" fill="none" stroke="#ff0000" stroke-width="0.95"/><rect x="156.1" y="201.7" width="2.6" height="2.6" fill="none" stroke="#0000ff" stroke-width="0.95"/><rect x="151.1" y="243.4" width="2.6" height="2.6" fill="none" stroke="#0000ff" stroke-width="0.95"/><rect x="154.0" y="258.2" width="2.6" height="2.6" fill="none" stroke="#0000ff" stroke-width="0.95"/><rect x="128.4" y="254.9" width="2.6" height="2.6" fill="none" stroke="#008800" stroke-width="0.95"/><rect x="116.4" y="262.0" width="2.6" height="2.6" fill="none" stroke="#008800" stroke-width="0.95"/><rect x="210.9" y="160.7" width="2.6" height="2.6" fill="none" stroke="#ff0000" stroke-width="0.95"/><rect x="213.5" y="179.0" width="2.6" height="2.6" fill="none" stroke="#ff0000" stroke-width="0.95"/><rect x="174.2" y="175.7" width="2.6" height="2.6" fill="none" stroke="#ff0000" stroke-width="0.95"/><rect x="174.2" y="178.2" width="2.6" height="2.6" fill="none" stroke="#008800" stroke-width="0.95"/><rect x="263.5" y="187.0" width="2.6" height="2.6" fill="none" stroke="#ff0000" stroke-width="0.95"/><rect x="260.2" y="187.9" width="2.6" height="2.6" fill="none" stroke="#008800" stroke-width="0.95"/><rect x="285.0" y="210.9" width="2.6" height="2.6" fill="none" stroke="#ff0000" stroke-width="0.95"/><rect x="214.9" y="214.9" width="2.6" height="2.6" fill="none" stroke="#ff0000" stroke-width="0.95"/><rect x="223.8" y="220.9" width="2.6" height="2.6" fill="none" stroke="#0000ff" stroke-width="0.95"/><rect x="214.9" y="225.9" width="2.6" height="2.6" fill="none" stroke="#008800" stroke-width="0.95"/><rect x="244.2" y="228.2" width="2.6" height="2.6" fill="none" stroke="#008800" stroke-width="0.95"/><rect x="246.6" y="228.2" width="2.6" height="2.6" fill="none" stroke="#ff0000" stroke-width="0.95"/><rect x="185.0" y="237.4" width="2.6" height="2.6" fill="none" stroke="#ff0000" stroke-width="0.95"/><rect x="185.0" y="237.0" width="2.6" height="2.6" fill="none" stroke="#ff0000" stroke-width="0.95"/><rect x="186.8" y="269.0" width="2.6" height="2.6" fill="none" stroke="#ff0000" stroke-width="0.95"/><rect x="190.7" y="278.2" width="2.6" height="2.6" fill="none" stroke="#0000ff" stroke-width="0.95"/><rect x="210.9" y="282.4" width="2.6" height="2.6" fill="none" stroke="#0000ff" stroke-width="0.95"/><rect x="246.5" y="255.9" width="2.6" height="2.6" fill="none" stroke="#0000ff" stroke-width="0.95"/><rect x="238.6" y="272.0" width="2.6" height="2.6" fill="none" stroke="#008800" stroke-width="0.95"/><rect x="240.8" y="272.0" width="2.6" height="2.6" fill="none" stroke="#ff0000" stroke-width="0.95"/><rect x="268.3" y="267.0" width="2.6" height="2.6" fill="none" stroke="#008800" stroke-width="0.95"/><rect x="291.0" y="258.2" width="2.6" height="2.6" fill="none" stroke="#ff0000" stroke-width="0.95"/><rect x="296.0" y="259.5" width="2.6" height="2.6" fill="none" stroke="#008800" stroke-width="0.95"/><rect x="173.0" y="305.9" width="2.6" height="2.6" fill="none" stroke="#0000ff" stroke-width="0.95"/><rect x="206.0" y="315.9" width="2.6" height="2.6" fill="none" stroke="#ff0000" stroke-width="0.95"/><rect x="58.9" y="277.4" width="2.6" height="2.6" fill="none" stroke="#0000ff" stroke-width="0.95"/><rect x="128.6" y="255.0" width="2.6" height="2.6" fill="none" stroke="#008800" stroke-width="0.95"/><rect x="154.0" y="257.9" width="2.6" height="2.6" fill="none" stroke="#0000ff" stroke-width="0.95"/><rect x="116.4" y="261.7" width="2.6" height="2.6" fill="none" stroke="#008800" stroke-width="0.95"/><rect x="132.6" y="275.0" width="2.6" height="2.6" fill="none" stroke="#ff0000" stroke-width="0.95"/><rect x="136.5" y="285.0" width="2.6" height="2.6" fill="none" stroke="#008800" stroke-width="0.95"/><rect x="114.3" y="287.5" width="2.6" height="2.6" fill="none" stroke="#ff0000" stroke-width="0.95"/><rect x="104.6" y="293.7" width="2.6" height="2.6" fill="none" stroke="#008800" stroke-width="0.95"/><rect x="91.7" y="304.0" width="2.6" height="2.6" fill="none" stroke="#ff0000" stroke-width="0.95"/><rect x="108.7" y="304.0" width="2.6" height="2.6" fill="none" stroke="#008800" stroke-width="0.95"/><rect x="132.6" y="308.2" width="2.6" height="2.6" fill="none" stroke="#ff0000" stroke-width="0.95"/><rect x="131.3" y="315.9" width="2.6" height="2.6" fill="none" stroke="#ff0000" stroke-width="0.95"/><rect x="161.2" y="302.9" width="2.6" height="2.6" fill="none" stroke="#ff0000" stroke-width="0.95"/><rect x="173.4" y="306.2" width="2.6" height="2.6" fill="none" stroke="#0000ff" stroke-width="0.95"/><rect x="186.8" y="269.0" width="2.6" height="2.6" fill="none" stroke="#ff0000" stroke-width="0.95"/><rect x="190.8" y="278.2" width="2.6" height="2.6" fill="none" stroke="#0000ff" stroke-width="0.95"/><rect x="205.7" y="316.2" width="2.6" height="2.6" fill="none" stroke="#ff0000" stroke-width="0.95"/><rect x="164.0" y="321.2" width="2.6" height="2.6" fill="none" stroke="#008800" stroke-width="0.95"/><rect x="134.6" y="328.4" width="2.6" height="2.6" fill="none" stroke="#ff0000" stroke-width="0.95"/><rect x="146.2" y="328.4" width="2.6" height="2.6" fill="none" stroke="#ff0000" stroke-width="0.95"/><rect x="112.4" y="336.5" width="2.6" height="2.6" fill="none" stroke="#ff0000" stroke-width="0.95"/><rect x="139.4" y="336.2" width="2.6" height="2.6" fill="none" stroke="#ff0000" stroke-width="0.95"/><rect x="141.8" y="340.0" width="2.6" height="2.6" fill="none" stroke="#ff0000" stroke-width="0.95"/><rect x="142.3" y="345.9" width="2.6" height="2.6" fill="none" stroke="#ff0000" stroke-width="0.95"/><rect x="146.2" y="354.0" width="2.6" height="2.6" fill="none" stroke="#ff0000" stroke-width="0.95"/><rect x="151.1" y="352.9" width="2.6" height="2.6" fill="none" stroke="#008800" stroke-width="0.95"/><rect x="160.1" y="357.0" width="2.6" height="2.6" fill="none" stroke="#ff0000" stroke-width="0.95"/><rect x="187.9" y="357.0" width="2.6" height="2.6" fill="none" stroke="#ff0000" stroke-width="0.95"/><rect x="107.1" y="358.2" width="2.6" height="2.6" fill="none" stroke="#ff0000" stroke-width="0.95"/><rect x="99.8" y="358.2" width="2.6" height="2.6" fill="none" stroke="#008800" stroke-width="0.95"/><rect x="107.4" y="357.9" width="2.6" height="2.6" fill="none" stroke="#ff0000" stroke-width="0.95"/><rect x="99.5" y="358.4" width="2.6" height="2.6" fill="none" stroke="#008800" stroke-width="0.95"/><rect x="102.5" y="387.0" width="2.6" height="2.6" fill="none" stroke="#ff0000" stroke-width="0.95"/><rect x="79.9" y="437.0" width="2.6" height="2.6" fill="none" stroke="#ff0000" stroke-width="0.95"/><rect x="58.1" y="455.4" width="2.6" height="2.6" fill="none" stroke="#ff0000" stroke-width="0.95"/><rect x="45.3" y="497.4" width="2.6" height="2.6" fill="none" stroke="#ff0000" stroke-width="0.95"/><rect x="77.9" y="487.4" width="2.6" height="2.6" fill="none" stroke="#ff0000" stroke-width="0.95"/><rect x="85.7" y="488.2" width="2.6" height="2.6" fill="none" stroke="#ff0000" stroke-width="0.95"/><rect x="95.7" y="488.2" width="2.6" height="2.6" fill="none" stroke="#008800" stroke-width="0.95"/><rect x="104.3" y="483.2" width="2.6" height="2.6" fill="none" stroke="#ff0000" stroke-width="0.95"/><rect x="111.4" y="474.5" width="2.6" height="2.6" fill="none" stroke="#ff0000" stroke-width="0.95"/><rect x="81.7" y="507.4" width="2.6" height="2.6" fill="none" stroke="#0000ff" stroke-width="0.95"/><rect x="91.7" y="513.7" width="2.6" height="2.6" fill="none" stroke="#0000ff" stroke-width="0.95"/><rect x="108.4" y="511.5" width="2.6" height="2.6" fill="none" stroke="#ff0000" stroke-width="0.95"/><rect x="112.2" y="525.0" width="2.6" height="2.6" fill="none" stroke="#008800" stroke-width="0.95"/><rect x="69.1" y="527.0" width="2.6" height="2.6" fill="none" stroke="#ff0000" stroke-width="0.95"/><rect x="47.2" y="525.0" width="2.6" height="2.6" fill="none" stroke="#ff0000" stroke-width="0.95"/><rect x="50.0" y="534.2" width="2.6" height="2.6" fill="none" stroke="#ff0000" stroke-width="0.95"/><rect x="75.0" y="547.4" width="2.6" height="2.6" fill="none" stroke="#ff0000" stroke-width="0.95"/><rect x="95.4" y="547.4" width="2.6" height="2.6" fill="none" stroke="#ff0000" stroke-width="0.95"/><rect x="132.5" y="558.7" width="2.6" height="2.6" fill="none" stroke="#ff0000" stroke-width="0.95"/><rect x="75.0" y="547.0" width="2.6" height="2.6" fill="none" stroke="#ff0000" stroke-width="0.95"/><rect x="95.7" y="547.4" width="2.6" height="2.6" fill="none" stroke="#ff0000" stroke-width="0.95"/><rect x="132.5" y="558.7" width="2.6" height="2.6" fill="none" stroke="#ff0000" stroke-width="0.95"/><rect x="125.7" y="569.9" width="2.6" height="2.6" fill="none" stroke="#ff0000" stroke-width="0.95"/><rect x="124.5" y="574.0" width="2.6" height="2.6" fill="none" stroke="#0000ff" stroke-width="0.95"/><rect x="152.0" y="575.4" width="2.6" height="2.6" fill="none" stroke="#ff0000" stroke-width="0.95"/><rect x="112.7" y="580.0" width="2.6" height="2.6" fill="none" stroke="#ff0000" stroke-width="0.95"/><rect x="177.1" y="588.2" width="2.6" height="2.6" fill="none" stroke="#ff0000" stroke-width="0.95"/></g></g>
<g clip-path="url(#frame2)"><g transform="translate(682.5,0) scale(1.0305,1)"><polygon points="91.3,66.8 95.8,70.7 100.0,69.0 105.0,66.0 109.2,64.3 114.2,66.8 116.7,71.8 120.0,68.0 124.2,66.8 128.3,70.7 129.7,75.7 133.3,76.8 131.7,81.0 129.7,85.7 128.3,90.2 126.7,92.7 129.7,96.0 131.7,100.2 136.7,99.0 141.7,97.3 146.7,95.7 152.5,95.7 158.3,96.8 157.5,103.5 159.2,109.3 161.0,115.0 159.2,120.0 158.3,125.0 157.5,130.8 155.8,134.2 152.5,137.5 150.8,140.8 153.3,143.3 155.4,144.2 154.6,148.3 155.0,153.3 152.9,157.5 149.2,160.8 148.3,165.0 148.3,170.0 148.8,173.3 152.5,175.4 155.0,174.2 159.2,170.0 164.2,166.7 170.0,161.7 175.0,159.6 177.5,154.2 180.0,155.0 183.3,153.3 188.3,148.8 191.7,148.8 195.0,153.3 200.0,155.8 203.3,159.5 208.3,162.0 210.0,159.5 216.7,158.7 223.3,157.0 226.7,153.7 230.0,147.8 232.5,144.5 234.2,140.7 240.0,140.3 246.7,141.7 250.8,144.5 260.0,144.5 262.5,147.8 265.8,153.7 270.0,159.5 275.0,165.3 280.0,170.3 285.8,173.7 290.0,177.8 290.8,183.7 289.2,190.3 287.5,198.7 288.3,205.3 290.8,212.0 293.3,218.7 297.5,223.3 298.3,227.5 305.0,229.2 312.5,230.8 313.3,235.8 319.2,240.8 321.3,245.0 320.0,250.0 317.5,255.0 316.7,260.0 318.3,265.0 320.0,270.0 317.5,275.0 318.3,281.7 316.7,288.3 310.0,292.5 305.0,295.8 300.0,298.3 296.7,295.0 291.7,290.8 285.0,291.3 276.7,291.7 268.3,292.5 261.7,293.3 255.0,291.7 248.3,291.3 241.7,290.8 233.3,291.7 228.3,294.2 224.2,298.3 220.0,304.2 216.7,309.2 213.3,313.3 208.3,317.5 206.7,320.0 201.7,322.5 199.2,325.8 199.2,331.7 201.7,336.7 204.2,341.7 205.0,348.3 206.7,354.2 210.8,359.2 215.0,364.2 213.3,368.3 210.8,373.3 208.3,376.7 206.7,373.3 205.0,375.8 202.5,371.7 198.3,368.3 193.3,365.8 188.3,362.5 183.3,359.2 179.2,355.8 175.8,355.0 170.0,356.7 165.0,358.3 163.3,360.0 158.3,357.5 153.3,355.8 148.3,355.0 146.7,356.7 146.7,361.7 145.8,355.8 142.5,355.0 140.0,354.7 144.2,352.5 145.0,346.7 144.2,341.7 145.0,336.7 145.8,331.7 146.7,327.5 145.0,325.0 140.0,325.3 133.3,324.2 128.3,323.3 123.3,325.0 116.7,326.7 111.7,329.2 108.3,331.7 109.2,334.2 113.3,337.5 114.2,341.7 112.5,346.7 110.8,351.7 110.0,356.7 110.8,363.3 111.7,370.0 111.3,373.0 108.3,379.7 105.0,384.7 103.3,388.8 100.0,394.7 97.5,399.7 95.0,405.5 93.3,411.3 92.5,418.0 93.3,423.0 90.0,427.2 86.7,432.2 83.3,437.2 85.8,440.5 82.5,444.7 79.2,449.7 78.3,454.7 80.0,461.3 81.7,468.0 83.3,474.7 83.3,477.0 86.7,482.0 93.3,482.8 100.0,482.0 105.0,482.8 106.7,488.7 107.5,495.3 109.2,502.0 111.7,507.8 116.7,512.0 120.0,517.0 121.7,523.7 123.3,530.3 125.0,537.0 126.7,543.7 127.5,546.7 130.0,553.3 133.3,560.0 136.7,565.0 141.7,569.2 146.7,571.7 153.3,571.7 160.0,571.7 166.7,573.3 170.0,575.8 173.3,581.7 176.7,585.0 180.8,589.2 185.0,592.5 189.2,595.8 188.3,600.8 185.0,605.0 183.3,610.0 178.3,614.2 173.3,612.5 169.2,609.2 163.3,610.8 157.5,615.0 153.3,620.0 148.3,614.2 148.3,610.0 151.7,606.7 152.5,601.7 150.8,596.7 146.7,595.0 143.3,595.8 141.7,591.7 138.3,588.3 133.3,587.5 128.3,585.8 123.3,583.3 119.2,579.2 118.3,585.0 116.7,589.2 115.0,586.7 111.7,581.7 107.5,577.5 103.3,573.3 100.0,569.2 97.5,563.3 94.2,557.5 90.0,551.7 85.0,546.7 80.0,545.3 76.7,542.0 74.2,536.2 70.8,531.2 67.5,527.8 63.3,523.7 60.8,518.7 59.2,513.7 56.7,517.0 53.3,520.3 50.0,522.0 47.5,518.7 45.8,512.0 45.0,505.3 46.3,498.7 45.8,492.0 46.7,485.3 49.2,478.7 51.7,472.0 55.8,467.2 58.3,461.3 59.2,455.5 61.7,449.7 63.7,443.8 65.3,438.0 65.8,432.2 67.5,427.2 71.7,424.7 75.0,419.7 80.0,417.2 82.5,412.2 85.8,406.3 89.2,401.3 91.7,396.3 95.8,391.3 98.3,386.3 96.7,382.2 94.2,378.0 91.7,374.7 90.0,368.0 90.0,362.3 87.5,357.3 83.3,352.3 80.8,345.7 78.3,340.7 79.7,336.5 81.7,332.3 81.3,325.7 80.0,319.0 78.3,312.3 75.0,307.3 70.0,301.5 63.3,295.7 57.5,290.7 53.3,284.0 48.3,277.3 45.8,270.7 43.7,264.0 45.0,260.0 48.3,256.7 53.3,255.8 56.7,253.3 58.3,248.3 56.7,243.3 57.5,238.3 59.2,233.3 57.5,229.2 61.7,227.5 65.8,225.8 69.2,223.3 70.0,219.2 68.3,216.7 65.8,218.3 62.5,220.0 60.8,216.7 58.3,211.7 55.8,207.5 55.0,200.8 52.5,195.8 49.2,191.7 45.0,186.7 41.7,182.5 39.2,177.5 35.8,173.3 30.8,169.2 27.5,165.8 25.0,160.0 25.8,157.7 22.5,151.8 16.7,146.0 15.0,139.3 12.5,134.3 16.7,137.7 23.3,132.7 26.7,127.7 25.0,123.5 25.8,120.2 27.5,115.2 30.8,109.3 30.8,104.3 31.7,99.0 37.0,95.2 38.0,91.8 40.0,89.3 45.0,91.8 54.2,93.0 57.5,95.2 65.8,90.7 70.8,91.3 75.8,88.5 75.3,81.0 78.3,78.2 85.0,79.3 90.8,78.5 94.2,76.8 92.7,71.8" fill="#96f400"/><g clip-path="url(#thai)"><path d="M84.6,76.8C85.9,79.3 83.8,85.6 83.3,89.3C82.8,93.1 81.9,95.7 81.7,99.3C81.5,102.9 82.4,107.3 82.2,111.0C81.9,114.7 81.5,118.5 80.4,121.3C79.2,124.2 77.1,126.5 75.2,128.0C73.3,129.5 72.0,130.2 68.7,130.5C65.5,130.8 60.7,129.8 55.8,129.7C50.9,129.5 43.7,129.1 39.6,129.7C35.6,130.2 34.2,131.6 31.5,133.0C28.8,134.4 25.6,136.2 23.5,138.0C21.3,139.8 21.0,142.7 18.6,144.0C16.2,145.3 10.5,155.1 8.9,146.0C7.3,136.9 -2.2,101.3 8.9,89.3C19.9,77.4 62.6,76.4 75.2,74.3C87.8,72.2 83.2,74.3 84.6,76.8Z" fill="#07ba07" stroke="#e4ffd8" stroke-width="0.9"/><path d="M44.5,200.0C47.4,188.4 51.2,197.8 54.2,197.0C57.1,196.2 59.3,194.9 62.3,195.0C65.2,195.1 69.0,196.4 72.0,197.5C74.9,198.6 77.4,200.3 80.1,201.7C82.8,203.1 85.6,204.6 88.1,205.8C90.7,207.1 93.4,207.6 95.4,209.2C97.4,210.7 99.2,212.6 100.3,215.0C101.4,217.4 101.6,220.3 101.9,223.3C102.2,226.4 102.2,230.0 101.9,233.3C101.6,236.7 101.4,240.0 100.3,243.3C99.2,246.7 97.2,250.3 95.4,253.3C93.7,256.4 91.2,259.4 89.8,261.7C88.3,263.9 85.4,268.6 86.5,266.7C87.6,264.7 95.7,251.4 96.2,250.0C96.8,248.6 92.1,254.7 89.8,258.3C87.5,261.9 84.6,266.9 82.5,271.7C80.3,276.4 78.3,281.9 76.8,286.7C75.3,291.4 74.7,296.8 73.6,300.0C72.5,303.2 73.3,304.9 70.4,305.8C67.4,306.8 61.5,312.4 55.8,305.8C50.1,299.3 38.3,284.3 36.4,266.7C34.5,249.0 41.5,211.6 44.5,200.0Z" fill="#07ba07" stroke="#e4ffd8" stroke-width="0.9"/><path d="M233.1,186.3C233.1,188.4 232.4,190.6 231.2,192.5C230.0,194.3 228.1,196.1 225.9,197.4C223.7,198.7 220.9,199.7 218.2,200.1C215.5,200.6 212.4,200.6 209.7,200.1C207.0,199.7 204.2,198.7 202.1,197.4C199.9,196.1 197.9,194.3 196.8,192.5C195.6,190.6 194.9,188.4 194.9,186.3C194.9,184.2 195.6,182.0 196.8,180.1C197.9,178.3 199.9,176.5 202.1,175.2C204.2,173.9 207.0,172.9 209.7,172.5C212.4,172.0 215.5,172.0 218.2,172.5C220.9,172.9 223.7,173.9 225.9,175.2C228.1,176.5 230.0,178.3 231.2,180.1C232.4,182.0 233.1,184.2 233.1,186.3Z" fill="#07ba07" stroke="#e4ffd8" stroke-width="0.9"/><path d="M290.6,183.3C290.6,184.5 290.4,185.7 290.0,186.8C289.6,187.8 288.9,188.8 288.2,189.6C287.5,190.3 286.5,190.8 285.6,191.1C284.7,191.4 283.6,191.4 282.7,191.1C281.8,190.8 280.8,190.3 280.1,189.6C279.3,188.8 278.7,187.8 278.3,186.8C277.9,185.7 277.6,184.5 277.6,183.3C277.6,182.1 277.9,180.9 278.3,179.8C278.7,178.8 279.3,177.8 280.1,177.0C280.8,176.3 281.8,175.8 282.7,175.5C283.6,175.2 284.7,175.2 285.6,175.5C286.5,175.8 287.5,176.3 288.2,177.0C288.9,177.8 289.6,178.8 290.0,179.8C290.4,180.9 290.6,182.1 290.6,183.3Z" fill="#07ba07" stroke="#e4ffd8" stroke-width="0.9"/><path d="M126.2,305.0C127.9,303.6 133.3,303.3 136.7,303.0C140.0,302.7 143.1,303.1 146.4,303.0C149.6,302.9 153.1,302.7 156.1,302.5C159.0,302.3 161.7,301.6 164.2,302.0C166.6,302.4 168.5,303.8 170.6,305.0C172.8,306.2 174.7,307.9 177.1,309.2C179.5,310.4 182.2,311.2 185.2,312.5C188.2,313.8 191.1,315.0 194.9,316.7C198.7,318.3 204.6,319.7 207.8,322.5C211.1,325.3 213.2,325.4 214.3,333.3C215.4,341.2 223.7,363.9 214.3,370.0C204.9,376.1 166.3,372.5 157.7,370.0C149.1,367.5 161.3,358.9 162.5,355.0C163.8,351.1 164.6,349.7 165.0,346.7C165.4,343.6 165.4,339.7 165.0,336.7C164.6,333.6 163.8,331.1 162.5,328.3C161.3,325.6 159.6,322.1 157.7,320.0C155.8,317.9 153.6,316.7 151.2,315.8C148.8,315.0 146.1,315.2 143.1,315.0C140.2,314.8 136.2,315.3 133.4,314.7C130.7,314.1 127.7,312.9 126.5,311.3C125.3,309.7 124.5,306.4 126.2,305.0Z" fill="#07ba07" stroke="#e4ffd8" stroke-width="0.9"/><path d="M270.9,291.3C271.4,289.5 276.3,285.3 279.0,283.3C281.7,281.4 284.1,280.1 287.1,279.7C290.0,279.2 293.3,280.4 296.8,280.8C300.3,281.3 303.8,282.2 308.1,282.5C312.4,282.8 320.2,279.6 322.7,282.5C325.1,285.4 326.4,296.8 322.7,300.0C318.9,303.2 304.6,302.8 300.0,301.7C295.4,300.6 297.6,294.6 295.2,293.3C292.7,292.1 288.7,294.0 285.5,294.2C282.2,294.3 278.2,294.6 275.8,294.2C273.3,293.7 270.4,293.1 270.9,291.3Z" fill="#07ba07" stroke="#e4ffd8" stroke-width="0.9"/><path d="M105.5,323.3C105.5,323.7 105.4,324.1 105.1,324.4C104.9,324.7 104.5,325.0 104.1,325.3C103.7,325.5 103.2,325.7 102.7,325.7C102.2,325.8 101.6,325.8 101.1,325.7C100.6,325.7 100.1,325.5 99.7,325.3C99.2,325.0 98.9,324.7 98.7,324.4C98.4,324.1 98.3,323.7 98.3,323.3C98.3,322.9 98.4,322.5 98.7,322.2C98.9,321.9 99.2,321.6 99.7,321.3C100.1,321.1 100.6,320.9 101.1,320.9C101.6,320.8 102.2,320.8 102.7,320.9C103.2,320.9 103.7,321.1 104.1,321.3C104.5,321.6 104.9,321.9 105.1,322.2C105.4,322.5 105.5,322.9 105.5,323.3Z" fill="#07ba07" stroke="#e4ffd8" stroke-width="0.9"/><polygon points="17.0,380.0 84.1,412.5 90.5,418.3 211.1,520.0 211.1,640.0 17.0,640.0" fill="#07ba07" stroke="#e4ffd8" stroke-width="0.9"/><path d="M120.5,575.8C121.6,575.2 124.3,574.9 127.0,574.7C129.7,574.4 133.7,574.4 136.7,574.2C139.6,573.9 142.1,573.3 144.8,573.0C147.4,572.7 150.4,572.5 152.8,572.5C155.3,572.5 157.6,572.6 159.3,573.0C161.1,573.4 162.9,574.0 163.4,575.0C163.8,576.0 162.9,578.1 161.7,579.2C160.5,580.3 157.7,580.7 156.1,581.7C154.5,582.6 153.1,583.6 152.0,585.0C151.0,586.4 150.4,588.3 149.6,590.0C148.8,591.7 148.1,593.9 147.2,595.0C146.2,596.1 144.6,597.2 143.9,596.3C143.3,595.5 143.8,591.5 143.1,590.0C142.5,588.5 141.5,588.1 139.9,587.5C138.3,586.9 135.6,587.1 133.4,586.7C131.3,586.2 128.7,585.8 127.0,585.0C125.2,584.2 124.0,582.8 122.9,581.7C121.8,580.6 120.9,579.3 120.5,578.3C120.1,577.4 119.4,576.4 120.5,575.8Z" fill="#96f400" stroke="#e4ffd8" stroke-width="0.9"/><rect x="0" y="50" width="340" height="600" fill="url(#tx2)" opacity="0.65"/><path d="M55.8,94.3 L58.7,99.7 L59.4,106.0 L57.7,112.7 L59.8,116.8 L51.3,118.0 L47.7,114.3 L43.7,119.0 L40.4,124.7 L40.8,129.7 L42.4,136.0 L44.8,141.0 L43.8,146.0 L45.8,151.3 L46.4,156.0 L42.4,161.0 L39.1,164.7 L39.6,168.0M93.0,78.5 L89.8,84.3 L86.0,94.7 L86.9,103.0 L86.0,111.3 L88.5,118.0 L92.5,114.3 L95.7,108.0 L97.8,104.7M97.8,104.7 L104.3,103.5 L112.4,101.0 L118.9,97.7 L125.3,94.0 L128.9,93.0M97.8,104.7 L100.3,111.0 L104.3,117.7 L110.8,122.7 L117.3,126.0 L123.7,126.0M128.9,93.0 L131.8,101.0 L134.2,106.0 L131.8,112.7 L128.6,119.3 L125.3,124.3 L123.7,126.0M123.7,126.0 L120.5,126.8 L114.8,127.7 L114.0,134.3 L110.8,141.0 L104.3,147.7 L97.8,154.3 L93.0,159.3 L89.0,164.3 L88.1,168.0M125.3,124.3 L126.2,129.3 L127.0,136.0 L130.2,139.3 L131.8,146.0 L128.6,152.7 L127.0,156.0 L136.7,156.0 L144.8,154.3 L149.6,149.3 L152.8,144.3 L155.3,142.7M88.5,118.0 L87.7,126.0 L86.5,133.5 L83.3,131.3 L79.2,133.0 L74.4,136.8 L68.7,139.3 L63.1,142.7 L63.9,149.3 L66.3,156.0 L67.9,162.7 L67.1,168.0M86.5,133.5 L84.9,139.3 L78.4,144.3 L76.8,151.0 L78.4,159.3 L80.1,168.0M127.0,156.0 L120.5,159.3 L114.0,164.3 L110.8,168.0M63.1,176.7 L70.4,174.2 L75.2,177.5 L83.3,180.0 L84.9,186.7 L88.1,191.7 L91.4,198.7 L97.8,205.0 L102.7,205.8 L106.7,203.7M91.4,198.7 L84.9,204.2 L83.3,210.0 L76.8,213.7 L74.4,215.0 L75.2,223.3 L76.8,230.0 L78.4,235.0 L88.1,235.0 L97.8,235.8 L102.7,236.7M78.4,235.0 L79.2,240.0 L76.8,250.0 L75.2,260.0 L74.4,266.7M79.2,240.0 L84.9,243.3 L91.4,247.5 L97.8,243.3 L101.1,244.2M59.0,245.0 L63.9,251.7 L68.7,256.7 L73.6,260.8M39.6,166.7 L43.7,171.7 L47.7,174.2 L50.1,182.5 L55.8,181.7 L56.6,175.0 L55.8,166.7 L59.0,165.0 L60.7,170.0 L63.1,176.7M91.4,165.8 L95.4,165.0 L104.3,166.7 L108.4,165.0M91.4,165.8 L90.6,173.3 L91.4,181.7 L86.5,186.7 L88.1,191.7M108.4,165.0 L109.2,173.3 L110.8,181.7 L112.4,187.5 L107.6,193.3 L106.7,203.7M110.8,185.0 L120.5,181.7 L130.2,178.3 L136.7,175.0 L143.1,174.2 L144.8,175.0 L149.6,170.0 L148.0,165.0 L149.6,160.0M144.8,175.0 L146.4,178.3 L151.2,182.5 L149.6,190.0 L148.8,198.3 L146.4,203.3 L144.8,208.3 L136.7,218.3 L135.9,223.3 L135.0,230.8M106.7,203.7 L110.8,206.7 L112.4,211.7 L120.5,210.0 L131.8,209.2 L135.0,215.0 L136.7,218.3M112.4,211.7 L111.6,218.3 L114.0,225.0 L115.6,231.7 L110.8,233.3 L102.7,236.7M115.6,231.7 L123.7,231.7 L135.0,230.8 L139.9,231.7 L140.7,238.3 L141.5,246.7 L139.9,250.8 L135.0,255.0 L130.2,260.0 L123.7,263.3 L120.5,266.7M149.6,190.0 L156.1,190.8 L162.5,192.5 L169.0,194.2 L172.2,195.0M139.9,250.8 L146.4,253.3 L152.8,255.8 L159.3,255.0 L162.5,253.3 L163.4,243.3 L162.5,233.3 L163.4,223.3 L165.0,213.3 L167.4,208.3 L172.2,205.0M102.7,236.7 L109.2,243.3 L110.8,250.0 L114.0,255.0 L120.5,260.0 L123.7,263.3M101.1,261.7 L104.3,258.3 L110.8,257.5 L114.0,255.0M101.1,261.7 L102.7,266.7 L107.6,270.0 L114.0,269.2 L120.5,266.7 L127.0,266.7 L130.2,272.0M162.5,253.3 L163.4,260.0 L164.2,266.7 L165.0,272.0M188.4,149.2 L187.6,158.3 L186.8,167.5 L189.2,170.8 L186.8,177.5 L185.2,180.0 L187.6,188.3 L186.8,196.7 L183.6,200.0 L177.1,201.7 L175.5,196.7 L172.2,193.3 L167.4,191.7 L162.5,191.7M188.4,155.0 L194.9,156.7 L201.4,163.3 L206.2,169.2 L211.1,170.8 L215.9,168.3 L219.1,162.5 L225.6,161.7 L230.5,160.8 L233.7,163.3 L236.9,168.3 L235.3,173.3 L233.7,180.0 L233.7,183.3M236.9,168.3 L238.6,160.0 L241.8,155.0 L246.6,157.5 L251.5,161.7 L258.0,164.2 L261.2,166.7 L264.4,160.0 L266.1,156.7M261.2,166.7 L262.8,173.3 L262.0,178.3 L267.7,179.2 L274.9,178.3 L275.8,185.0 L274.1,191.7 L270.9,196.7 L264.4,199.2 L258.0,201.7 L253.1,196.7 L248.3,193.3 L243.4,190.0 L238.6,186.7 L233.7,183.3M233.7,183.3 L232.1,190.0 L227.2,195.0 L228.9,203.3 L228.0,210.0 L228.9,216.7 L235.3,220.0 L240.2,225.0 L246.6,223.3 L249.9,218.3 L254.7,215.0 L262.8,215.0 L269.3,215.0 L272.5,218.3M264.4,199.2 L267.7,205.0 L269.3,211.7 L269.3,215.0M272.5,218.3 L279.0,220.8 L285.5,223.3 L291.9,224.2 L296.8,223.3M227.2,195.0 L219.1,200.0 L211.1,200.8 L201.4,199.2 L193.3,198.3 L186.8,196.7M177.1,201.7 L178.7,205.0 L186.8,208.3 L194.9,212.5 L201.4,215.0 L202.2,221.7 L199.7,228.3 L197.3,235.0 L196.5,242.0M228.0,210.0 L224.0,213.3 L219.1,218.3 L217.5,225.0 L219.1,231.7 L219.1,242.0M240.2,225.0 L239.4,231.7 L240.2,242.0M272.5,218.3 L267.7,225.0 L262.8,230.0 L261.2,236.7 L262.0,242.0M279.0,220.8 L275.8,230.0 L274.1,236.7 L274.1,242.0M296.8,223.3 L296.0,230.0 L295.2,236.7 L296.0,242.0M177.1,201.7 L172.2,206.7 L167.4,208.3 L165.8,213.3 L164.2,220.0 L162.5,223.3M162.5,255.8 L172.2,253.3 L182.0,251.7 L186.8,248.3 L190.0,243.3 L196.5,240.0 L198.9,236.7 L197.3,230.0M198.9,236.7 L198.9,240.8 L207.8,242.5 L215.9,241.7 L219.1,236.7 L220.0,230.0M215.9,241.7 L218.3,246.7 L223.2,251.7 L221.6,258.3 L217.5,263.3 L209.4,270.0 L204.6,273.3 L201.4,280.0 L200.5,283.3 L204.6,286.7 L207.0,291.7 L209.4,294.2 L203.0,298.3 L194.9,300.8 L188.4,301.7M223.2,251.7 L230.5,255.0 L238.6,256.7 L241.0,255.0M219.1,236.7 L224.0,243.3 L227.2,250.0 L230.5,255.0M241.0,255.0 L240.2,263.3 L238.6,271.7 L233.7,276.7 L231.3,283.3 L232.1,291.7 L231.3,294.2M241.0,255.0 L246.6,251.7 L256.3,252.5 L261.2,251.7 L263.6,248.3 L266.1,243.3 L262.8,236.7 L264.4,230.0M261.2,251.7 L259.6,260.0 L258.0,266.7 L257.2,273.3 L260.4,280.0 L262.0,286.7 L262.0,293.3M263.6,248.3 L269.3,253.3 L275.8,256.7 L282.2,260.0 L287.1,260.8 L285.5,266.7 L288.7,273.3 L291.1,280.0 L291.1,286.7 L291.9,291.7M275.8,256.7 L274.1,251.7 L277.4,245.0 L282.2,241.7 L287.1,245.8 L291.9,248.3 L295.2,240.0 L296.8,235.0 L296.8,230.0M277.4,245.0 L275.8,238.3 L279.0,230.0M188.4,301.7 L183.6,305.0 L182.8,310.0 L183.6,316.7 L182.0,323.3 L185.2,330.0 L186.8,333.3 L193.3,332.5 L198.1,330.0 L198.9,323.3M162.5,291.7 L169.0,290.8 L172.2,295.0 L178.7,294.2 L183.6,291.7 L186.8,296.7 L188.4,301.7M178.7,313.3 L180.3,320.0 L182.0,323.3M185.2,330.0 L182.0,335.0 L177.1,336.7 L172.2,342.0M162.5,320.0 L169.0,323.3 L173.9,328.3 L177.1,336.7M86.5,266.7 L94.6,269.2 L101.1,270.0 L110.8,270.8 L117.3,271.7 L122.1,266.7 L125.3,265.0 L127.0,268.3 L128.6,275.0 L130.2,280.0 L134.2,283.3M101.1,270.0 L101.9,263.3 L105.9,258.3 L114.0,257.5 L117.3,253.3 L122.1,250.0M104.3,281.7 L105.1,291.7 L104.3,300.0 L106.7,305.0 L114.0,303.3 L120.5,300.0 L122.1,295.0 L121.3,286.7 L120.5,278.3 L117.3,271.7M73.6,300.0 L78.4,306.7 L80.1,315.8 L86.5,314.2 L94.6,313.3 L101.1,311.7 L106.7,305.0M106.7,305.0 L108.4,311.7 L112.4,316.7 L117.3,318.3 L122.1,316.7 L123.7,311.7 L122.9,305.0 L122.1,300.0M80.1,315.8 L80.9,325.0 L80.1,333.3 L86.5,336.7 L94.6,335.0 L101.1,331.7 L106.7,333.3 L110.0,330.0 L107.6,325.0 L110.8,321.7 L112.4,316.7M80.1,333.3 L78.4,340.0 L80.9,348.3 L84.9,355.0 L88.1,360.0 L89.8,362.0M106.7,333.3 L112.4,336.7 L113.2,343.3 L110.8,351.7 L109.2,358.3M134.2,283.3 L139.9,281.7 L143.1,288.3 L145.6,296.7 L146.4,303.0M134.2,283.3 L130.2,290.0 L127.0,296.7 L125.3,303.3M127.0,268.3 L133.4,261.7 L139.9,253.3 L143.1,250.0M143.1,250.0 L151.2,253.3 L159.3,251.7 L162.5,256.7 L162.5,266.7 L165.0,270.0 L159.3,276.7 L156.1,283.3 L157.7,288.3 L149.6,293.3 L145.6,296.7M157.7,288.3 L165.8,291.7 L170.6,290.0 L177.1,295.0 L183.6,293.3 L188.4,301.7 L185.2,305.0 L183.6,311.7M165.0,270.0 L172.2,266.7 L180.3,268.3 L188.4,265.0 L198.1,268.3 L204.6,271.7 L207.8,270.0 L211.1,270.8M188.4,301.7 L194.9,300.0 L201.4,298.3 L207.8,296.7 L211.1,295.0M204.6,271.7 L201.4,281.7 L206.2,288.3 L207.8,296.7M183.6,311.7 L183.6,320.0 L185.2,328.3 L180.3,333.3 L175.5,336.7 L172.2,333.3 L165.8,325.0 L159.3,321.7M185.2,328.3 L191.7,333.3 L198.1,330.0 L201.4,336.7 L206.2,348.3 L207.8,356.7M175.5,336.7 L177.1,345.0 L180.3,353.3 L182.0,362.0M175.5,336.7 L169.0,340.0 L162.5,342.5 L156.1,340.8 L151.2,343.3 L149.6,350.0 L146.4,355.0M146.4,303.0 L145.6,308.3 L144.8,315.0M125.3,303.3 L123.7,307.5 L125.3,313.3 L130.2,316.7 L136.7,318.3 L143.1,317.5 L146.4,321.7 L144.8,325.0M117.3,318.3 L122.1,323.3 L127.0,321.7 L130.2,316.7M90.6,359.2 L97.8,358.3 L104.3,358.7 L109.2,358.3M80.1,418.3 L86.5,420.0 L92.2,419.2M70.4,426.7 L71.2,433.3 L70.4,440.0 L72.0,446.7 L71.2,452.0M62.3,450.0 L64.7,456.7 L63.1,463.3 L63.9,468.3 L59.8,475.0 L57.4,481.7 L55.0,488.3 L54.2,496.7 L57.4,501.7 L58.2,505.0M63.9,468.3 L70.4,465.8 L76.8,466.7 L81.7,471.7M58.2,505.0 L63.9,505.8 L68.7,506.7 L72.0,511.7 L75.2,515.8 L83.3,518.3 L84.1,513.3 L84.9,508.3M84.9,508.3 L89.8,503.3 L94.6,498.3 L97.0,495.0 L101.1,491.7 L101.9,485.0 L102.7,481.7M83.3,518.3 L86.5,523.3 L85.7,528.3 L89.0,531.7 L94.6,533.3 L99.5,531.7 L102.7,535.0 L109.2,534.2 L115.6,535.0 L120.5,533.3 L123.7,531.7M89.0,531.7 L86.5,536.7 L88.1,543.3 L91.4,550.0 L94.6,556.7 L97.8,562.0M99.5,531.7 L101.1,538.3 L103.5,546.7 L105.9,555.0 L107.6,562.0M115.6,535.0 L118.9,543.3 L122.1,550.0 L117.3,556.7 L114.0,562.0M58.2,505.0 L60.7,510.0 L62.3,516.7 L65.5,523.3 L70.4,528.3M101.1,535.0 L104.3,543.3 L107.6,553.3 L110.8,561.7 L113.2,565.0 L118.9,561.7 L123.7,558.3 L128.6,555.0M113.2,565.0 L115.6,570.0 L118.9,574.2 L120.5,576.7M148.0,573.3 L149.6,578.3 L152.8,580.8 L156.1,581.7 L162.5,584.2 L169.0,583.3 L175.5,581.7M162.5,584.2 L163.4,591.7 L164.2,598.3 L167.4,605.0 L169.0,610.0M99.5,565.0 L104.3,565.8 L109.2,564.2 L113.2,565.0" fill="none" stroke="#000" stroke-width="1.25" stroke-linejoin="round"/></g><polygon points="91.3,66.8 95.8,70.7 100.0,69.0 105.0,66.0 109.2,64.3 114.2,66.8 116.7,71.8 120.0,68.0 124.2,66.8 128.3,70.7 129.7,75.7 133.3,76.8 131.7,81.0 129.7,85.7 128.3,90.2 126.7,92.7 129.7,96.0 131.7,100.2 136.7,99.0 141.7,97.3 146.7,95.7 152.5,95.7 158.3,96.8 157.5,103.5 159.2,109.3 161.0,115.0 159.2,120.0 158.3,125.0 157.5,130.8 155.8,134.2 152.5,137.5 150.8,140.8 153.3,143.3 155.4,144.2 154.6,148.3 155.0,153.3 152.9,157.5 149.2,160.8 148.3,165.0 148.3,170.0 148.8,173.3 152.5,175.4 155.0,174.2 159.2,170.0 164.2,166.7 170.0,161.7 175.0,159.6 177.5,154.2 180.0,155.0 183.3,153.3 188.3,148.8 191.7,148.8 195.0,153.3 200.0,155.8 203.3,159.5 208.3,162.0 210.0,159.5 216.7,158.7 223.3,157.0 226.7,153.7 230.0,147.8 232.5,144.5 234.2,140.7 240.0,140.3 246.7,141.7 250.8,144.5 260.0,144.5 262.5,147.8 265.8,153.7 270.0,159.5 275.0,165.3 280.0,170.3 285.8,173.7 290.0,177.8 290.8,183.7 289.2,190.3 287.5,198.7 288.3,205.3 290.8,212.0 293.3,218.7 297.5,223.3 298.3,227.5 305.0,229.2 312.5,230.8 313.3,235.8 319.2,240.8 321.3,245.0 320.0,250.0 317.5,255.0 316.7,260.0 318.3,265.0 320.0,270.0 317.5,275.0 318.3,281.7 316.7,288.3 310.0,292.5 305.0,295.8 300.0,298.3 296.7,295.0 291.7,290.8 285.0,291.3 276.7,291.7 268.3,292.5 261.7,293.3 255.0,291.7 248.3,291.3 241.7,290.8 233.3,291.7 228.3,294.2 224.2,298.3 220.0,304.2 216.7,309.2 213.3,313.3 208.3,317.5 206.7,320.0 201.7,322.5 199.2,325.8 199.2,331.7 201.7,336.7 204.2,341.7 205.0,348.3 206.7,354.2 210.8,359.2 215.0,364.2 213.3,368.3 210.8,373.3 208.3,376.7 206.7,373.3 205.0,375.8 202.5,371.7 198.3,368.3 193.3,365.8 188.3,362.5 183.3,359.2 179.2,355.8 175.8,355.0 170.0,356.7 165.0,358.3 163.3,360.0 158.3,357.5 153.3,355.8 148.3,355.0 146.7,356.7 146.7,361.7 145.8,355.8 142.5,355.0 140.0,354.7 144.2,352.5 145.0,346.7 144.2,341.7 145.0,336.7 145.8,331.7 146.7,327.5 145.0,325.0 140.0,325.3 133.3,324.2 128.3,323.3 123.3,325.0 116.7,326.7 111.7,329.2 108.3,331.7 109.2,334.2 113.3,337.5 114.2,341.7 112.5,346.7 110.8,351.7 110.0,356.7 110.8,363.3 111.7,370.0 111.3,373.0 108.3,379.7 105.0,384.7 103.3,388.8 100.0,394.7 97.5,399.7 95.0,405.5 93.3,411.3 92.5,418.0 93.3,423.0 90.0,427.2 86.7,432.2 83.3,437.2 85.8,440.5 82.5,444.7 79.2,449.7 78.3,454.7 80.0,461.3 81.7,468.0 83.3,474.7 83.3,477.0 86.7,482.0 93.3,482.8 100.0,482.0 105.0,482.8 106.7,488.7 107.5,495.3 109.2,502.0 111.7,507.8 116.7,512.0 120.0,517.0 121.7,523.7 123.3,530.3 125.0,537.0 126.7,543.7 127.5,546.7 130.0,553.3 133.3,560.0 136.7,565.0 141.7,569.2 146.7,571.7 153.3,571.7 160.0,571.7 166.7,573.3 170.0,575.8 173.3,581.7 176.7,585.0 180.8,589.2 185.0,592.5 189.2,595.8 188.3,600.8 185.0,605.0 183.3,610.0 178.3,614.2 173.3,612.5 169.2,609.2 163.3,610.8 157.5,615.0 153.3,620.0 148.3,614.2 148.3,610.0 151.7,606.7 152.5,601.7 150.8,596.7 146.7,595.0 143.3,595.8 141.7,591.7 138.3,588.3 133.3,587.5 128.3,585.8 123.3,583.3 119.2,579.2 118.3,585.0 116.7,589.2 115.0,586.7 111.7,581.7 107.5,577.5 103.3,573.3 100.0,569.2 97.5,563.3 94.2,557.5 90.0,551.7 85.0,546.7 80.0,545.3 76.7,542.0 74.2,536.2 70.8,531.2 67.5,527.8 63.3,523.7 60.8,518.7 59.2,513.7 56.7,517.0 53.3,520.3 50.0,522.0 47.5,518.7 45.8,512.0 45.0,505.3 46.3,498.7 45.8,492.0 46.7,485.3 49.2,478.7 51.7,472.0 55.8,467.2 58.3,461.3 59.2,455.5 61.7,449.7 63.7,443.8 65.3,438.0 65.8,432.2 67.5,427.2 71.7,424.7 75.0,419.7 80.0,417.2 82.5,412.2 85.8,406.3 89.2,401.3 91.7,396.3 95.8,391.3 98.3,386.3 96.7,382.2 94.2,378.0 91.7,374.7 90.0,368.0 90.0,362.3 87.5,357.3 83.3,352.3 80.8,345.7 78.3,340.7 79.7,336.5 81.7,332.3 81.3,325.7 80.0,319.0 78.3,312.3 75.0,307.3 70.0,301.5 63.3,295.7 57.5,290.7 53.3,284.0 48.3,277.3 45.8,270.7 43.7,264.0 45.0,260.0 48.3,256.7 53.3,255.8 56.7,253.3 58.3,248.3 56.7,243.3 57.5,238.3 59.2,233.3 57.5,229.2 61.7,227.5 65.8,225.8 69.2,223.3 70.0,219.2 68.3,216.7 65.8,218.3 62.5,220.0 60.8,216.7 58.3,211.7 55.8,207.5 55.0,200.8 52.5,195.8 49.2,191.7 45.0,186.7 41.7,182.5 39.2,177.5 35.8,173.3 30.8,169.2 27.5,165.8 25.0,160.0 25.8,157.7 22.5,151.8 16.7,146.0 15.0,139.3 12.5,134.3 16.7,137.7 23.3,132.7 26.7,127.7 25.0,123.5 25.8,120.2 27.5,115.2 30.8,109.3 30.8,104.3 31.7,99.0 37.0,95.2 38.0,91.8 40.0,89.3 45.0,91.8 54.2,93.0 57.5,95.2 65.8,90.7 70.8,91.3 75.8,88.5 75.3,81.0 78.3,78.2 85.0,79.3 90.8,78.5 94.2,76.8 92.7,71.8" fill="none" stroke="#000" stroke-width="1.55" stroke-linejoin="round"/><polygon points="47.5,524 53,523.5 54,532 51.5,539.5 48,538.5 46.8,531" fill="#07ba07" stroke="#000" stroke-width="1" stroke-linejoin="round"/><polygon points="110.5,473.5 112.5,471.5 115,473 114.5,477 112,478.5 110.5,476.5" fill="#07ba07" stroke="#000" stroke-width="1" stroke-linejoin="round"/><polygon points="97,577.5 99.7,579.2 100,585 97.5,586.7 95.8,582.5" fill="#07ba07" stroke="#000" stroke-width="1" stroke-linejoin="round"/><polygon points="53,457.5 56,460 57.2,468 55,475.5 52,474 51,466" fill="#000"/><polygon points="46.5,489 50.5,490 51,498 48,499.5 46,495" fill="#000"/><polygon points="78.5,585 83,583 88,584.2 86,586.5 82,587.8" fill="#000"/><polygon points="30.5,475.5 32.8,476.2 32,478.5 30.2,478" fill="#000"/><polygon points="28.5,490.3 30,490.3 30,492 28.5,492" fill="#000"/><polygon points="22.4,505.5 23.6,505.5 23.6,511.5 22.4,511.5" fill="#000"/><polygon points="49.2,544.5 51,544.5 51,546.2 49.2,546.2" fill="#000"/><polygon points="64,539 66,539 66,541.5 64,541.5" fill="#000"/><polygon points="75,558.5 76.6,558.5 76.6,560.5 75,560.5" fill="#000"/><polygon points="104.3,451 105.8,451 105.8,453 104.3,453" fill="#000"/><polygon points="98.5,469 99.6,469 99.6,473 98.5,473" fill="#000"/><polygon points="59.5,515 61,514 62.5,519 61,521" fill="#000"/><polygon points="64,523.5 66,523 67,527 65,528" fill="#000"/><polygon points="70,532.5 72,532 73.5,538 71.5,538.5" fill="#000"/><polygon points="76,542.5 77.5,542 79,546 77.5,547" fill="#000"/><polygon points="83,549.5 85,549 86.5,553 84.5,554" fill="#000"/><polygon points="91,557.5 92.5,557 94,562 92.5,563" fill="#000"/><polygon points="96.5,565.5 98,565 99.5,570 98,571" fill="#000"/><polygon points="65,543 66.5,543 66.5,545 65,545" fill="#000"/><polygon points="79.5,584 81,584 81,585.5 79.5,585.5" fill="#000"/><polygon points="139,353 141,352.5 141.5,355.5 139.5,356" fill="#000"/><polygon points="137.5,347.5 139,347.5 139,349 137.5,349" fill="#000"/><circle cx="111.7" cy="464.7" r="1.4" fill="none" stroke="#000" stroke-width="0.9"/><path d="M196,374 L198,380 L201,386 L203.5,392 M203,384 L206,390 L207,396 L205.5,397 M199.5,388 L201.5,394" fill="none" stroke="#000" stroke-width="1.1"/><path d="M210.8,373.3 L213,378 L215,384 L217,388 L219,392" fill="none" stroke="#000" stroke-width="1.3"/><rect x="217" y="388.8" width="2.6" height="2.6" fill="none" stroke="#f00" stroke-width="0.9"/><path d="M100.7,79.0h12M23.6,103.5h12M67.3,123.1h12M68.4,131.3h12M101.9,110.6h12M133.6,124.0h12M87.0,142.3h12M111.6,146.5h12M27.6,146.5h12M68.1,180.3h12M73.2,194.5h12M51.1,203.0h12M87.0,209.1h12M108.8,167.1h12M99.9,183.3h12M114.5,197.5h12M111.7,234.5h12M147.3,212.1h12M206.2,157.8h12M208.8,176.1h12M169.5,172.8h12M258.8,184.1h12M280.3,208.0h12M210.2,212.0h12M241.9,225.3h12M180.3,234.5h12M180.3,234.1h12M182.1,266.1h12M236.1,269.1h12M286.3,255.3h12M201.3,313.0h12M127.9,272.1h12M109.6,284.6h12M87.0,301.1h12M127.9,305.3h12M126.6,313.0h12M156.5,300.0h12M182.1,266.1h12M201.0,313.3h12M129.9,325.5h12M141.5,325.5h12M107.7,333.6h12M134.7,333.3h12M137.1,337.1h12M137.6,343.0h12M141.5,351.1h12M155.4,354.1h12M183.2,354.1h12M102.4,355.3h12M102.7,355.0h12M97.8,384.1h12M75.2,434.1h12M53.4,452.5h12M40.6,494.5h12M73.2,484.5h12M81.0,485.3h12M99.6,480.3h12M106.7,471.6h12M103.7,508.6h12M64.4,524.1h12M42.5,522.1h12M45.3,531.3h12M70.3,544.5h12M90.7,544.5h12M127.8,555.8h12M70.3,544.1h12M91.0,544.5h12M127.8,555.8h12M121.0,567.0h12M147.3,572.5h12M108.0,577.1h12M172.4,585.3h12" stroke="#201020" stroke-width="1.3" stroke-dasharray="1.6 0.9 0.8 0.7 2.2 0.8" fill="none" opacity="0.55"/><rect x="105.4" y="81.9" width="2.6" height="2.6" fill="none" stroke="#ff0000" stroke-width="0.95"/><rect x="101.4" y="85.9" width="2.6" height="2.6" fill="none" stroke="#008800" stroke-width="0.95"/><rect x="28.3" y="106.4" width="2.6" height="2.6" fill="none" stroke="#ff0000" stroke-width="0.95"/><rect x="72.0" y="126.0" width="2.6" height="2.6" fill="none" stroke="#ff0000" stroke-width="0.95"/><rect x="73.1" y="134.2" width="2.6" height="2.6" fill="none" stroke="#ff0000" stroke-width="0.95"/><rect x="106.6" y="113.5" width="2.6" height="2.6" fill="none" stroke="#ff0000" stroke-width="0.95"/><rect x="139.4" y="113.5" width="2.6" height="2.6" fill="none" stroke="#0000ff" stroke-width="0.95"/><rect x="137.3" y="122.7" width="2.6" height="2.6" fill="none" stroke="#008800" stroke-width="0.95"/><rect x="138.3" y="126.9" width="2.6" height="2.6" fill="none" stroke="#ff0000" stroke-width="0.95"/><rect x="83.0" y="143.0" width="2.6" height="2.6" fill="none" stroke="#008800" stroke-width="0.95"/><rect x="91.7" y="145.2" width="2.6" height="2.6" fill="none" stroke="#ff0000" stroke-width="0.95"/><rect x="116.3" y="149.4" width="2.6" height="2.6" fill="none" stroke="#ff0000" stroke-width="0.95"/><rect x="32.3" y="149.4" width="2.6" height="2.6" fill="none" stroke="#ff0000" stroke-width="0.95"/><rect x="72.8" y="183.2" width="2.6" height="2.6" fill="none" stroke="#ff0000" stroke-width="0.95"/><rect x="77.9" y="197.4" width="2.6" height="2.6" fill="none" stroke="#ff0000" stroke-width="0.95"/><rect x="68.7" y="201.7" width="2.6" height="2.6" fill="none" stroke="#008800" stroke-width="0.95"/><rect x="55.8" y="205.9" width="2.6" height="2.6" fill="none" stroke="#ff0000" stroke-width="0.95"/><rect x="91.7" y="212.0" width="2.6" height="2.6" fill="none" stroke="#ff0000" stroke-width="0.95"/><rect x="67.8" y="229.2" width="2.6" height="2.6" fill="none" stroke="#0000ff" stroke-width="0.95"/><rect x="113.5" y="170.0" width="2.6" height="2.6" fill="none" stroke="#ff0000" stroke-width="0.95"/><rect x="104.6" y="186.2" width="2.6" height="2.6" fill="none" stroke="#ff0000" stroke-width="0.95"/><rect x="119.2" y="200.4" width="2.6" height="2.6" fill="none" stroke="#ff0000" stroke-width="0.95"/><rect x="120.3" y="215.0" width="2.6" height="2.6" fill="none" stroke="#008800" stroke-width="0.95"/><rect x="116.4" y="237.4" width="2.6" height="2.6" fill="none" stroke="#ff0000" stroke-width="0.95"/><rect x="152.0" y="215.0" width="2.6" height="2.6" fill="none" stroke="#ff0000" stroke-width="0.95"/><rect x="156.1" y="201.7" width="2.6" height="2.6" fill="none" stroke="#0000ff" stroke-width="0.95"/><rect x="151.1" y="243.4" width="2.6" height="2.6" fill="none" stroke="#0000ff" stroke-width="0.95"/><rect x="154.0" y="258.2" width="2.6" height="2.6" fill="none" stroke="#0000ff" stroke-width="0.95"/><rect x="128.4" y="254.9" width="2.6" height="2.6" fill="none" stroke="#008800" stroke-width="0.95"/><rect x="116.4" y="262.0" width="2.6" height="2.6" fill="none" stroke="#008800" stroke-width="0.95"/><rect x="210.9" y="160.7" width="2.6" height="2.6" fill="none" stroke="#ff0000" stroke-width="0.95"/><rect x="213.5" y="179.0" width="2.6" height="2.6" fill="none" stroke="#ff0000" stroke-width="0.95"/><rect x="174.2" y="175.7" width="2.6" height="2.6" fill="none" stroke="#ff0000" stroke-width="0.95"/><rect x="174.2" y="178.2" width="2.6" height="2.6" fill="none" stroke="#008800" stroke-width="0.95"/><rect x="263.5" y="187.0" width="2.6" height="2.6" fill="none" stroke="#ff0000" stroke-width="0.95"/><rect x="260.2" y="187.9" width="2.6" height="2.6" fill="none" stroke="#008800" stroke-width="0.95"/><rect x="285.0" y="210.9" width="2.6" height="2.6" fill="none" stroke="#ff0000" stroke-width="0.95"/><rect x="214.9" y="214.9" width="2.6" height="2.6" fill="none" stroke="#ff0000" stroke-width="0.95"/><rect x="223.8" y="220.9" width="2.6" height="2.6" fill="none" stroke="#0000ff" stroke-width="0.95"/><rect x="214.9" y="225.9" width="2.6" height="2.6" fill="none" stroke="#008800" stroke-width="0.95"/><rect x="244.2" y="228.2" width="2.6" height="2.6" fill="none" stroke="#008800" stroke-width="0.95"/><rect x="246.6" y="228.2" width="2.6" height="2.6" fill="none" stroke="#ff0000" stroke-width="0.95"/><rect x="185.0" y="237.4" width="2.6" height="2.6" fill="none" stroke="#ff0000" stroke-width="0.95"/><rect x="185.0" y="237.0" width="2.6" height="2.6" fill="none" stroke="#ff0000" stroke-width="0.95"/><rect x="186.8" y="269.0" width="2.6" height="2.6" fill="none" stroke="#ff0000" stroke-width="0.95"/><rect x="190.7" y="278.2" width="2.6" height="2.6" fill="none" stroke="#0000ff" stroke-width="0.95"/><rect x="210.9" y="282.4" width="2.6" height="2.6" fill="none" stroke="#0000ff" stroke-width="0.95"/><rect x="246.5" y="255.9" width="2.6" height="2.6" fill="none" stroke="#0000ff" stroke-width="0.95"/><rect x="238.6" y="272.0" width="2.6" height="2.6" fill="none" stroke="#008800" stroke-width="0.95"/><rect x="240.8" y="272.0" width="2.6" height="2.6" fill="none" stroke="#ff0000" stroke-width="0.95"/><rect x="268.3" y="267.0" width="2.6" height="2.6" fill="none" stroke="#008800" stroke-width="0.95"/><rect x="291.0" y="258.2" width="2.6" height="2.6" fill="none" stroke="#ff0000" stroke-width="0.95"/><rect x="296.0" y="259.5" width="2.6" height="2.6" fill="none" stroke="#008800" stroke-width="0.95"/><rect x="173.0" y="305.9" width="2.6" height="2.6" fill="none" stroke="#0000ff" stroke-width="0.95"/><rect x="206.0" y="315.9" width="2.6" height="2.6" fill="none" stroke="#ff0000" stroke-width="0.95"/><rect x="58.9" y="277.4" width="2.6" height="2.6" fill="none" stroke="#0000ff" stroke-width="0.95"/><rect x="128.6" y="255.0" width="2.6" height="2.6" fill="none" stroke="#008800" stroke-width="0.95"/><rect x="154.0" y="257.9" width="2.6" height="2.6" fill="none" stroke="#0000ff" stroke-width="0.95"/><rect x="116.4" y="261.7" width="2.6" height="2.6" fill="none" stroke="#008800" stroke-width="0.95"/><rect x="132.6" y="275.0" width="2.6" height="2.6" fill="none" stroke="#ff0000" stroke-width="0.95"/><rect x="136.5" y="285.0" width="2.6" height="2.6" fill="none" stroke="#008800" stroke-width="0.95"/><rect x="114.3" y="287.5" width="2.6" height="2.6" fill="none" stroke="#ff0000" stroke-width="0.95"/><rect x="104.6" y="293.7" width="2.6" height="2.6" fill="none" stroke="#008800" stroke-width="0.95"/><rect x="91.7" y="304.0" width="2.6" height="2.6" fill="none" stroke="#ff0000" stroke-width="0.95"/><rect x="108.7" y="304.0" width="2.6" height="2.6" fill="none" stroke="#008800" stroke-width="0.95"/><rect x="132.6" y="308.2" width="2.6" height="2.6" fill="none" stroke="#ff0000" stroke-width="0.95"/><rect x="131.3" y="315.9" width="2.6" height="2.6" fill="none" stroke="#ff0000" stroke-width="0.95"/><rect x="161.2" y="302.9" width="2.6" height="2.6" fill="none" stroke="#ff0000" stroke-width="0.95"/><rect x="173.4" y="306.2" width="2.6" height="2.6" fill="none" stroke="#0000ff" stroke-width="0.95"/><rect x="186.8" y="269.0" width="2.6" height="2.6" fill="none" stroke="#ff0000" stroke-width="0.95"/><rect x="190.8" y="278.2" width="2.6" height="2.6" fill="none" stroke="#0000ff" stroke-width="0.95"/><rect x="205.7" y="316.2" width="2.6" height="2.6" fill="none" stroke="#ff0000" stroke-width="0.95"/><rect x="164.0" y="321.2" width="2.6" height="2.6" fill="none" stroke="#008800" stroke-width="0.95"/><rect x="134.6" y="328.4" width="2.6" height="2.6" fill="none" stroke="#ff0000" stroke-width="0.95"/><rect x="146.2" y="328.4" width="2.6" height="2.6" fill="none" stroke="#ff0000" stroke-width="0.95"/><rect x="112.4" y="336.5" width="2.6" height="2.6" fill="none" stroke="#ff0000" stroke-width="0.95"/><rect x="139.4" y="336.2" width="2.6" height="2.6" fill="none" stroke="#ff0000" stroke-width="0.95"/><rect x="141.8" y="340.0" width="2.6" height="2.6" fill="none" stroke="#ff0000" stroke-width="0.95"/><rect x="142.3" y="345.9" width="2.6" height="2.6" fill="none" stroke="#ff0000" stroke-width="0.95"/><rect x="146.2" y="354.0" width="2.6" height="2.6" fill="none" stroke="#ff0000" stroke-width="0.95"/><rect x="151.1" y="352.9" width="2.6" height="2.6" fill="none" stroke="#008800" stroke-width="0.95"/><rect x="160.1" y="357.0" width="2.6" height="2.6" fill="none" stroke="#ff0000" stroke-width="0.95"/><rect x="187.9" y="357.0" width="2.6" height="2.6" fill="none" stroke="#ff0000" stroke-width="0.95"/><rect x="107.1" y="358.2" width="2.6" height="2.6" fill="none" stroke="#ff0000" stroke-width="0.95"/><rect x="99.8" y="358.2" width="2.6" height="2.6" fill="none" stroke="#008800" stroke-width="0.95"/><rect x="107.4" y="357.9" width="2.6" height="2.6" fill="none" stroke="#ff0000" stroke-width="0.95"/><rect x="99.5" y="358.4" width="2.6" height="2.6" fill="none" stroke="#008800" stroke-width="0.95"/><rect x="102.5" y="387.0" width="2.6" height="2.6" fill="none" stroke="#ff0000" stroke-width="0.95"/><rect x="79.9" y="437.0" width="2.6" height="2.6" fill="none" stroke="#ff0000" stroke-width="0.95"/><rect x="58.1" y="455.4" width="2.6" height="2.6" fill="none" stroke="#ff0000" stroke-width="0.95"/><rect x="45.3" y="497.4" width="2.6" height="2.6" fill="none" stroke="#ff0000" stroke-width="0.95"/><rect x="77.9" y="487.4" width="2.6" height="2.6" fill="none" stroke="#ff0000" stroke-width="0.95"/><rect x="85.7" y="488.2" width="2.6" height="2.6" fill="none" stroke="#ff0000" stroke-width="0.95"/><rect x="95.7" y="488.2" width="2.6" height="2.6" fill="none" stroke="#008800" stroke-width="0.95"/><rect x="104.3" y="483.2" width="2.6" height="2.6" fill="none" stroke="#ff0000" stroke-width="0.95"/><rect x="111.4" y="474.5" width="2.6" height="2.6" fill="none" stroke="#ff0000" stroke-width="0.95"/><rect x="81.7" y="507.4" width="2.6" height="2.6" fill="none" stroke="#0000ff" stroke-width="0.95"/><rect x="91.7" y="513.7" width="2.6" height="2.6" fill="none" stroke="#0000ff" stroke-width="0.95"/><rect x="108.4" y="511.5" width="2.6" height="2.6" fill="none" stroke="#ff0000" stroke-width="0.95"/><rect x="112.2" y="525.0" width="2.6" height="2.6" fill="none" stroke="#008800" stroke-width="0.95"/><rect x="69.1" y="527.0" width="2.6" height="2.6" fill="none" stroke="#ff0000" stroke-width="0.95"/><rect x="47.2" y="525.0" width="2.6" height="2.6" fill="none" stroke="#ff0000" stroke-width="0.95"/><rect x="50.0" y="534.2" width="2.6" height="2.6" fill="none" stroke="#ff0000" stroke-width="0.95"/><rect x="75.0" y="547.4" width="2.6" height="2.6" fill="none" stroke="#ff0000" stroke-width="0.95"/><rect x="95.4" y="547.4" width="2.6" height="2.6" fill="none" stroke="#ff0000" stroke-width="0.95"/><rect x="132.5" y="558.7" width="2.6" height="2.6" fill="none" stroke="#ff0000" stroke-width="0.95"/><rect x="75.0" y="547.0" width="2.6" height="2.6" fill="none" stroke="#ff0000" stroke-width="0.95"/><rect x="95.7" y="547.4" width="2.6" height="2.6" fill="none" stroke="#ff0000" stroke-width="0.95"/><rect x="132.5" y="558.7" width="2.6" height="2.6" fill="none" stroke="#ff0000" stroke-width="0.95"/><rect x="125.7" y="569.9" width="2.6" height="2.6" fill="none" stroke="#ff0000" stroke-width="0.95"/><rect x="124.5" y="574.0" width="2.6" height="2.6" fill="none" stroke="#0000ff" stroke-width="0.95"/><rect x="152.0" y="575.4" width="2.6" height="2.6" fill="none" stroke="#ff0000" stroke-width="0.95"/><rect x="112.7" y="580.0" width="2.6" height="2.6" fill="none" stroke="#ff0000" stroke-width="0.95"/><rect x="177.1" y="588.2" width="2.6" height="2.6" fill="none" stroke="#ff0000" stroke-width="0.95"/></g></g>
<text class="t1" x="15" y="26.5" text-anchor="start" textLength="274.3" lengthAdjust="spacingAndGlyphs">TOTAL RAINFALL FROM 1 JANUARY</text>
<text class="t2" x="76" y="51" text-anchor="start" textLength="154" lengthAdjust="spacingAndGlyphs">TO 24พฤศจิกายน 2025</text>
<text class="t1" x="378.3" y="26.5" text-anchor="start" textLength="217.7" lengthAdjust="spacingAndGlyphs">DEPARTURE FROM NORMAL</text>
<text class="t2" x="427.3" y="51" text-anchor="start" textLength="120" lengthAdjust="spacingAndGlyphs">TO 24พฤศจิกายน</text>
<text class="t1" x="740.7" y="26.5" text-anchor="start" textLength="194.3" lengthAdjust="spacingAndGlyphs">NUMBER OF RAINYDAYS</text>
<text class="t2" x="760.7" y="51" text-anchor="start" textLength="159.3" lengthAdjust="spacingAndGlyphs">TO 24พฤศจิกายน 2025</text>
<text class="ft" x="79.3" y="643.3" text-anchor="start" textLength="189.6" lengthAdjust="spacingAndGlyphs">THAI METEOROLOGICAL DEPARTMENT</text>
<text class="ft" x="414.3" y="643.3" text-anchor="start" textLength="189.6" lengthAdjust="spacingAndGlyphs">THAI METEOROLOGICAL DEPARTMENT</text>
<text class="ft" x="764.3" y="643.3" text-anchor="start" textLength="195.2" lengthAdjust="spacingAndGlyphs">THAI METEOROLOGICAL DEPARTMENT</text>
<rect x="1017.7" y="642.5" width="1.2" height="24.5" fill="#000"/>
<g transform="translate(31.2,642.6) scale(1,1)"><circle r="25.8" fill="#fff" stroke="#111" stroke-width="1.2"/><circle r="23.900000000000002" fill="none" stroke="#222" stroke-width="1.7" stroke-dasharray="2.2 1.1"/><circle r="22.0" fill="none" stroke="#222" stroke-width="0.9"/><circle r="19.200000000000003" fill="none" stroke="#2a2a2a" stroke-width="3.6" stroke-dasharray="1.3 1.0" opacity="0.85"/><circle r="16.4" fill="#f2f2f2" stroke="#333" stroke-width="0.8"/><path d="M-12,-3 l3.5,5 M12,-3 l-3.5,5 M-13,4 l4,3.5 M13,4 l-4,3.5 M-8,-10 l2.5,4.5 M8,-10 l-2.5,4.5 M-14,-7 l3,2 M14,-7 l-3,2 M-5,-13 l1,3 M5,-13 l-1,3" stroke="#444" stroke-width="0.9" fill="none"/><path d="M0,-14 L2.6,-8.5 L1.6,-8.5 L4.6,-3 L3,-3 L7,5 L-7,5 L-3,-3 L-4.6,-3 L-1.6,-8.5 L-2.6,-8.5 Z" fill="#58a85a" stroke="#1c2c1e" stroke-width="0.8"/><path d="M0,-12 L0,5 M-3.5,0 L3.5,0 M-2.3,-5.5 L2.3,-5.5" stroke="#243a26" stroke-width="0.9" fill="none"/><path d="M-9.5,5 L9.5,5 L8,12.5 L-8,12.5 Z" fill="#c8a62a" stroke="#3a3010" stroke-width="0.8"/><path d="M-6,6.5 L6,11 M6,6.5 L-6,11 M0,5 L0,12.5" stroke="#6a5614" stroke-width="0.8" fill="none"/></g>
<g transform="translate(366.2,642.6) scale(1,1)"><circle r="25.8" fill="#fff" stroke="#111" stroke-width="1.2"/><circle r="23.900000000000002" fill="none" stroke="#222" stroke-width="1.7" stroke-dasharray="2.2 1.1"/><circle r="22.0" fill="none" stroke="#222" stroke-width="0.9"/><circle r="19.200000000000003" fill="none" stroke="#2a2a2a" stroke-width="3.6" stroke-dasharray="1.3 1.0" opacity="0.85"/><circle r="16.4" fill="#f2f2f2" stroke="#333" stroke-width="0.8"/><path d="M-12,-3 l3.5,5 M12,-3 l-3.5,5 M-13,4 l4,3.5 M13,4 l-4,3.5 M-8,-10 l2.5,4.5 M8,-10 l-2.5,4.5 M-14,-7 l3,2 M14,-7 l-3,2 M-5,-13 l1,3 M5,-13 l-1,3" stroke="#444" stroke-width="0.9" fill="none"/><path d="M0,-14 L2.6,-8.5 L1.6,-8.5 L4.6,-3 L3,-3 L7,5 L-7,5 L-3,-3 L-4.6,-3 L-1.6,-8.5 L-2.6,-8.5 Z" fill="#58a85a" stroke="#1c2c1e" stroke-width="0.8"/><path d="M0,-12 L0,5 M-3.5,0 L3.5,0 M-2.3,-5.5 L2.3,-5.5" stroke="#243a26" stroke-width="0.9" fill="none"/><path d="M-9.5,5 L9.5,5 L8,12.5 L-8,12.5 Z" fill="#c8a62a" stroke="#3a3010" stroke-width="0.8"/><path d="M-6,6.5 L6,11 M6,6.5 L-6,11 M0,5 L0,12.5" stroke="#6a5614" stroke-width="0.8" fill="none"/></g>
<g transform="translate(714.8,642.6) scale(1.03,1)"><circle r="25.8" fill="#fff" stroke="#111" stroke-width="1.2"/><circle r="23.900000000000002" fill="none" stroke="#222" stroke-width="1.7" stroke-dasharray="2.2 1.1"/><circle r="22.0" fill="none" stroke="#222" stroke-width="0.9"/><circle r="19.200000000000003" fill="none" stroke="#2a2a2a" stroke-width="3.6" stroke-dasharray="1.3 1.0" opacity="0.85"/><circle r="16.4" fill="#f2f2f2" stroke="#333" stroke-width="0.8"/><path d="M-12,-3 l3.5,5 M12,-3 l-3.5,5 M-13,4 l4,3.5 M13,4 l-4,3.5 M-8,-10 l2.5,4.5 M8,-10 l-2.5,4.5 M-14,-7 l3,2 M14,-7 l-3,2 M-5,-13 l1,3 M5,-13 l-1,3" stroke="#444" stroke-width="0.9" fill="none"/><path d="M0,-14 L2.6,-8.5 L1.6,-8.5 L4.6,-3 L3,-3 L7,5 L-7,5 L-3,-3 L-4.6,-3 L-1.6,-8.5 L-2.6,-8.5 Z" fill="#58a85a" stroke="#1c2c1e" stroke-width="0.8"/><path d="M0,-12 L0,5 M-3.5,0 L3.5,0 M-2.3,-5.5 L2.3,-5.5" stroke="#243a26" stroke-width="0.9" fill="none"/><path d="M-9.5,5 L9.5,5 L8,12.5 L-8,12.5 Z" fill="#c8a62a" stroke="#3a3010" stroke-width="0.8"/><path d="M-6,6.5 L6,11 M6,6.5 L-6,11 M0,5 L0,12.5" stroke="#6a5614" stroke-width="0.8" fill="none"/></g>
<rect x="259" y="369.20" width="25" height="10.79" fill="#8b0000" stroke="#000" stroke-width="0.9"/><rect x="259" y="379.99" width="25" height="10.79" fill="#dd0000" stroke="#000" stroke-width="0.9"/><rect x="259" y="390.77" width="25" height="10.79" fill="#e8204a" stroke="#000" stroke-width="0.9"/><rect x="259.5" y="391.27" width="24" height="9.79" fill="url(#dots)" opacity="0.16"/><rect x="259" y="401.56" width="25" height="10.79" fill="#ff3388" stroke="#000" stroke-width="0.9"/><rect x="259" y="412.34" width="25" height="10.79" fill="#660066" stroke="#000" stroke-width="0.9"/><rect x="259.5" y="412.84" width="24" height="9.79" fill="url(#dots)" opacity="0.16"/><rect x="259" y="423.13" width="25" height="10.79" fill="#990099" stroke="#000" stroke-width="0.9"/><rect x="259" y="433.91" width="25" height="10.79" fill="#9933cc" stroke="#000" stroke-width="0.9"/><rect x="259.5" y="434.41" width="24" height="9.79" fill="url(#dots)" opacity="0.16"/><rect x="259" y="444.70" width="25" height="10.79" fill="#9900ff" stroke="#000" stroke-width="0.9"/><rect x="259" y="455.49" width="25" height="10.79" fill="#003399" stroke="#000" stroke-width="0.9"/><rect x="259.5" y="455.99" width="24" height="9.79" fill="url(#dots)" opacity="0.16"/><rect x="259" y="466.27" width="25" height="10.79" fill="#0000ff" stroke="#000" stroke-width="0.9"/><rect x="259" y="477.06" width="25" height="10.79" fill="#6666ff" stroke="#000" stroke-width="0.9"/><rect x="259.5" y="477.56" width="24" height="9.79" fill="url(#dots)" opacity="0.16"/><rect x="259" y="487.84" width="25" height="10.79" fill="#00ccff" stroke="#000" stroke-width="0.9"/><rect x="259" y="498.63" width="25" height="10.79" fill="#00ffff" stroke="#000" stroke-width="0.9"/><rect x="259" y="509.41" width="25" height="10.79" fill="#006633" stroke="#000" stroke-width="0.9"/><rect x="259.5" y="509.91" width="24" height="9.79" fill="url(#dots)" opacity="0.16"/><rect x="259" y="520.20" width="25" height="10.79" fill="#009933" stroke="#000" stroke-width="0.9"/><rect x="259.5" y="520.70" width="24" height="9.79" fill="url(#dots)" opacity="0.16"/><rect x="259" y="530.99" width="25" height="10.79" fill="#00ff00" stroke="#000" stroke-width="0.9"/><rect x="259" y="541.77" width="25" height="10.79" fill="#ccffcc" stroke="#000" stroke-width="0.9"/><rect x="259.5" y="542.27" width="24" height="9.79" fill="url(#dots)" opacity="0.16"/><rect x="259" y="552.56" width="25" height="10.79" fill="#ffff66" stroke="#000" stroke-width="0.9"/><rect x="259" y="563.34" width="25" height="10.79" fill="#e09060" stroke="#000" stroke-width="0.9"/><rect x="259.5" y="563.84" width="24" height="9.79" fill="url(#dots)" opacity="0.16"/><rect x="259" y="574.13" width="25" height="10.79" fill="#ffcc99" stroke="#000" stroke-width="0.9"/><rect x="259.5" y="574.63" width="24" height="9.79" fill="url(#dots)" opacity="0.16"/><rect x="259" y="584.91" width="25" height="10.79" fill="#ffffff" stroke="#000" stroke-width="0.9"/><text class="lb" x="289.7" y="383.99" textLength="31.6" lengthAdjust="spacingAndGlyphs">5000</text><text class="lb" x="289.7" y="405.56" textLength="31.6" lengthAdjust="spacingAndGlyphs">3000</text><text class="lb" x="289.7" y="427.13" textLength="31.6" lengthAdjust="spacingAndGlyphs">2000</text><text class="lb" x="289.7" y="448.70" textLength="31.6" lengthAdjust="spacingAndGlyphs">1200</text><text class="lb" x="289.7" y="470.27" textLength="23.7" lengthAdjust="spacingAndGlyphs">800</text><text class="lb" x="289.7" y="491.84" textLength="23.7" lengthAdjust="spacingAndGlyphs">400</text><text class="lb" x="289.7" y="513.41" textLength="23.7" lengthAdjust="spacingAndGlyphs">200</text><text class="lb" x="289.7" y="534.99" textLength="23.7" lengthAdjust="spacingAndGlyphs">100</text><text class="lb" x="289.7" y="556.56" textLength="15.8" lengthAdjust="spacingAndGlyphs">25</text><text class="lb" x="289.7" y="578.13" textLength="7.9" lengthAdjust="spacingAndGlyphs">5</text><text class="lb" x="289.7" y="599.70" textLength="7.9" lengthAdjust="spacingAndGlyphs">0</text><text class="lt" x="235.8" y="349.8" text-anchor="start" textLength="93.2" lengthAdjust="spacingAndGlyphs">RAINFALL : mm.</text>
<rect x="594" y="369.20" width="24" height="8.08" fill="#000060" stroke="#000" stroke-width="0.9"/><rect x="594.5" y="369.70" width="23" height="7.08" fill="url(#dots)" opacity="0.16"/><rect x="594" y="377.28" width="24" height="8.08" fill="#000068" stroke="#000" stroke-width="0.9"/><rect x="594.5" y="377.78" width="23" height="7.08" fill="url(#dots)" opacity="0.16"/><rect x="594" y="385.36" width="24" height="8.08" fill="#000080" stroke="#000" stroke-width="0.9"/><rect x="594" y="393.45" width="24" height="8.08" fill="#00008c" stroke="#000" stroke-width="0.9"/><rect x="594" y="401.53" width="24" height="8.08" fill="#0000a0" stroke="#000" stroke-width="0.9"/><rect x="594" y="409.61" width="24" height="8.08" fill="#3333ff" stroke="#000" stroke-width="0.9"/><rect x="594.5" y="410.11" width="23" height="7.08" fill="url(#dots)" opacity="0.16"/><rect x="594" y="417.69" width="24" height="8.08" fill="#6666ee" stroke="#000" stroke-width="0.9"/><rect x="594.5" y="418.19" width="23" height="7.08" fill="url(#dots)" opacity="0.16"/><rect x="594" y="425.77" width="24" height="8.08" fill="#6688ff" stroke="#000" stroke-width="0.9"/><rect x="594" y="433.86" width="24" height="8.08" fill="#00aaaa" stroke="#000" stroke-width="0.9"/><rect x="594" y="441.94" width="24" height="8.08" fill="#339966" stroke="#000" stroke-width="0.9"/><rect x="594.5" y="442.44" width="23" height="7.08" fill="url(#dots)" opacity="0.16"/><rect x="594" y="450.02" width="24" height="8.08" fill="#33cc33" stroke="#000" stroke-width="0.9"/><rect x="594.5" y="450.52" width="23" height="7.08" fill="url(#dots)" opacity="0.16"/><rect x="594" y="458.10" width="24" height="8.08" fill="#99ff99" stroke="#000" stroke-width="0.9"/><rect x="594" y="466.19" width="24" height="8.08" fill="#ccffcc" stroke="#000" stroke-width="0.9"/><rect x="594" y="474.27" width="24" height="8.08" fill="#ffffff" stroke="#000" stroke-width="0.9"/><rect x="594" y="482.35" width="24" height="8.08" fill="#ffffff" stroke="#000" stroke-width="0.9"/><rect x="594" y="490.43" width="24" height="8.08" fill="#ffffcc" stroke="#000" stroke-width="0.9"/><rect x="594" y="498.51" width="24" height="8.08" fill="#ffff66" stroke="#000" stroke-width="0.9"/><rect x="594" y="506.60" width="24" height="8.08" fill="#ffcc99" stroke="#000" stroke-width="0.9"/><rect x="594.5" y="507.10" width="23" height="7.08" fill="url(#dots)" opacity="0.16"/><rect x="594" y="514.68" width="24" height="8.08" fill="#ff9966" stroke="#000" stroke-width="0.9"/><rect x="594" y="522.76" width="24" height="8.08" fill="#ff6633" stroke="#000" stroke-width="0.9"/><rect x="594" y="530.84" width="24" height="8.08" fill="#ff0000" stroke="#000" stroke-width="0.9"/><rect x="594" y="538.92" width="24" height="8.08" fill="#dd0000" stroke="#000" stroke-width="0.9"/><rect x="594" y="547.01" width="24" height="8.08" fill="#aa0000" stroke="#000" stroke-width="0.9"/><rect x="594" y="555.09" width="24" height="8.08" fill="#880000" stroke="#000" stroke-width="0.9"/><rect x="594" y="563.17" width="24" height="8.08" fill="#6e0000" stroke="#000" stroke-width="0.9"/><rect x="594" y="571.25" width="24" height="8.08" fill="#5a0000" stroke="#000" stroke-width="0.9"/><rect x="594" y="579.34" width="24" height="8.08" fill="#5c3030" stroke="#000" stroke-width="0.9"/><rect x="594.5" y="579.84" width="23" height="7.08" fill="url(#dots)" opacity="0.16"/><rect x="594" y="587.42" width="24" height="8.08" fill="#6a4038" stroke="#000" stroke-width="0.9"/><rect x="594.5" y="587.92" width="23" height="7.08" fill="url(#dots)" opacity="0.16"/><text class="lb" x="622" y="389.36" textLength="23.7" lengthAdjust="spacingAndGlyphs">900</text><text class="lb" x="622" y="405.53" textLength="23.7" lengthAdjust="spacingAndGlyphs">500</text><text class="lb" x="622" y="421.69" textLength="23.7" lengthAdjust="spacingAndGlyphs">200</text><text class="lb" x="622" y="437.86" textLength="23.7" lengthAdjust="spacingAndGlyphs">100</text><text class="lb" x="622" y="454.02" textLength="15.8" lengthAdjust="spacingAndGlyphs">40</text><text class="lb" x="622" y="470.19" textLength="15.8" lengthAdjust="spacingAndGlyphs">20</text><text class="lb" x="622" y="486.35" textLength="7.9" lengthAdjust="spacingAndGlyphs">0</text><text class="lb" x="622" y="502.51" textLength="20.3" lengthAdjust="spacingAndGlyphs">-20</text><text class="lb" x="622" y="518.68" textLength="20.3" lengthAdjust="spacingAndGlyphs">-40</text><text class="lb" x="622" y="534.84" textLength="28.2" lengthAdjust="spacingAndGlyphs">-100</text><text class="lb" x="622" y="551.01" textLength="28.2" lengthAdjust="spacingAndGlyphs">-200</text><text class="lb" x="622" y="567.17" textLength="28.2" lengthAdjust="spacingAndGlyphs">-500</text><text class="lb" x="622" y="583.34" textLength="28.2" lengthAdjust="spacingAndGlyphs">-900</text><text class="lb" x="622" y="599.50" textLength="36.1" lengthAdjust="spacingAndGlyphs">-1700</text><text class="lt" x="570.8" y="349.8" text-anchor="start" textLength="93.2" lengthAdjust="spacingAndGlyphs">RAINFALL : mm.</text>
<rect x="949" y="369.20" width="29" height="17.42" fill="#005800" stroke="#000" stroke-width="0.9"/><rect x="949" y="386.62" width="29" height="17.42" fill="#007800" stroke="#000" stroke-width="0.9"/><rect x="949" y="404.05" width="29" height="17.42" fill="#009a00" stroke="#000" stroke-width="0.9"/><rect x="949.5" y="404.55" width="28" height="16.42" fill="url(#dots)" opacity="0.16"/><rect x="949" y="421.47" width="29" height="17.42" fill="#00cc00" stroke="#000" stroke-width="0.9"/><rect x="949.5" y="421.97" width="28" height="16.42" fill="url(#dots)" opacity="0.16"/><rect x="949" y="438.89" width="29" height="17.42" fill="#99ee00" stroke="#000" stroke-width="0.9"/><rect x="949" y="456.32" width="29" height="17.42" fill="#aaee22" stroke="#000" stroke-width="0.9"/><rect x="949.5" y="456.82" width="28" height="16.42" fill="url(#dots)" opacity="0.16"/><rect x="949" y="473.74" width="29" height="17.42" fill="#ddff00" stroke="#000" stroke-width="0.9"/><rect x="949" y="491.16" width="29" height="17.42" fill="#ddff00" stroke="#000" stroke-width="0.9"/><rect x="949" y="508.58" width="29" height="17.42" fill="#eecc00" stroke="#000" stroke-width="0.9"/><rect x="949.5" y="509.08" width="28" height="16.42" fill="url(#dots)" opacity="0.16"/><rect x="949" y="526.01" width="29" height="17.42" fill="#ff9900" stroke="#000" stroke-width="0.9"/><rect x="949" y="543.43" width="29" height="17.42" fill="#ff6600" stroke="#000" stroke-width="0.9"/><rect x="949" y="560.85" width="29" height="17.42" fill="#ff3300" stroke="#000" stroke-width="0.9"/><rect x="949.5" y="561.35" width="28" height="16.42" fill="url(#dots)" opacity="0.16"/><rect x="949" y="578.28" width="29" height="17.42" fill="#fffff6" stroke="#000" stroke-width="0.9"/><text class="lb" x="985" y="390.62" textLength="27.3" lengthAdjust="spacingAndGlyphs">300</text><text class="lb" x="985" y="408.05" textLength="27.3" lengthAdjust="spacingAndGlyphs">250</text><text class="lb" x="985" y="425.47" textLength="27.3" lengthAdjust="spacingAndGlyphs">200</text><text class="lb" x="985" y="442.89" textLength="27.3" lengthAdjust="spacingAndGlyphs">150</text><text class="lb" x="985" y="460.32" textLength="27.3" lengthAdjust="spacingAndGlyphs">100</text><text class="lb" x="985" y="477.74" textLength="18.2" lengthAdjust="spacingAndGlyphs">80</text><text class="lb" x="985" y="495.16" textLength="18.2" lengthAdjust="spacingAndGlyphs">60</text><text class="lb" x="985" y="512.58" textLength="18.2" lengthAdjust="spacingAndGlyphs">50</text><text class="lb" x="985" y="530.01" textLength="18.2" lengthAdjust="spacingAndGlyphs">40</text><text class="lb" x="985" y="547.43" textLength="18.2" lengthAdjust="spacingAndGlyphs">30</text><text class="lb" x="985" y="564.85" textLength="18.2" lengthAdjust="spacingAndGlyphs">20</text><text class="lb" x="985" y="582.28" textLength="18.2" lengthAdjust="spacingAndGlyphs">10</text><text class="lb" x="985" y="599.70" textLength="9.1" lengthAdjust="spacingAndGlyphs">0</text><text class="lt" x="925" y="349.8" text-anchor="start" textLength="33.75" lengthAdjust="spacingAndGlyphs">DAYS</text>
</svg></body></html>
